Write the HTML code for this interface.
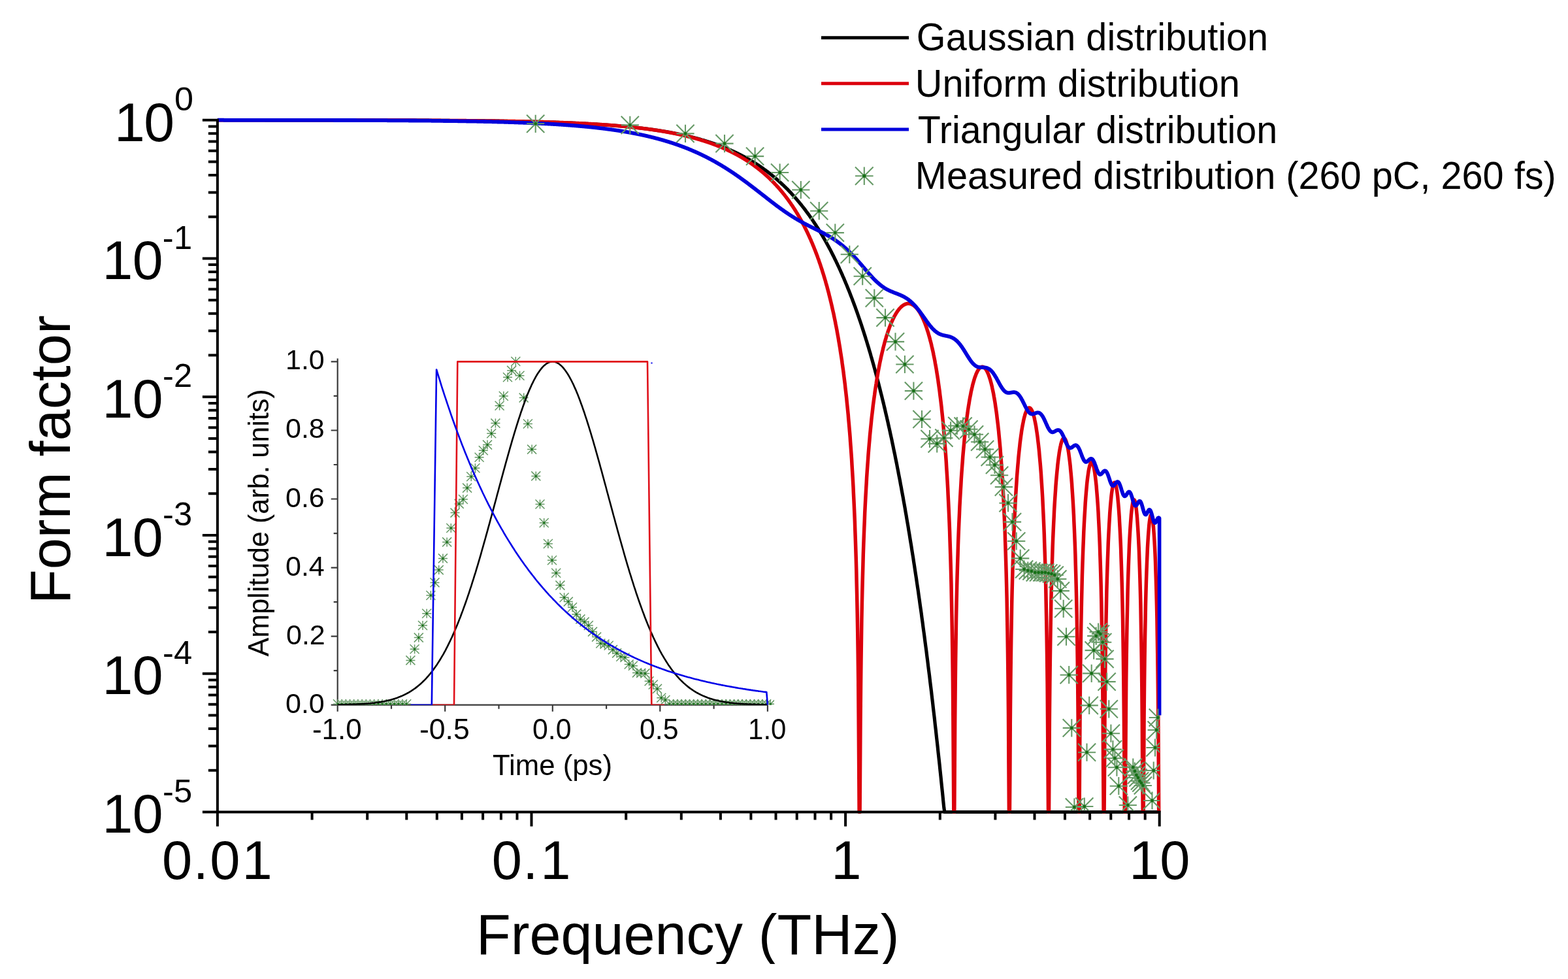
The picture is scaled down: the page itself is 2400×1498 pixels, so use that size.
<!DOCTYPE html>
<html><head><meta charset="utf-8"><style>
html,body{margin:0;padding:0;background:#fff;}
svg{display:block;}
text{font-family:"Liberation Sans",Arial,sans-serif;fill:#000;}
</style></head><body>
<svg width="2400" height="1498" viewBox="0 0 2400 1498">
<defs><clipPath id="cl"><rect x="0" y="0" width="2400" height="1475"/></clipPath>
<clipPath id="plot"><rect x="329.9" y="100" width="1447.8000000000002" height="1145.5"/></clipPath><clipPath id="sclip"><rect x="332.9" y="100" width="1442.3000000000002" height="1142.5"/></clipPath>
</defs>
<rect width="2400" height="1498" fill="#fff"/>
<g clip-path="url(#cl)">

<text transform="translate(266.94,168.50) scale(1.0292,1)" font-size="50.7">0</text>
<text transform="translate(249.00,592.42) scale(1.0000,1)" font-size="50.7">-2</text>
<text transform="translate(249.00,804.18) scale(1.0000,1)" font-size="50.7">-3</text>
<text transform="translate(249.00,1015.94) scale(1.0000,1)" font-size="50.7">-4</text>
<text transform="translate(249.00,1227.70) scale(1.0000,1)" font-size="50.7">-5</text>
<text transform="translate(729.05,1459.50) scale(0.9922,1)" font-size="87">Frequency (THz)</text>
<text transform="translate(107.00,923.95) rotate(-90) scale(0.9931,1)" font-size="87">Form factor</text>
<text transform="translate(1402.84,77.20) scale(0.9855,1)" font-size="58.5">Gaussian distribution</text>
<text transform="translate(1400.87,147.95) scale(0.9863,1)" font-size="58.5">Uniform distribution</text>
<text transform="translate(1404.82,218.70) scale(0.9823,1)" font-size="58.5">Triangular distribution</text>
<text transform="translate(1400.87,289.45) scale(0.9860,1)" font-size="58.5">Measured distribution (260 pC, 260 fs)</text>
<text transform="translate(437.00,1090.70) scale(1.0000,1)" font-size="43">0.0</text>
<text transform="translate(438.00,985.64) scale(1.0000,1)" font-size="43">0.2</text>
<text transform="translate(437.00,880.58) scale(1.0000,1)" font-size="43">0.4</text>
<text transform="translate(437.00,775.52) scale(1.0000,1)" font-size="43">0.6</text>
<text transform="translate(437.00,670.46) scale(1.0000,1)" font-size="43">0.8</text>
<text transform="translate(437.00,565.40) scale(1.0000,1)" font-size="43">1.0</text>
<text transform="translate(477.98,1131.00) scale(1.0099,1)" font-size="43.5">-1.0</text>
<text transform="translate(641.95,1131.00) scale(1.0239,1)" font-size="43.5">-0.5</text>
<text transform="translate(815.04,1131.00) scale(0.9825,1)" font-size="43.5">0.0</text>
<text transform="translate(979.04,1131.00) scale(0.9825,1)" font-size="43.5">0.5</text>
<text transform="translate(1145.11,1131.00) scale(0.9643,1)" font-size="43.5">1.0</text>
<text transform="translate(754.01,1186.00) scale(0.9944,1)" font-size="44">Time (ps)</text>
<text transform="translate(410.60,1004.40) rotate(-90) scale(0.9783,1)" font-size="44">Amplitude (arb. units)</text>
<text x="248.1 295.8 321.2 370.6" y="1345.1" font-size="83.1">0.01</text>
<text x="752.7 800.3 827.3" y="1345.1" font-size="83.1">0.1</text>
<text x="1272.3" y="1345.1" font-size="83.1">1</text>
<text x="1728.2 1775.3" y="1345.1" font-size="83.1">10</text>
<text x="175.0 220.3" y="216.0" font-size="84.2">10</text>
<text x="156.4 202.7" y="427.0" font-size="84.2">10</text>
<text x="156.4 202.7" y="638.7" font-size="84.2">10</text>
<text x="156.4 202.7" y="850.5" font-size="84.2">10</text>
<text x="156.4 202.7" y="1062.2" font-size="84.2">10</text>
<text x="156.4 202.7" y="1274.0" font-size="84.2">10</text>
<text x="248.8 266.0" y="380.7" font-size="50.7">-1</text>
<g clip-path="url(#plot)" fill="none" stroke-linejoin="round">
<path d="M332.9,183.7 L333.9,183.7 L334.8,183.7 L335.8,183.7 L336.7,183.7 L337.7,183.7 L338.7,183.7 L339.6,183.7 L340.6,183.7 L341.6,183.7 L342.5,183.7 L343.5,183.7 L344.4,183.7 L345.4,183.7 L346.4,183.7 L347.3,183.7 L348.3,183.7 L349.3,183.7 L350.2,183.7 L351.2,183.7 L352.1,183.7 L353.1,183.7 L354.1,183.7 L355.0,183.7 L356.0,183.7 L356.9,183.7 L357.9,183.7 L358.9,183.7 L359.8,183.7 L360.8,183.7 L361.8,183.7 L362.7,183.7 L363.7,183.7 L364.6,183.7 L365.6,183.7 L366.6,183.7 L367.5,183.7 L368.5,183.7 L369.4,183.7 L370.4,183.7 L371.4,183.7 L372.3,183.7 L373.3,183.7 L374.3,183.7 L375.2,183.7 L376.2,183.7 L377.1,183.7 L378.1,183.7 L379.1,183.7 L380.0,183.7 L381.0,183.7 L382.0,183.7 L382.9,183.7 L383.9,183.7 L384.8,183.7 L385.8,183.7 L386.8,183.7 L387.7,183.7 L388.7,183.7 L389.6,183.7 L390.6,183.7 L391.6,183.7 L392.5,183.7 L393.5,183.7 L394.5,183.7 L395.4,183.7 L396.4,183.7 L397.3,183.7 L398.3,183.7 L399.3,183.7 L400.2,183.7 L401.2,183.7 L402.2,183.7 L403.1,183.7 L404.1,183.7 L405.0,183.7 L406.0,183.8 L407.0,183.8 L407.9,183.8 L408.9,183.8 L409.8,183.8 L410.8,183.8 L411.8,183.8 L412.7,183.8 L413.7,183.8 L414.7,183.8 L415.6,183.8 L416.6,183.8 L417.5,183.8 L418.5,183.8 L419.5,183.8 L420.4,183.8 L421.4,183.8 L422.4,183.8 L423.3,183.8 L424.3,183.8 L425.2,183.8 L426.2,183.8 L427.2,183.8 L428.1,183.8 L429.1,183.8 L430.0,183.8 L431.0,183.8 L432.0,183.8 L432.9,183.8 L433.9,183.8 L434.9,183.8 L435.8,183.8 L436.8,183.8 L437.7,183.8 L438.7,183.8 L439.7,183.8 L440.6,183.8 L441.6,183.8 L442.5,183.8 L443.5,183.8 L444.5,183.8 L445.4,183.8 L446.4,183.8 L447.4,183.8 L448.3,183.8 L449.3,183.8 L450.2,183.8 L451.2,183.8 L452.2,183.8 L453.1,183.8 L454.1,183.8 L455.1,183.8 L456.0,183.8 L457.0,183.8 L457.9,183.8 L458.9,183.8 L459.9,183.8 L460.8,183.8 L461.8,183.8 L462.7,183.8 L463.7,183.8 L464.7,183.8 L465.6,183.8 L466.6,183.8 L467.6,183.8 L468.5,183.8 L469.5,183.8 L470.4,183.8 L471.4,183.8 L472.4,183.8 L473.3,183.8 L474.3,183.8 L475.3,183.8 L476.2,183.8 L477.2,183.8 L478.1,183.8 L479.1,183.8 L480.1,183.8 L481.0,183.8 L482.0,183.8 L482.9,183.8 L483.9,183.8 L484.9,183.8 L485.8,183.8 L486.8,183.8 L487.8,183.8 L488.7,183.8 L489.7,183.8 L490.6,183.8 L491.6,183.8 L492.6,183.8 L493.5,183.8 L494.5,183.8 L495.5,183.8 L496.4,183.8 L497.4,183.8 L498.3,183.8 L499.3,183.8 L500.3,183.8 L501.2,183.8 L502.2,183.8 L503.1,183.8 L504.1,183.8 L505.1,183.8 L506.0,183.8 L507.0,183.8 L508.0,183.8 L508.9,183.8 L509.9,183.8 L510.8,183.8 L511.8,183.8 L512.8,183.8 L513.7,183.8 L514.7,183.8 L515.6,183.8 L516.6,183.8 L517.6,183.8 L518.5,183.8 L519.5,183.8 L520.5,183.8 L521.4,183.9 L522.4,183.9 L523.3,183.9 L524.3,183.9 L525.3,183.9 L526.2,183.9 L527.2,183.9 L528.2,183.9 L529.1,183.9 L530.1,183.9 L531.0,183.9 L532.0,183.9 L533.0,183.9 L533.9,183.9 L534.9,183.9 L535.8,183.9 L536.8,183.9 L537.8,183.9 L538.7,183.9 L539.7,183.9 L540.7,183.9 L541.6,183.9 L542.6,183.9 L543.5,183.9 L544.5,183.9 L545.5,183.9 L546.4,183.9 L547.4,183.9 L548.4,183.9 L549.3,183.9 L550.3,183.9 L551.2,183.9 L552.2,183.9 L553.2,183.9 L554.1,183.9 L555.1,183.9 L556.0,183.9 L557.0,183.9 L558.0,183.9 L558.9,183.9 L559.9,183.9 L560.9,183.9 L561.8,183.9 L562.8,183.9 L563.7,183.9 L564.7,183.9 L565.7,183.9 L566.6,183.9 L567.6,183.9 L568.6,183.9 L569.5,183.9 L570.5,183.9 L571.4,183.9 L572.4,183.9 L573.4,183.9 L574.3,184.0 L575.3,184.0 L576.2,184.0 L577.2,184.0 L578.2,184.0 L579.1,184.0 L580.1,184.0 L581.1,184.0 L582.0,184.0 L583.0,184.0 L583.9,184.0 L584.9,184.0 L585.9,184.0 L586.8,184.0 L587.8,184.0 L588.7,184.0 L589.7,184.0 L590.7,184.0 L591.6,184.0 L592.6,184.0 L593.6,184.0 L594.5,184.0 L595.5,184.0 L596.4,184.0 L597.4,184.0 L598.4,184.0 L599.3,184.0 L600.3,184.0 L601.3,184.0 L602.2,184.0 L603.2,184.0 L604.1,184.0 L605.1,184.0 L606.1,184.0 L607.0,184.0 L608.0,184.0 L608.9,184.0 L609.9,184.1 L610.9,184.1 L611.8,184.1 L612.8,184.1 L613.8,184.1 L614.7,184.1 L615.7,184.1 L616.6,184.1 L617.6,184.1 L618.6,184.1 L619.5,184.1 L620.5,184.1 L621.5,184.1 L622.4,184.1 L623.4,184.1 L624.3,184.1 L625.3,184.1 L626.3,184.1 L627.2,184.1 L628.2,184.1 L629.1,184.1 L630.1,184.1 L631.1,184.1 L632.0,184.1 L633.0,184.1 L634.0,184.1 L634.9,184.1 L635.9,184.2 L636.8,184.2 L637.8,184.2 L638.8,184.2 L639.7,184.2 L640.7,184.2 L641.7,184.2 L642.6,184.2 L643.6,184.2 L644.5,184.2 L645.5,184.2 L646.5,184.2 L647.4,184.2 L648.4,184.2 L649.3,184.2 L650.3,184.2 L651.3,184.2 L652.2,184.2 L653.2,184.2 L654.2,184.2 L655.1,184.2 L656.1,184.2 L657.0,184.3 L658.0,184.3 L659.0,184.3 L659.9,184.3 L660.9,184.3 L661.8,184.3 L662.8,184.3 L663.8,184.3 L664.7,184.3 L665.7,184.3 L666.7,184.3 L667.6,184.3 L668.6,184.3 L669.5,184.3 L670.5,184.3 L671.5,184.3 L672.4,184.3 L673.4,184.3 L674.4,184.4 L675.3,184.4 L676.3,184.4 L677.2,184.4 L678.2,184.4 L679.2,184.4 L680.1,184.4 L681.1,184.4 L682.0,184.4 L683.0,184.4 L684.0,184.4 L684.9,184.4 L685.9,184.4 L686.9,184.4 L687.8,184.4 L688.8,184.5 L689.7,184.5 L690.7,184.5 L691.7,184.5 L692.6,184.5 L693.6,184.5 L694.6,184.5 L695.5,184.5 L696.5,184.5 L697.4,184.5 L698.4,184.5 L699.4,184.5 L700.3,184.5 L701.3,184.5 L702.2,184.6 L703.2,184.6 L704.2,184.6 L705.1,184.6 L706.1,184.6 L707.1,184.6 L708.0,184.6 L709.0,184.6 L709.9,184.6 L710.9,184.6 L711.9,184.6 L712.8,184.6 L713.8,184.7 L714.8,184.7 L715.7,184.7 L716.7,184.7 L717.6,184.7 L718.6,184.7 L719.6,184.7 L720.5,184.7 L721.5,184.7 L722.4,184.7 L723.4,184.7 L724.4,184.8 L725.3,184.8 L726.3,184.8 L727.3,184.8 L728.2,184.8 L729.2,184.8 L730.1,184.8 L731.1,184.8 L732.1,184.8 L733.0,184.8 L734.0,184.9 L734.9,184.9 L735.9,184.9 L736.9,184.9 L737.8,184.9 L738.8,184.9 L739.8,184.9 L740.7,184.9 L741.7,184.9 L742.6,185.0 L743.6,185.0 L744.6,185.0 L745.5,185.0 L746.5,185.0 L747.5,185.0 L748.4,185.0 L749.4,185.0 L750.3,185.1 L751.3,185.1 L752.3,185.1 L753.2,185.1 L754.2,185.1 L755.1,185.1 L756.1,185.1 L757.1,185.1 L758.0,185.2 L759.0,185.2 L760.0,185.2 L760.9,185.2 L761.9,185.2 L762.8,185.2 L763.8,185.2 L764.8,185.3 L765.7,185.3 L766.7,185.3 L767.7,185.3 L768.6,185.3 L769.6,185.3 L770.5,185.3 L771.5,185.4 L772.5,185.4 L773.4,185.4 L774.4,185.4 L775.3,185.4 L776.3,185.4 L777.3,185.5 L778.2,185.5 L779.2,185.5 L780.2,185.5 L781.1,185.5 L782.1,185.5 L783.0,185.6 L784.0,185.6 L785.0,185.6 L785.9,185.6 L786.9,185.6 L787.9,185.6 L788.8,185.7 L789.8,185.7 L790.7,185.7 L791.7,185.7 L792.7,185.7 L793.6,185.8 L794.6,185.8 L795.5,185.8 L796.5,185.8 L797.5,185.8 L798.4,185.8 L799.4,185.9 L800.4,185.9 L801.3,185.9 L802.3,185.9 L803.2,186.0 L804.2,186.0 L805.2,186.0 L806.1,186.0 L807.1,186.0 L808.0,186.1 L809.0,186.1 L810.0,186.1 L810.9,186.1 L811.9,186.1 L812.9,186.2 L813.8,186.2 L814.8,186.2 L815.7,186.2 L816.7,186.3 L817.7,186.3 L818.6,186.3 L819.6,186.3 L820.6,186.4 L821.5,186.4 L822.5,186.4 L823.4,186.4 L824.4,186.5 L825.4,186.5 L826.3,186.5 L827.3,186.5 L828.2,186.6 L829.2,186.6 L830.2,186.6 L831.1,186.6 L832.1,186.7 L833.1,186.7 L834.0,186.7 L835.0,186.8 L835.9,186.8 L836.9,186.8 L837.9,186.8 L838.8,186.9 L839.8,186.9 L840.8,186.9 L841.7,187.0 L842.7,187.0 L843.6,187.0 L844.6,187.0 L845.6,187.1 L846.5,187.1 L847.5,187.1 L848.4,187.2 L849.4,187.2 L850.4,187.2 L851.3,187.3 L852.3,187.3 L853.3,187.3 L854.2,187.4 L855.2,187.4 L856.1,187.4 L857.1,187.5 L858.1,187.5 L859.0,187.5 L860.0,187.6 L861.0,187.6 L861.9,187.6 L862.9,187.7 L863.8,187.7 L864.8,187.8 L865.8,187.8 L866.7,187.8 L867.7,187.9 L868.6,187.9 L869.6,188.0 L870.6,188.0 L871.5,188.0 L872.5,188.1 L873.5,188.1 L874.4,188.2 L875.4,188.2 L876.3,188.2 L877.3,188.3 L878.3,188.3 L879.2,188.4 L880.2,188.4 L881.1,188.4 L882.1,188.5 L883.1,188.5 L884.0,188.6 L885.0,188.6 L886.0,188.7 L886.9,188.7 L887.9,188.8 L888.8,188.8 L889.8,188.9 L890.8,188.9 L891.7,189.0 L892.7,189.0 L893.7,189.1 L894.6,189.1 L895.6,189.2 L896.5,189.2 L897.5,189.3 L898.5,189.3 L899.4,189.4 L900.4,189.4 L901.3,189.5 L902.3,189.5 L903.3,189.6 L904.2,189.6 L905.2,189.7 L906.2,189.7 L907.1,189.8 L908.1,189.8 L909.0,189.9 L910.0,190.0 L911.0,190.0 L911.9,190.1 L912.9,190.1 L913.9,190.2 L914.8,190.3 L915.8,190.3 L916.7,190.4 L917.7,190.4 L918.7,190.5 L919.6,190.6 L920.6,190.6 L921.5,190.7 L922.5,190.8 L923.5,190.8 L924.4,190.9 L925.4,191.0 L926.4,191.0 L927.3,191.1 L928.3,191.2 L929.2,191.2 L930.2,191.3 L931.2,191.4 L932.1,191.4 L933.1,191.5 L934.1,191.6 L935.0,191.7 L936.0,191.7 L936.9,191.8 L937.9,191.9 L938.9,192.0 L939.8,192.0 L940.8,192.1 L941.7,192.2 L942.7,192.3 L943.7,192.3 L944.6,192.4 L945.6,192.5 L946.6,192.6 L947.5,192.7 L948.5,192.7 L949.4,192.8 L950.4,192.9 L951.4,193.0 L952.3,193.1 L953.3,193.2 L954.2,193.3 L955.2,193.4 L956.2,193.4 L957.1,193.5 L958.1,193.6 L959.1,193.7 L960.0,193.8 L961.0,193.9 L961.9,194.0 L962.9,194.1 L963.9,194.2 L964.8,194.3 L965.8,194.4 L966.8,194.5 L967.7,194.6 L968.7,194.7 L969.6,194.8 L970.6,194.9 L971.6,195.0 L972.5,195.1 L973.5,195.2 L974.4,195.3 L975.4,195.4 L976.4,195.5 L977.3,195.6 L978.3,195.7 L979.3,195.9 L980.2,196.0 L981.2,196.1 L982.1,196.2 L983.1,196.3 L984.1,196.4 L985.0,196.5 L986.0,196.7 L987.0,196.8 L987.9,196.9 L988.9,197.0 L989.8,197.2 L990.8,197.3 L991.8,197.4 L992.7,197.5 L993.7,197.7 L994.6,197.8 L995.6,197.9 L996.6,198.0 L997.5,198.2 L998.5,198.3 L999.5,198.4 L1000.4,198.6 L1001.4,198.7 L1002.3,198.9 L1003.3,199.0 L1004.3,199.1 L1005.2,199.3 L1006.2,199.4 L1007.2,199.6 L1008.1,199.7 L1009.1,199.9 L1010.0,200.0 L1011.0,200.2 L1012.0,200.3 L1012.9,200.5 L1013.9,200.6 L1014.8,200.8 L1015.8,201.0 L1016.8,201.1 L1017.7,201.3 L1018.7,201.4 L1019.7,201.6 L1020.6,201.8 L1021.6,201.9 L1022.5,202.1 L1023.5,202.3 L1024.5,202.4 L1025.4,202.6 L1026.4,202.8 L1027.3,203.0 L1028.3,203.1 L1029.3,203.3 L1030.2,203.5 L1031.2,203.7 L1032.2,203.9 L1033.1,204.1 L1034.1,204.3 L1035.0,204.4 L1036.0,204.6 L1037.0,204.8 L1037.9,205.0 L1038.9,205.2 L1039.9,205.4 L1040.8,205.6 L1041.8,205.8 L1042.7,206.0 L1043.7,206.2 L1044.7,206.4 L1045.6,206.7 L1046.6,206.9 L1047.5,207.1 L1048.5,207.3 L1049.5,207.5 L1050.4,207.7 L1051.4,208.0 L1052.4,208.2 L1053.3,208.4 L1054.3,208.6 L1055.2,208.9 L1056.2,209.1 L1057.2,209.3 L1058.1,209.6 L1059.1,209.8 L1060.1,210.1 L1061.0,210.3 L1062.0,210.6 L1062.9,210.8 L1063.9,211.1 L1064.9,211.3 L1065.8,211.6 L1066.8,211.8 L1067.7,212.1 L1068.7,212.3 L1069.7,212.6 L1070.6,212.9 L1071.6,213.1 L1072.6,213.4 L1073.5,213.7 L1074.5,214.0 L1075.4,214.2 L1076.4,214.5 L1077.4,214.8 L1078.3,215.1 L1079.3,215.4 L1080.3,215.7 L1081.2,216.0 L1082.2,216.3 L1083.1,216.6 L1084.1,216.9 L1085.1,217.2 L1086.0,217.5 L1087.0,217.8 L1087.9,218.1 L1088.9,218.5 L1089.9,218.8 L1090.8,219.1 L1091.8,219.4 L1092.8,219.8 L1093.7,220.1 L1094.7,220.4 L1095.6,220.8 L1096.6,221.1 L1097.6,221.5 L1098.5,221.8 L1099.5,222.2 L1100.4,222.5 L1101.4,222.9 L1102.4,223.2 L1103.3,223.6 L1104.3,224.0 L1105.3,224.4 L1106.2,224.7 L1107.2,225.1 L1108.1,225.5 L1109.1,225.9 L1110.1,226.3 L1111.0,226.7 L1112.0,227.1 L1113.0,227.5 L1113.9,227.9 L1114.9,228.3 L1115.8,228.7 L1116.8,229.1 L1117.8,229.5 L1118.7,229.9 L1119.7,230.4 L1120.6,230.8 L1121.6,231.2 L1122.6,231.7 L1123.5,232.1 L1124.5,232.6 L1125.5,233.0 L1126.4,233.5 L1127.4,233.9 L1128.3,234.4 L1129.3,234.9 L1130.3,235.4 L1131.2,235.8 L1132.2,236.3 L1133.2,236.8 L1134.1,237.3 L1135.1,237.8 L1136.0,238.3 L1137.0,238.8 L1138.0,239.3 L1138.9,239.8 L1139.9,240.3 L1140.8,240.9 L1141.8,241.4 L1142.8,241.9 L1143.7,242.5 L1144.7,243.0 L1145.7,243.6 L1146.6,244.1 L1147.6,244.7 L1148.5,245.2 L1149.5,245.8 L1150.5,246.4 L1151.4,247.0 L1152.4,247.6 L1153.4,248.1 L1154.3,248.7 L1155.3,249.3 L1156.2,250.0 L1157.2,250.6 L1158.2,251.2 L1159.1,251.8 L1160.1,252.4 L1161.0,253.1 L1162.0,253.7 L1163.0,254.4 L1163.9,255.0 L1164.9,255.7 L1165.9,256.4 L1166.8,257.0 L1167.8,257.7 L1168.7,258.4 L1169.7,259.1 L1170.7,259.8 L1171.6,260.5 L1172.6,261.2 L1173.5,261.9 L1174.5,262.6 L1175.5,263.4 L1176.4,264.1 L1177.4,264.8 L1178.4,265.6 L1179.3,266.4 L1180.3,267.1 L1181.2,267.9 L1182.2,268.7 L1183.2,269.5 L1184.1,270.3 L1185.1,271.1 L1186.1,271.9 L1187.0,272.7 L1188.0,273.5 L1188.9,274.3 L1189.9,275.2 L1190.9,276.0 L1191.8,276.9 L1192.8,277.7 L1193.7,278.6 L1194.7,279.5 L1195.7,280.4 L1196.6,281.3 L1197.6,282.2 L1198.6,283.1 L1199.5,284.0 L1200.5,284.9 L1201.4,285.9 L1202.4,286.8 L1203.4,287.8 L1204.3,288.7 L1205.3,289.7 L1206.3,290.7 L1207.2,291.7 L1208.2,292.7 L1209.1,293.7 L1210.1,294.7 L1211.1,295.7 L1212.0,296.8 L1213.0,297.8 L1213.9,298.9 L1214.9,299.9 L1215.9,301.0 L1216.8,302.1 L1217.8,303.2 L1218.8,304.3 L1219.7,305.4 L1220.7,306.6 L1221.6,307.7 L1222.6,308.8 L1223.6,310.0 L1224.5,311.2 L1225.5,312.3 L1226.5,313.5 L1227.4,314.7 L1228.4,316.0 L1229.3,317.2 L1230.3,318.4 L1231.3,319.7 L1232.2,320.9 L1233.2,322.2 L1234.1,323.5 L1235.1,324.8 L1236.1,326.1 L1237.0,327.4 L1238.0,328.7 L1239.0,330.1 L1239.9,331.4 L1240.9,332.8 L1241.8,334.2 L1242.8,335.6 L1243.8,337.0 L1244.7,338.4 L1245.7,339.8 L1246.6,341.3 L1247.6,342.7 L1248.6,344.2 L1249.5,345.7 L1250.5,347.2 L1251.5,348.7 L1252.4,350.2 L1253.4,351.8 L1254.3,353.3 L1255.3,354.9 L1256.3,356.5 L1257.2,358.1 L1258.2,359.7 L1259.2,361.3 L1260.1,363.0 L1261.1,364.6 L1262.0,366.3 L1263.0,368.0 L1264.0,369.7 L1264.9,371.4 L1265.9,373.2 L1266.8,374.9 L1267.8,376.7 L1268.8,378.5 L1269.7,380.3 L1270.7,382.1 L1271.7,383.9 L1272.6,385.8 L1273.6,387.7 L1274.5,389.5 L1275.5,391.5 L1276.5,393.4 L1277.4,395.3 L1278.4,397.3 L1279.4,399.3 L1280.3,401.3 L1281.3,403.3 L1282.2,405.3 L1283.2,407.3 L1284.2,409.4 L1285.1,411.5 L1286.1,413.6 L1287.0,415.7 L1288.0,417.9 L1289.0,420.1 L1289.9,422.3 L1290.9,424.5 L1291.9,426.7 L1292.8,428.9 L1293.8,431.2 L1294.7,433.5 L1295.7,435.8 L1296.7,438.2 L1297.6,440.5 L1298.6,442.9 L1299.6,445.3 L1300.5,447.7 L1301.5,450.2 L1302.4,452.6 L1303.4,455.1 L1304.4,457.6 L1305.3,460.2 L1306.3,462.7 L1307.2,465.3 L1308.2,467.9 L1309.2,470.5 L1310.1,473.2 L1311.1,475.9 L1312.1,478.6 L1313.0,481.3 L1314.0,484.1 L1314.9,486.8 L1315.9,489.7 L1316.9,492.5 L1317.8,495.3 L1318.8,498.2 L1319.7,501.1 L1320.7,504.1 L1321.7,507.1 L1322.6,510.0 L1323.6,513.1 L1324.6,516.1 L1325.5,519.2 L1326.5,522.3 L1327.4,525.4 L1328.4,528.6 L1329.4,531.8 L1330.3,535.0 L1331.3,538.3 L1332.3,541.6 L1333.2,544.9 L1334.2,548.2 L1335.1,551.6 L1336.1,555.0 L1337.1,558.4 L1338.0,561.9 L1339.0,565.4 L1339.9,568.9 L1340.9,572.5 L1341.9,576.1 L1342.8,579.7 L1343.8,583.4 L1344.8,587.1 L1345.7,590.8 L1346.7,594.6 L1347.6,598.4 L1348.6,602.3 L1349.6,606.1 L1350.5,610.0 L1351.5,614.0 L1352.5,618.0 L1353.4,622.0 L1354.4,626.0 L1355.3,630.1 L1356.3,634.3 L1357.3,638.5 L1358.2,642.7 L1359.2,646.9 L1360.1,651.2 L1361.1,655.5 L1362.1,659.9 L1363.0,664.3 L1364.0,668.8 L1365.0,673.2 L1365.9,677.8 L1366.9,682.4 L1367.8,687.0 L1368.8,691.6 L1369.8,696.3 L1370.7,701.1 L1371.7,705.9 L1372.7,710.7 L1373.6,715.6 L1374.6,720.5 L1375.5,725.5 L1376.5,730.5 L1377.5,735.6 L1378.4,740.7 L1379.4,745.8 L1380.3,751.0 L1381.3,756.3 L1382.3,761.6 L1383.2,766.9 L1384.2,772.3 L1385.2,777.8 L1386.1,783.3 L1387.1,788.8 L1388.0,794.4 L1389.0,800.1 L1390.0,805.8 L1390.9,811.6 L1391.9,817.4 L1392.8,823.2 L1393.8,829.2 L1394.8,835.1 L1395.7,841.2 L1396.7,847.3 L1397.7,853.4 L1398.6,859.6 L1399.6,865.9 L1400.5,872.2 L1401.5,878.6 L1402.5,885.0 L1403.4,891.5 L1404.4,898.0 L1405.4,904.7 L1406.3,911.3 L1407.3,918.1 L1408.2,924.9 L1409.2,931.7 L1410.2,938.7 L1411.1,945.6 L1412.1,952.7 L1413.0,959.8 L1414.0,967.0 L1415.0,974.3 L1415.9,981.6 L1416.9,989.0 L1417.9,996.4 L1418.8,1003.9 L1419.8,1011.5 L1420.7,1019.2 L1421.7,1026.9 L1422.7,1034.7 L1423.6,1042.6 L1424.6,1050.6 L1425.6,1058.6 L1426.5,1066.7 L1427.5,1074.9 L1428.4,1083.1 L1429.4,1091.5 L1430.4,1099.9 L1431.3,1108.4 L1432.3,1116.9 L1433.2,1125.6 L1434.2,1134.3 L1435.2,1143.1 L1436.1,1152.0 L1437.1,1160.9 L1438.1,1170.0 L1439.0,1179.1 L1440.0,1188.3 L1440.9,1197.6 L1441.9,1207.0 L1442.9,1216.5 L1443.8,1226.0 L1444.8,1235.7 L1445.8,1242.5 L1446.7,1242.5 L1447.7,1242.5 L1448.6,1242.5 L1449.6,1242.5 L1450.6,1242.5 L1451.5,1242.5 L1452.5,1242.5 L1453.4,1242.5 L1454.4,1242.5 L1455.4,1242.5 L1456.3,1242.5 L1457.3,1242.5 L1458.3,1242.5 L1459.2,1242.5 L1460.2,1242.5 L1461.1,1242.5 L1462.1,1242.5 L1463.1,1242.5 L1464.0,1242.5 L1465.0,1242.5 L1465.9,1242.5 L1466.9,1242.5 L1467.9,1242.5 L1468.8,1242.5 L1469.8,1242.5 L1470.8,1242.5 L1471.7,1242.5 L1472.7,1242.5 L1473.6,1242.5 L1474.6,1242.5 L1475.6,1242.5 L1476.5,1242.5 L1477.5,1242.5 L1478.5,1242.5 L1479.4,1242.5 L1480.4,1242.5 L1481.3,1242.5 L1482.3,1242.5 L1483.3,1242.5 L1484.2,1242.5 L1485.2,1242.5 L1486.1,1242.5 L1487.1,1242.5 L1488.1,1242.5 L1489.0,1242.5 L1490.0,1242.5 L1491.0,1242.5 L1491.9,1242.5 L1492.9,1242.5 L1493.8,1242.5 L1494.8,1242.5 L1495.8,1242.5 L1496.7,1242.5 L1497.7,1242.5 L1498.7,1242.5 L1499.6,1242.5 L1500.6,1242.5 L1501.5,1242.5 L1502.5,1242.5 L1503.5,1242.5 L1504.4,1242.5 L1505.4,1242.5 L1506.3,1242.5 L1507.3,1242.5 L1508.3,1242.5 L1509.2,1242.5 L1510.2,1242.5 L1511.2,1242.5 L1512.1,1242.5 L1513.1,1242.5 L1514.0,1242.5 L1515.0,1242.5 L1516.0,1242.5 L1516.9,1242.5 L1517.9,1242.5 L1518.9,1242.5 L1519.8,1242.5 L1520.8,1242.5 L1521.7,1242.5 L1522.7,1242.5 L1523.7,1242.5 L1524.6,1242.5 L1525.6,1242.5 L1526.5,1242.5 L1527.5,1242.5 L1528.5,1242.5 L1529.4,1242.5 L1530.4,1242.5 L1531.4,1242.5 L1532.3,1242.5 L1533.3,1242.5 L1534.2,1242.5 L1535.2,1242.5 L1536.2,1242.5 L1537.1,1242.5 L1538.1,1242.5 L1539.0,1242.5 L1540.0,1242.5 L1541.0,1242.5 L1541.9,1242.5 L1542.9,1242.5 L1543.9,1242.5 L1544.8,1242.5 L1545.8,1242.5 L1546.7,1242.5 L1547.7,1242.5 L1548.7,1242.5 L1549.6,1242.5 L1550.6,1242.5 L1551.6,1242.5 L1552.5,1242.5 L1553.5,1242.5 L1554.4,1242.5 L1555.4,1242.5 L1556.4,1242.5 L1557.3,1242.5 L1558.3,1242.5 L1559.2,1242.5 L1560.2,1242.5 L1561.2,1242.5 L1562.1,1242.5 L1563.1,1242.5 L1564.1,1242.5 L1565.0,1242.5 L1566.0,1242.5 L1566.9,1242.5 L1567.9,1242.5 L1568.9,1242.5 L1569.8,1242.5 L1570.8,1242.5 L1571.8,1242.5 L1572.7,1242.5 L1573.7,1242.5 L1574.6,1242.5 L1575.6,1242.5 L1576.6,1242.5 L1577.5,1242.5 L1578.5,1242.5 L1579.4,1242.5 L1580.4,1242.5 L1581.4,1242.5 L1582.3,1242.5 L1583.3,1242.5 L1584.3,1242.5 L1585.2,1242.5 L1586.2,1242.5 L1587.1,1242.5 L1588.1,1242.5 L1589.1,1242.5 L1590.0,1242.5 L1591.0,1242.5 L1592.0,1242.5 L1592.9,1242.5 L1593.9,1242.5 L1594.8,1242.5 L1595.8,1242.5 L1596.8,1242.5 L1597.7,1242.5 L1598.7,1242.5 L1599.6,1242.5 L1600.6,1242.5 L1601.6,1242.5 L1602.5,1242.5 L1603.5,1242.5 L1604.5,1242.5 L1605.4,1242.5 L1606.4,1242.5 L1607.3,1242.5 L1608.3,1242.5 L1609.3,1242.5 L1610.2,1242.5 L1611.2,1242.5 L1612.1,1242.5 L1613.1,1242.5 L1614.1,1242.5 L1615.0,1242.5 L1616.0,1242.5 L1617.0,1242.5 L1617.9,1242.5 L1618.9,1242.5 L1619.8,1242.5 L1620.8,1242.5 L1621.8,1242.5 L1622.7,1242.5 L1623.7,1242.5 L1624.7,1242.5 L1625.6,1242.5 L1626.6,1242.5 L1627.5,1242.5 L1628.5,1242.5 L1629.5,1242.5 L1630.4,1242.5 L1631.4,1242.5 L1632.3,1242.5 L1633.3,1242.5 L1634.3,1242.5 L1635.2,1242.5 L1636.2,1242.5 L1637.2,1242.5 L1638.1,1242.5 L1639.1,1242.5 L1640.0,1242.5 L1641.0,1242.5 L1642.0,1242.5 L1642.9,1242.5 L1643.9,1242.5 L1644.9,1242.5 L1645.8,1242.5 L1646.8,1242.5 L1647.7,1242.5 L1648.7,1242.5 L1649.7,1242.5 L1650.6,1242.5 L1651.6,1242.5 L1652.5,1242.5 L1653.5,1242.5 L1654.5,1242.5 L1655.4,1242.5 L1656.4,1242.5 L1657.4,1242.5 L1658.3,1242.5 L1659.3,1242.5 L1660.2,1242.5 L1661.2,1242.5 L1662.2,1242.5 L1663.1,1242.5 L1664.1,1242.5 L1665.1,1242.5 L1666.0,1242.5 L1667.0,1242.5 L1667.9,1242.5 L1668.9,1242.5 L1669.9,1242.5 L1670.8,1242.5 L1671.8,1242.5 L1672.7,1242.5 L1673.7,1242.5 L1674.7,1242.5 L1675.6,1242.5 L1676.6,1242.5 L1677.6,1242.5 L1678.5,1242.5 L1679.5,1242.5 L1680.4,1242.5 L1681.4,1242.5 L1682.4,1242.5 L1683.3,1242.5 L1684.3,1242.5 L1685.2,1242.5 L1686.2,1242.5 L1687.2,1242.5 L1688.1,1242.5 L1689.1,1242.5 L1690.1,1242.5 L1691.0,1242.5 L1692.0,1242.5 L1692.9,1242.5 L1693.9,1242.5 L1694.9,1242.5 L1695.8,1242.5 L1696.8,1242.5 L1697.8,1242.5 L1698.7,1242.5 L1699.7,1242.5 L1700.6,1242.5 L1701.6,1242.5 L1702.6,1242.5 L1703.5,1242.5 L1704.5,1242.5 L1705.4,1242.5 L1706.4,1242.5 L1707.4,1242.5 L1708.3,1242.5 L1709.3,1242.5 L1710.3,1242.5 L1711.2,1242.5 L1712.2,1242.5 L1713.1,1242.5 L1714.1,1242.5 L1715.1,1242.5 L1716.0,1242.5 L1717.0,1242.5 L1718.0,1242.5 L1718.9,1242.5 L1719.9,1242.5 L1720.8,1242.5 L1721.8,1242.5 L1722.8,1242.5 L1723.7,1242.5 L1724.7,1242.5 L1725.6,1242.5 L1726.6,1242.5 L1727.6,1242.5 L1728.5,1242.5 L1729.5,1242.5 L1730.5,1242.5 L1731.4,1242.5 L1732.4,1242.5 L1733.3,1242.5 L1734.3,1242.5 L1735.3,1242.5 L1736.2,1242.5 L1737.2,1242.5 L1738.2,1242.5 L1739.1,1242.5 L1740.1,1242.5 L1741.0,1242.5 L1742.0,1242.5 L1743.0,1242.5 L1743.9,1242.5 L1744.9,1242.5 L1745.8,1242.5 L1746.8,1242.5 L1747.8,1242.5 L1748.7,1242.5 L1749.7,1242.5 L1750.7,1242.5 L1751.6,1242.5 L1752.6,1242.5 L1753.5,1242.5 L1754.5,1242.5 L1755.5,1242.5 L1756.4,1242.5 L1757.4,1242.5 L1758.3,1242.5 L1759.3,1242.5 L1760.3,1242.5 L1761.2,1242.5 L1762.2,1242.5 L1763.2,1242.5 L1764.1,1242.5 L1765.1,1242.5 L1766.0,1242.5 L1767.0,1242.5 L1768.0,1242.5 L1768.9,1242.5 L1769.9,1242.5 L1770.9,1242.5 L1771.8,1242.5 L1772.8,1242.5 L1773.7,1242.5 L1774.7,1242.5" stroke="#000" stroke-width="5.2"/>
<path d="M332.9,183.7 L333.4,183.7 L333.9,183.7 L334.3,183.7 L334.8,183.7 L335.3,183.7 L335.8,183.7 L336.3,183.7 L336.7,183.7 L337.2,183.7 L337.7,183.7 L338.2,183.7 L338.7,183.7 L339.1,183.7 L339.6,183.7 L340.1,183.7 L340.6,183.7 L341.1,183.7 L341.6,183.7 L342.0,183.7 L342.5,183.7 L343.0,183.7 L343.5,183.7 L344.0,183.7 L344.4,183.7 L344.9,183.7 L345.4,183.7 L345.9,183.7 L346.4,183.7 L346.8,183.7 L347.3,183.7 L347.8,183.7 L348.3,183.7 L348.8,183.7 L349.2,183.7 L349.7,183.7 L350.2,183.7 L350.7,183.7 L351.2,183.7 L351.6,183.7 L352.1,183.7 L352.6,183.7 L353.1,183.7 L353.6,183.7 L354.1,183.7 L354.5,183.7 L355.0,183.7 L355.5,183.7 L356.0,183.7 L356.5,183.7 L356.9,183.7 L357.4,183.7 L357.9,183.7 L358.4,183.7 L358.9,183.7 L359.3,183.7 L359.8,183.7 L360.3,183.7 L360.8,183.7 L361.3,183.7 L361.7,183.7 L362.2,183.7 L362.7,183.7 L363.2,183.7 L363.7,183.7 L364.1,183.7 L364.6,183.7 L365.1,183.7 L365.6,183.7 L366.1,183.7 L366.6,183.7 L367.0,183.7 L367.5,183.7 L368.0,183.7 L368.5,183.7 L369.0,183.7 L369.4,183.7 L369.9,183.7 L370.4,183.7 L370.9,183.7 L371.4,183.7 L371.8,183.7 L372.3,183.7 L372.8,183.7 L373.3,183.7 L373.8,183.7 L374.2,183.7 L374.7,183.7 L375.2,183.7 L375.7,183.7 L376.2,183.7 L376.6,183.7 L377.1,183.7 L377.6,183.7 L378.1,183.7 L378.6,183.7 L379.1,183.7 L379.5,183.7 L380.0,183.7 L380.5,183.7 L381.0,183.7 L381.5,183.7 L381.9,183.7 L382.4,183.7 L382.9,183.7 L383.4,183.7 L383.9,183.7 L384.3,183.7 L384.8,183.7 L385.3,183.7 L385.8,183.7 L386.3,183.7 L386.7,183.7 L387.2,183.7 L387.7,183.7 L388.2,183.7 L388.7,183.7 L389.1,183.7 L389.6,183.7 L390.1,183.7 L390.6,183.7 L391.1,183.7 L391.6,183.7 L392.0,183.7 L392.5,183.7 L393.0,183.7 L393.5,183.7 L394.0,183.7 L394.4,183.7 L394.9,183.7 L395.4,183.7 L395.9,183.7 L396.4,183.7 L396.8,183.7 L397.3,183.7 L397.8,183.7 L398.3,183.7 L398.8,183.7 L399.2,183.7 L399.7,183.7 L400.2,183.7 L400.7,183.7 L401.2,183.7 L401.6,183.7 L402.1,183.7 L402.6,183.7 L403.1,183.7 L403.6,183.7 L404.1,183.7 L404.5,183.7 L405.0,183.7 L405.5,183.7 L406.0,183.7 L406.5,183.7 L406.9,183.8 L407.4,183.8 L407.9,183.8 L408.4,183.8 L408.9,183.8 L409.3,183.8 L409.8,183.8 L410.3,183.8 L410.8,183.8 L411.3,183.8 L411.7,183.8 L412.2,183.8 L412.7,183.8 L413.2,183.8 L413.7,183.8 L414.1,183.8 L414.6,183.8 L415.1,183.8 L415.6,183.8 L416.1,183.8 L416.6,183.8 L417.0,183.8 L417.5,183.8 L418.0,183.8 L418.5,183.8 L419.0,183.8 L419.4,183.8 L419.9,183.8 L420.4,183.8 L420.9,183.8 L421.4,183.8 L421.8,183.8 L422.3,183.8 L422.8,183.8 L423.3,183.8 L423.8,183.8 L424.2,183.8 L424.7,183.8 L425.2,183.8 L425.7,183.8 L426.2,183.8 L426.6,183.8 L427.1,183.8 L427.6,183.8 L428.1,183.8 L428.6,183.8 L429.1,183.8 L429.5,183.8 L430.0,183.8 L430.5,183.8 L431.0,183.8 L431.5,183.8 L431.9,183.8 L432.4,183.8 L432.9,183.8 L433.4,183.8 L433.9,183.8 L434.3,183.8 L434.8,183.8 L435.3,183.8 L435.8,183.8 L436.3,183.8 L436.7,183.8 L437.2,183.8 L437.7,183.8 L438.2,183.8 L438.7,183.8 L439.1,183.8 L439.6,183.8 L440.1,183.8 L440.6,183.8 L441.1,183.8 L441.6,183.8 L442.0,183.8 L442.5,183.8 L443.0,183.8 L443.5,183.8 L444.0,183.8 L444.4,183.8 L444.9,183.8 L445.4,183.8 L445.9,183.8 L446.4,183.8 L446.8,183.8 L447.3,183.8 L447.8,183.8 L448.3,183.8 L448.8,183.8 L449.2,183.8 L449.7,183.8 L450.2,183.8 L450.7,183.8 L451.2,183.8 L451.6,183.8 L452.1,183.8 L452.6,183.8 L453.1,183.8 L453.6,183.8 L454.1,183.8 L454.5,183.8 L455.0,183.8 L455.5,183.8 L456.0,183.8 L456.5,183.8 L456.9,183.8 L457.4,183.8 L457.9,183.8 L458.4,183.8 L458.9,183.8 L459.3,183.8 L459.8,183.8 L460.3,183.8 L460.8,183.8 L461.3,183.8 L461.7,183.8 L462.2,183.8 L462.7,183.8 L463.2,183.8 L463.7,183.8 L464.1,183.8 L464.6,183.8 L465.1,183.8 L465.6,183.8 L466.1,183.8 L466.6,183.8 L467.0,183.8 L467.5,183.8 L468.0,183.8 L468.5,183.8 L469.0,183.8 L469.4,183.8 L469.9,183.8 L470.4,183.8 L470.9,183.8 L471.4,183.8 L471.8,183.8 L472.3,183.8 L472.8,183.8 L473.3,183.8 L473.8,183.8 L474.2,183.8 L474.7,183.8 L475.2,183.8 L475.7,183.8 L476.2,183.8 L476.6,183.8 L477.1,183.8 L477.6,183.8 L478.1,183.8 L478.6,183.8 L479.1,183.8 L479.5,183.8 L480.0,183.8 L480.5,183.8 L481.0,183.8 L481.5,183.8 L481.9,183.8 L482.4,183.8 L482.9,183.8 L483.4,183.8 L483.9,183.8 L484.3,183.8 L484.8,183.8 L485.3,183.8 L485.8,183.8 L486.3,183.8 L486.7,183.8 L487.2,183.8 L487.7,183.8 L488.2,183.8 L488.7,183.8 L489.1,183.8 L489.6,183.8 L490.1,183.8 L490.6,183.8 L491.1,183.8 L491.6,183.8 L492.0,183.8 L492.5,183.8 L493.0,183.8 L493.5,183.8 L494.0,183.8 L494.4,183.8 L494.9,183.8 L495.4,183.8 L495.9,183.8 L496.4,183.8 L496.8,183.8 L497.3,183.8 L497.8,183.8 L498.3,183.8 L498.8,183.8 L499.2,183.8 L499.7,183.8 L500.2,183.8 L500.7,183.8 L501.2,183.8 L501.6,183.8 L502.1,183.8 L502.6,183.8 L503.1,183.8 L503.6,183.8 L504.1,183.8 L504.5,183.8 L505.0,183.8 L505.5,183.8 L506.0,183.8 L506.5,183.8 L506.9,183.8 L507.4,183.8 L507.9,183.8 L508.4,183.8 L508.9,183.8 L509.3,183.8 L509.8,183.8 L510.3,183.8 L510.8,183.8 L511.3,183.8 L511.7,183.8 L512.2,183.8 L512.7,183.8 L513.2,183.8 L513.7,183.8 L514.1,183.8 L514.6,183.8 L515.1,183.8 L515.6,183.8 L516.1,183.8 L516.6,183.8 L517.0,183.8 L517.5,183.8 L518.0,183.8 L518.5,183.8 L519.0,183.8 L519.4,183.8 L519.9,183.8 L520.4,183.8 L520.9,183.8 L521.4,183.8 L521.8,183.9 L522.3,183.9 L522.8,183.9 L523.3,183.9 L523.8,183.9 L524.2,183.9 L524.7,183.9 L525.2,183.9 L525.7,183.9 L526.2,183.9 L526.6,183.9 L527.1,183.9 L527.6,183.9 L528.1,183.9 L528.6,183.9 L529.1,183.9 L529.5,183.9 L530.0,183.9 L530.5,183.9 L531.0,183.9 L531.5,183.9 L531.9,183.9 L532.4,183.9 L532.9,183.9 L533.4,183.9 L533.9,183.9 L534.3,183.9 L534.8,183.9 L535.3,183.9 L535.8,183.9 L536.3,183.9 L536.7,183.9 L537.2,183.9 L537.7,183.9 L538.2,183.9 L538.7,183.9 L539.1,183.9 L539.6,183.9 L540.1,183.9 L540.6,183.9 L541.1,183.9 L541.5,183.9 L542.0,183.9 L542.5,183.9 L543.0,183.9 L543.5,183.9 L544.0,183.9 L544.4,183.9 L544.9,183.9 L545.4,183.9 L545.9,183.9 L546.4,183.9 L546.8,183.9 L547.3,183.9 L547.8,183.9 L548.3,183.9 L548.8,183.9 L549.2,183.9 L549.7,183.9 L550.2,183.9 L550.7,183.9 L551.2,183.9 L551.6,183.9 L552.1,183.9 L552.6,183.9 L553.1,183.9 L553.6,183.9 L554.0,183.9 L554.5,183.9 L555.0,183.9 L555.5,183.9 L556.0,183.9 L556.5,183.9 L556.9,183.9 L557.4,183.9 L557.9,183.9 L558.4,183.9 L558.9,183.9 L559.3,183.9 L559.8,183.9 L560.3,183.9 L560.8,183.9 L561.3,183.9 L561.7,183.9 L562.2,183.9 L562.7,183.9 L563.2,183.9 L563.7,183.9 L564.1,183.9 L564.6,183.9 L565.1,183.9 L565.6,183.9 L566.1,183.9 L566.5,183.9 L567.0,183.9 L567.5,183.9 L568.0,183.9 L568.5,183.9 L569.0,183.9 L569.4,183.9 L569.9,183.9 L570.4,183.9 L570.9,183.9 L571.4,183.9 L571.8,183.9 L572.3,183.9 L572.8,183.9 L573.3,183.9 L573.8,183.9 L574.2,183.9 L574.7,183.9 L575.2,184.0 L575.7,184.0 L576.2,184.0 L576.6,184.0 L577.1,184.0 L577.6,184.0 L578.1,184.0 L578.6,184.0 L579.0,184.0 L579.5,184.0 L580.0,184.0 L580.5,184.0 L581.0,184.0 L581.5,184.0 L581.9,184.0 L582.4,184.0 L582.9,184.0 L583.4,184.0 L583.9,184.0 L584.3,184.0 L584.8,184.0 L585.3,184.0 L585.8,184.0 L586.3,184.0 L586.7,184.0 L587.2,184.0 L587.7,184.0 L588.2,184.0 L588.7,184.0 L589.1,184.0 L589.6,184.0 L590.1,184.0 L590.6,184.0 L591.1,184.0 L591.5,184.0 L592.0,184.0 L592.5,184.0 L593.0,184.0 L593.5,184.0 L594.0,184.0 L594.4,184.0 L594.9,184.0 L595.4,184.0 L595.9,184.0 L596.4,184.0 L596.8,184.0 L597.3,184.0 L597.8,184.0 L598.3,184.0 L598.8,184.0 L599.2,184.0 L599.7,184.0 L600.2,184.0 L600.7,184.0 L601.2,184.0 L601.6,184.0 L602.1,184.0 L602.6,184.0 L603.1,184.0 L603.6,184.0 L604.0,184.0 L604.5,184.0 L605.0,184.0 L605.5,184.0 L606.0,184.0 L606.5,184.0 L606.9,184.0 L607.4,184.0 L607.9,184.0 L608.4,184.0 L608.9,184.0 L609.3,184.0 L609.8,184.0 L610.3,184.1 L610.8,184.1 L611.3,184.1 L611.7,184.1 L612.2,184.1 L612.7,184.1 L613.2,184.1 L613.7,184.1 L614.1,184.1 L614.6,184.1 L615.1,184.1 L615.6,184.1 L616.1,184.1 L616.5,184.1 L617.0,184.1 L617.5,184.1 L618.0,184.1 L618.5,184.1 L619.0,184.1 L619.4,184.1 L619.9,184.1 L620.4,184.1 L620.9,184.1 L621.4,184.1 L621.8,184.1 L622.3,184.1 L622.8,184.1 L623.3,184.1 L623.8,184.1 L624.2,184.1 L624.7,184.1 L625.2,184.1 L625.7,184.1 L626.2,184.1 L626.6,184.1 L627.1,184.1 L627.6,184.1 L628.1,184.1 L628.6,184.1 L629.0,184.1 L629.5,184.1 L630.0,184.1 L630.5,184.1 L631.0,184.1 L631.5,184.1 L631.9,184.1 L632.4,184.1 L632.9,184.1 L633.4,184.1 L633.9,184.1 L634.3,184.1 L634.8,184.1 L635.3,184.1 L635.8,184.1 L636.3,184.2 L636.7,184.2 L637.2,184.2 L637.7,184.2 L638.2,184.2 L638.7,184.2 L639.1,184.2 L639.6,184.2 L640.1,184.2 L640.6,184.2 L641.1,184.2 L641.5,184.2 L642.0,184.2 L642.5,184.2 L643.0,184.2 L643.5,184.2 L644.0,184.2 L644.4,184.2 L644.9,184.2 L645.4,184.2 L645.9,184.2 L646.4,184.2 L646.8,184.2 L647.3,184.2 L647.8,184.2 L648.3,184.2 L648.8,184.2 L649.2,184.2 L649.7,184.2 L650.2,184.2 L650.7,184.2 L651.2,184.2 L651.6,184.2 L652.1,184.2 L652.6,184.2 L653.1,184.2 L653.6,184.2 L654.0,184.2 L654.5,184.2 L655.0,184.2 L655.5,184.2 L656.0,184.2 L656.5,184.2 L656.9,184.2 L657.4,184.3 L657.9,184.3 L658.4,184.3 L658.9,184.3 L659.3,184.3 L659.8,184.3 L660.3,184.3 L660.8,184.3 L661.3,184.3 L661.7,184.3 L662.2,184.3 L662.7,184.3 L663.2,184.3 L663.7,184.3 L664.1,184.3 L664.6,184.3 L665.1,184.3 L665.6,184.3 L666.1,184.3 L666.5,184.3 L667.0,184.3 L667.5,184.3 L668.0,184.3 L668.5,184.3 L669.0,184.3 L669.4,184.3 L669.9,184.3 L670.4,184.3 L670.9,184.3 L671.4,184.3 L671.8,184.3 L672.3,184.3 L672.8,184.3 L673.3,184.3 L673.8,184.3 L674.2,184.3 L674.7,184.4 L675.2,184.4 L675.7,184.4 L676.2,184.4 L676.6,184.4 L677.1,184.4 L677.6,184.4 L678.1,184.4 L678.6,184.4 L679.0,184.4 L679.5,184.4 L680.0,184.4 L680.5,184.4 L681.0,184.4 L681.5,184.4 L681.9,184.4 L682.4,184.4 L682.9,184.4 L683.4,184.4 L683.9,184.4 L684.3,184.4 L684.8,184.4 L685.3,184.4 L685.8,184.4 L686.3,184.4 L686.7,184.4 L687.2,184.4 L687.7,184.4 L688.2,184.4 L688.7,184.4 L689.1,184.4 L689.6,184.5 L690.1,184.5 L690.6,184.5 L691.1,184.5 L691.5,184.5 L692.0,184.5 L692.5,184.5 L693.0,184.5 L693.5,184.5 L694.0,184.5 L694.4,184.5 L694.9,184.5 L695.4,184.5 L695.9,184.5 L696.4,184.5 L696.8,184.5 L697.3,184.5 L697.8,184.5 L698.3,184.5 L698.8,184.5 L699.2,184.5 L699.7,184.5 L700.2,184.5 L700.7,184.5 L701.2,184.5 L701.6,184.5 L702.1,184.5 L702.6,184.6 L703.1,184.6 L703.6,184.6 L704.0,184.6 L704.5,184.6 L705.0,184.6 L705.5,184.6 L706.0,184.6 L706.5,184.6 L706.9,184.6 L707.4,184.6 L707.9,184.6 L708.4,184.6 L708.9,184.6 L709.3,184.6 L709.8,184.6 L710.3,184.6 L710.8,184.6 L711.3,184.6 L711.7,184.6 L712.2,184.6 L712.7,184.6 L713.2,184.6 L713.7,184.6 L714.1,184.7 L714.6,184.7 L715.1,184.7 L715.6,184.7 L716.1,184.7 L716.5,184.7 L717.0,184.7 L717.5,184.7 L718.0,184.7 L718.5,184.7 L719.0,184.7 L719.4,184.7 L719.9,184.7 L720.4,184.7 L720.9,184.7 L721.4,184.7 L721.8,184.7 L722.3,184.7 L722.8,184.7 L723.3,184.7 L723.8,184.7 L724.2,184.7 L724.7,184.8 L725.2,184.8 L725.7,184.8 L726.2,184.8 L726.6,184.8 L727.1,184.8 L727.6,184.8 L728.1,184.8 L728.6,184.8 L729.0,184.8 L729.5,184.8 L730.0,184.8 L730.5,184.8 L731.0,184.8 L731.5,184.8 L731.9,184.8 L732.4,184.8 L732.9,184.8 L733.4,184.8 L733.9,184.8 L734.3,184.9 L734.8,184.9 L735.3,184.9 L735.8,184.9 L736.3,184.9 L736.7,184.9 L737.2,184.9 L737.7,184.9 L738.2,184.9 L738.7,184.9 L739.1,184.9 L739.6,184.9 L740.1,184.9 L740.6,184.9 L741.1,184.9 L741.5,184.9 L742.0,184.9 L742.5,184.9 L743.0,185.0 L743.5,185.0 L744.0,185.0 L744.4,185.0 L744.9,185.0 L745.4,185.0 L745.9,185.0 L746.4,185.0 L746.8,185.0 L747.3,185.0 L747.8,185.0 L748.3,185.0 L748.8,185.0 L749.2,185.0 L749.7,185.0 L750.2,185.0 L750.7,185.1 L751.2,185.1 L751.6,185.1 L752.1,185.1 L752.6,185.1 L753.1,185.1 L753.6,185.1 L754.0,185.1 L754.5,185.1 L755.0,185.1 L755.5,185.1 L756.0,185.1 L756.4,185.1 L756.9,185.1 L757.4,185.1 L757.9,185.1 L758.4,185.2 L758.9,185.2 L759.3,185.2 L759.8,185.2 L760.3,185.2 L760.8,185.2 L761.3,185.2 L761.7,185.2 L762.2,185.2 L762.7,185.2 L763.2,185.2 L763.7,185.2 L764.1,185.2 L764.6,185.2 L765.1,185.3 L765.6,185.3 L766.1,185.3 L766.5,185.3 L767.0,185.3 L767.5,185.3 L768.0,185.3 L768.5,185.3 L768.9,185.3 L769.4,185.3 L769.9,185.3 L770.4,185.3 L770.9,185.3 L771.4,185.3 L771.8,185.4 L772.3,185.4 L772.8,185.4 L773.3,185.4 L773.8,185.4 L774.2,185.4 L774.7,185.4 L775.2,185.4 L775.7,185.4 L776.2,185.4 L776.6,185.4 L777.1,185.4 L777.6,185.4 L778.1,185.5 L778.6,185.5 L779.0,185.5 L779.5,185.5 L780.0,185.5 L780.5,185.5 L781.0,185.5 L781.4,185.5 L781.9,185.5 L782.4,185.5 L782.9,185.5 L783.4,185.5 L783.9,185.6 L784.3,185.6 L784.8,185.6 L785.3,185.6 L785.8,185.6 L786.3,185.6 L786.7,185.6 L787.2,185.6 L787.7,185.6 L788.2,185.6 L788.7,185.6 L789.1,185.7 L789.6,185.7 L790.1,185.7 L790.6,185.7 L791.1,185.7 L791.5,185.7 L792.0,185.7 L792.5,185.7 L793.0,185.7 L793.5,185.7 L793.9,185.7 L794.4,185.8 L794.9,185.8 L795.4,185.8 L795.9,185.8 L796.4,185.8 L796.8,185.8 L797.3,185.8 L797.8,185.8 L798.3,185.8 L798.8,185.8 L799.2,185.9 L799.7,185.9 L800.2,185.9 L800.7,185.9 L801.2,185.9 L801.6,185.9 L802.1,185.9 L802.6,185.9 L803.1,185.9 L803.6,185.9 L804.0,186.0 L804.5,186.0 L805.0,186.0 L805.5,186.0 L806.0,186.0 L806.4,186.0 L806.9,186.0 L807.4,186.0 L807.9,186.0 L808.4,186.0 L808.9,186.1 L809.3,186.1 L809.8,186.1 L810.3,186.1 L810.8,186.1 L811.3,186.1 L811.7,186.1 L812.2,186.1 L812.7,186.1 L813.2,186.2 L813.7,186.2 L814.1,186.2 L814.6,186.2 L815.1,186.2 L815.6,186.2 L816.1,186.2 L816.5,186.2 L817.0,186.3 L817.5,186.3 L818.0,186.3 L818.5,186.3 L818.9,186.3 L819.4,186.3 L819.9,186.3 L820.4,186.3 L820.9,186.3 L821.4,186.4 L821.8,186.4 L822.3,186.4 L822.8,186.4 L823.3,186.4 L823.8,186.4 L824.2,186.4 L824.7,186.4 L825.2,186.5 L825.7,186.5 L826.2,186.5 L826.6,186.5 L827.1,186.5 L827.6,186.5 L828.1,186.5 L828.6,186.6 L829.0,186.6 L829.5,186.6 L830.0,186.6 L830.5,186.6 L831.0,186.6 L831.4,186.6 L831.9,186.6 L832.4,186.7 L832.9,186.7 L833.4,186.7 L833.9,186.7 L834.3,186.7 L834.8,186.7 L835.3,186.7 L835.8,186.8 L836.3,186.8 L836.7,186.8 L837.2,186.8 L837.7,186.8 L838.2,186.8 L838.7,186.8 L839.1,186.9 L839.6,186.9 L840.1,186.9 L840.6,186.9 L841.1,186.9 L841.5,186.9 L842.0,186.9 L842.5,187.0 L843.0,187.0 L843.5,187.0 L843.9,187.0 L844.4,187.0 L844.9,187.0 L845.4,187.1 L845.9,187.1 L846.4,187.1 L846.8,187.1 L847.3,187.1 L847.8,187.1 L848.3,187.1 L848.8,187.2 L849.2,187.2 L849.7,187.2 L850.2,187.2 L850.7,187.2 L851.2,187.2 L851.6,187.3 L852.1,187.3 L852.6,187.3 L853.1,187.3 L853.6,187.3 L854.0,187.3 L854.5,187.4 L855.0,187.4 L855.5,187.4 L856.0,187.4 L856.4,187.4 L856.9,187.4 L857.4,187.5 L857.9,187.5 L858.4,187.5 L858.9,187.5 L859.3,187.5 L859.8,187.6 L860.3,187.6 L860.8,187.6 L861.3,187.6 L861.7,187.6 L862.2,187.6 L862.7,187.7 L863.2,187.7 L863.7,187.7 L864.1,187.7 L864.6,187.7 L865.1,187.8 L865.6,187.8 L866.1,187.8 L866.5,187.8 L867.0,187.8 L867.5,187.8 L868.0,187.9 L868.5,187.9 L868.9,187.9 L869.4,187.9 L869.9,187.9 L870.4,188.0 L870.9,188.0 L871.4,188.0 L871.8,188.0 L872.3,188.0 L872.8,188.1 L873.3,188.1 L873.8,188.1 L874.2,188.1 L874.7,188.1 L875.2,188.2 L875.7,188.2 L876.2,188.2 L876.6,188.2 L877.1,188.3 L877.6,188.3 L878.1,188.3 L878.6,188.3 L879.0,188.3 L879.5,188.4 L880.0,188.4 L880.5,188.4 L881.0,188.4 L881.4,188.4 L881.9,188.5 L882.4,188.5 L882.9,188.5 L883.4,188.5 L883.9,188.6 L884.3,188.6 L884.8,188.6 L885.3,188.6 L885.8,188.6 L886.3,188.7 L886.7,188.7 L887.2,188.7 L887.7,188.7 L888.2,188.8 L888.7,188.8 L889.1,188.8 L889.6,188.8 L890.1,188.9 L890.6,188.9 L891.1,188.9 L891.5,188.9 L892.0,189.0 L892.5,189.0 L893.0,189.0 L893.5,189.0 L893.9,189.1 L894.4,189.1 L894.9,189.1 L895.4,189.1 L895.9,189.2 L896.4,189.2 L896.8,189.2 L897.3,189.2 L897.8,189.3 L898.3,189.3 L898.8,189.3 L899.2,189.3 L899.7,189.4 L900.2,189.4 L900.7,189.4 L901.2,189.4 L901.6,189.5 L902.1,189.5 L902.6,189.5 L903.1,189.5 L903.6,189.6 L904.0,189.6 L904.5,189.6 L905.0,189.7 L905.5,189.7 L906.0,189.7 L906.4,189.7 L906.9,189.8 L907.4,189.8 L907.9,189.8 L908.4,189.9 L908.9,189.9 L909.3,189.9 L909.8,189.9 L910.3,190.0 L910.8,190.0 L911.3,190.0 L911.7,190.1 L912.2,190.1 L912.7,190.1 L913.2,190.1 L913.7,190.2 L914.1,190.2 L914.6,190.2 L915.1,190.3 L915.6,190.3 L916.1,190.3 L916.5,190.4 L917.0,190.4 L917.5,190.4 L918.0,190.4 L918.5,190.5 L918.9,190.5 L919.4,190.5 L919.9,190.6 L920.4,190.6 L920.9,190.6 L921.4,190.7 L921.8,190.7 L922.3,190.7 L922.8,190.8 L923.3,190.8 L923.8,190.8 L924.2,190.9 L924.7,190.9 L925.2,190.9 L925.7,191.0 L926.2,191.0 L926.6,191.0 L927.1,191.1 L927.6,191.1 L928.1,191.1 L928.6,191.2 L929.0,191.2 L929.5,191.2 L930.0,191.3 L930.5,191.3 L931.0,191.4 L931.4,191.4 L931.9,191.4 L932.4,191.5 L932.9,191.5 L933.4,191.5 L933.9,191.6 L934.3,191.6 L934.8,191.6 L935.3,191.7 L935.8,191.7 L936.3,191.8 L936.7,191.8 L937.2,191.8 L937.7,191.9 L938.2,191.9 L938.7,191.9 L939.1,192.0 L939.6,192.0 L940.1,192.1 L940.6,192.1 L941.1,192.1 L941.5,192.2 L942.0,192.2 L942.5,192.3 L943.0,192.3 L943.5,192.3 L943.9,192.4 L944.4,192.4 L944.9,192.5 L945.4,192.5 L945.9,192.5 L946.4,192.6 L946.8,192.6 L947.3,192.7 L947.8,192.7 L948.3,192.7 L948.8,192.8 L949.2,192.8 L949.7,192.9 L950.2,192.9 L950.7,193.0 L951.2,193.0 L951.6,193.0 L952.1,193.1 L952.6,193.1 L953.1,193.2 L953.6,193.2 L954.0,193.3 L954.5,193.3 L955.0,193.4 L955.5,193.4 L956.0,193.4 L956.4,193.5 L956.9,193.5 L957.4,193.6 L957.9,193.6 L958.4,193.7 L958.8,193.7 L959.3,193.8 L959.8,193.8 L960.3,193.9 L960.8,193.9 L961.3,194.0 L961.7,194.0 L962.2,194.1 L962.7,194.1 L963.2,194.1 L963.7,194.2 L964.1,194.2 L964.6,194.3 L965.1,194.3 L965.6,194.4 L966.1,194.4 L966.5,194.5 L967.0,194.5 L967.5,194.6 L968.0,194.6 L968.5,194.7 L968.9,194.7 L969.4,194.8 L969.9,194.9 L970.4,194.9 L970.9,195.0 L971.3,195.0 L971.8,195.1 L972.3,195.1 L972.8,195.2 L973.3,195.2 L973.8,195.3 L974.2,195.3 L974.7,195.4 L975.2,195.4 L975.7,195.5 L976.2,195.6 L976.6,195.6 L977.1,195.7 L977.6,195.7 L978.1,195.8 L978.6,195.8 L979.0,195.9 L979.5,195.9 L980.0,196.0 L980.5,196.1 L981.0,196.1 L981.4,196.2 L981.9,196.2 L982.4,196.3 L982.9,196.4 L983.4,196.4 L983.8,196.5 L984.3,196.5 L984.8,196.6 L985.3,196.7 L985.8,196.7 L986.3,196.8 L986.7,196.8 L987.2,196.9 L987.7,197.0 L988.2,197.0 L988.7,197.1 L989.1,197.1 L989.6,197.2 L990.1,197.3 L990.6,197.3 L991.1,197.4 L991.5,197.5 L992.0,197.5 L992.5,197.6 L993.0,197.7 L993.5,197.7 L993.9,197.8 L994.4,197.9 L994.9,197.9 L995.4,198.0 L995.9,198.1 L996.3,198.1 L996.8,198.2 L997.3,198.3 L997.8,198.3 L998.3,198.4 L998.8,198.5 L999.2,198.5 L999.7,198.6 L1000.2,198.7 L1000.7,198.7 L1001.2,198.8 L1001.6,198.9 L1002.1,199.0 L1002.6,199.0 L1003.1,199.1 L1003.6,199.2 L1004.0,199.2 L1004.5,199.3 L1005.0,199.4 L1005.5,199.5 L1006.0,199.5 L1006.4,199.6 L1006.9,199.7 L1007.4,199.8 L1007.9,199.8 L1008.4,199.9 L1008.8,200.0 L1009.3,200.1 L1009.8,200.1 L1010.3,200.2 L1010.8,200.3 L1011.3,200.4 L1011.7,200.5 L1012.2,200.5 L1012.7,200.6 L1013.2,200.7 L1013.7,200.8 L1014.1,200.9 L1014.6,200.9 L1015.1,201.0 L1015.6,201.1 L1016.1,201.2 L1016.5,201.3 L1017.0,201.3 L1017.5,201.4 L1018.0,201.5 L1018.5,201.6 L1018.9,201.7 L1019.4,201.8 L1019.9,201.8 L1020.4,201.9 L1020.9,202.0 L1021.3,202.1 L1021.8,202.2 L1022.3,202.3 L1022.8,202.4 L1023.3,202.5 L1023.8,202.5 L1024.2,202.6 L1024.7,202.7 L1025.2,202.8 L1025.7,202.9 L1026.2,203.0 L1026.6,203.1 L1027.1,203.2 L1027.6,203.3 L1028.1,203.4 L1028.6,203.5 L1029.0,203.5 L1029.5,203.6 L1030.0,203.7 L1030.5,203.8 L1031.0,203.9 L1031.4,204.0 L1031.9,204.1 L1032.4,204.2 L1032.9,204.3 L1033.4,204.4 L1033.8,204.5 L1034.3,204.6 L1034.8,204.7 L1035.3,204.8 L1035.8,204.9 L1036.3,205.0 L1036.7,205.1 L1037.2,205.2 L1037.7,205.3 L1038.2,205.4 L1038.7,205.5 L1039.1,205.6 L1039.6,205.7 L1040.1,205.8 L1040.6,205.9 L1041.1,206.0 L1041.5,206.1 L1042.0,206.2 L1042.5,206.3 L1043.0,206.5 L1043.5,206.6 L1043.9,206.7 L1044.4,206.8 L1044.9,206.9 L1045.4,207.0 L1045.9,207.1 L1046.3,207.2 L1046.8,207.3 L1047.3,207.4 L1047.8,207.6 L1048.3,207.7 L1048.8,207.8 L1049.2,207.9 L1049.7,208.0 L1050.2,208.1 L1050.7,208.2 L1051.2,208.4 L1051.6,208.5 L1052.1,208.6 L1052.6,208.7 L1053.1,208.8 L1053.6,209.0 L1054.0,209.1 L1054.5,209.2 L1055.0,209.3 L1055.5,209.4 L1056.0,209.6 L1056.4,209.7 L1056.9,209.8 L1057.4,209.9 L1057.9,210.1 L1058.4,210.2 L1058.8,210.3 L1059.3,210.4 L1059.8,210.6 L1060.3,210.7 L1060.8,210.8 L1061.3,210.9 L1061.7,211.1 L1062.2,211.2 L1062.7,211.3 L1063.2,211.5 L1063.7,211.6 L1064.1,211.7 L1064.6,211.9 L1065.1,212.0 L1065.6,212.1 L1066.1,212.3 L1066.5,212.4 L1067.0,212.5 L1067.5,212.7 L1068.0,212.8 L1068.5,213.0 L1068.9,213.1 L1069.4,213.2 L1069.9,213.4 L1070.4,213.5 L1070.9,213.7 L1071.3,213.8 L1071.8,213.9 L1072.3,214.1 L1072.8,214.2 L1073.3,214.4 L1073.8,214.5 L1074.2,214.7 L1074.7,214.8 L1075.2,215.0 L1075.7,215.1 L1076.2,215.3 L1076.6,215.4 L1077.1,215.6 L1077.6,215.7 L1078.1,215.9 L1078.6,216.0 L1079.0,216.2 L1079.5,216.4 L1080.0,216.5 L1080.5,216.7 L1081.0,216.8 L1081.4,217.0 L1081.9,217.1 L1082.4,217.3 L1082.9,217.5 L1083.4,217.6 L1083.8,217.8 L1084.3,218.0 L1084.8,218.1 L1085.3,218.3 L1085.8,218.4 L1086.3,218.6 L1086.7,218.8 L1087.2,219.0 L1087.7,219.1 L1088.2,219.3 L1088.7,219.5 L1089.1,219.6 L1089.6,219.8 L1090.1,220.0 L1090.6,220.2 L1091.1,220.3 L1091.5,220.5 L1092.0,220.7 L1092.5,220.9 L1093.0,221.0 L1093.5,221.2 L1093.9,221.4 L1094.4,221.6 L1094.9,221.8 L1095.4,222.0 L1095.9,222.1 L1096.3,222.3 L1096.8,222.5 L1097.3,222.7 L1097.8,222.9 L1098.3,223.1 L1098.8,223.3 L1099.2,223.5 L1099.7,223.6 L1100.2,223.8 L1100.7,224.0 L1101.2,224.2 L1101.6,224.4 L1102.1,224.6 L1102.6,224.8 L1103.1,225.0 L1103.6,225.2 L1104.0,225.4 L1104.5,225.6 L1105.0,225.8 L1105.5,226.0 L1106.0,226.2 L1106.4,226.4 L1106.9,226.6 L1107.4,226.9 L1107.9,227.1 L1108.4,227.3 L1108.8,227.5 L1109.3,227.7 L1109.8,227.9 L1110.3,228.1 L1110.8,228.3 L1111.3,228.6 L1111.7,228.8 L1112.2,229.0 L1112.7,229.2 L1113.2,229.4 L1113.7,229.7 L1114.1,229.9 L1114.6,230.1 L1115.1,230.3 L1115.6,230.6 L1116.1,230.8 L1116.5,231.0 L1117.0,231.3 L1117.5,231.5 L1118.0,231.7 L1118.5,232.0 L1118.9,232.2 L1119.4,232.4 L1119.9,232.7 L1120.4,232.9 L1120.9,233.2 L1121.3,233.4 L1121.8,233.6 L1122.3,233.9 L1122.8,234.1 L1123.3,234.4 L1123.8,234.6 L1124.2,234.9 L1124.7,235.1 L1125.2,235.4 L1125.7,235.6 L1126.2,235.9 L1126.6,236.1 L1127.1,236.4 L1127.6,236.7 L1128.1,236.9 L1128.6,237.2 L1129.0,237.4 L1129.5,237.7 L1130.0,238.0 L1130.5,238.2 L1131.0,238.5 L1131.4,238.8 L1131.9,239.0 L1132.4,239.3 L1132.9,239.6 L1133.4,239.9 L1133.8,240.1 L1134.3,240.4 L1134.8,240.7 L1135.3,241.0 L1135.8,241.3 L1136.3,241.6 L1136.7,241.8 L1137.2,242.1 L1137.7,242.4 L1138.2,242.7 L1138.7,243.0 L1139.1,243.3 L1139.6,243.6 L1140.1,243.9 L1140.6,244.2 L1141.1,244.5 L1141.5,244.8 L1142.0,245.1 L1142.5,245.4 L1143.0,245.7 L1143.5,246.0 L1143.9,246.3 L1144.4,246.6 L1144.9,246.9 L1145.4,247.3 L1145.9,247.6 L1146.3,247.9 L1146.8,248.2 L1147.3,248.5 L1147.8,248.9 L1148.3,249.2 L1148.8,249.5 L1149.2,249.8 L1149.7,250.2 L1150.2,250.5 L1150.7,250.8 L1151.2,251.2 L1151.6,251.5 L1152.1,251.9 L1152.6,252.2 L1153.1,252.5 L1153.6,252.9 L1154.0,253.2 L1154.5,253.6 L1155.0,253.9 L1155.5,254.3 L1156.0,254.6 L1156.4,255.0 L1156.9,255.4 L1157.4,255.7 L1157.9,256.1 L1158.4,256.4 L1158.8,256.8 L1159.3,257.2 L1159.8,257.6 L1160.3,257.9 L1160.8,258.3 L1161.2,258.7 L1161.7,259.1 L1162.2,259.4 L1162.7,259.8 L1163.2,260.2 L1163.7,260.6 L1164.1,261.0 L1164.6,261.4 L1165.1,261.8 L1165.6,262.2 L1166.1,262.6 L1166.5,263.0 L1167.0,263.4 L1167.5,263.8 L1168.0,264.2 L1168.5,264.6 L1168.9,265.0 L1169.4,265.4 L1169.9,265.8 L1170.4,266.3 L1170.9,266.7 L1171.3,267.1 L1171.8,267.5 L1172.3,268.0 L1172.8,268.4 L1173.3,268.8 L1173.7,269.3 L1174.2,269.7 L1174.7,270.1 L1175.2,270.6 L1175.7,271.0 L1176.2,271.5 L1176.6,271.9 L1177.1,272.4 L1177.6,272.9 L1178.1,273.3 L1178.6,273.8 L1179.0,274.2 L1179.5,274.7 L1180.0,275.2 L1180.5,275.7 L1181.0,276.1 L1181.4,276.6 L1181.9,277.1 L1182.4,277.6 L1182.9,278.1 L1183.4,278.6 L1183.8,279.0 L1184.3,279.5 L1184.8,280.0 L1185.3,280.5 L1185.8,281.0 L1186.2,281.6 L1186.7,282.1 L1187.2,282.6 L1187.7,283.1 L1188.2,283.6 L1188.7,284.1 L1189.1,284.7 L1189.6,285.2 L1190.1,285.7 L1190.6,286.3 L1191.1,286.8 L1191.5,287.3 L1192.0,287.9 L1192.5,288.4 L1193.0,289.0 L1193.5,289.6 L1193.9,290.1 L1194.4,290.7 L1194.9,291.2 L1195.4,291.8 L1195.9,292.4 L1196.3,293.0 L1196.8,293.5 L1197.3,294.1 L1197.8,294.7 L1198.3,295.3 L1198.7,295.9 L1199.2,296.5 L1199.7,297.1 L1200.2,297.7 L1200.7,298.3 L1201.2,298.9 L1201.6,299.5 L1202.1,300.2 L1202.6,300.8 L1203.1,301.4 L1203.6,302.1 L1204.0,302.7 L1204.5,303.3 L1205.0,304.0 L1205.5,304.6 L1206.0,305.3 L1206.4,305.9 L1206.9,306.6 L1207.4,307.3 L1207.9,307.9 L1208.4,308.6 L1208.8,309.3 L1209.3,310.0 L1209.8,310.7 L1210.3,311.4 L1210.8,312.1 L1211.2,312.8 L1211.7,313.5 L1212.2,314.2 L1212.7,314.9 L1213.2,315.6 L1213.7,316.3 L1214.1,317.1 L1214.6,317.8 L1215.1,318.5 L1215.6,319.3 L1216.1,320.0 L1216.5,320.8 L1217.0,321.6 L1217.5,322.3 L1218.0,323.1 L1218.5,323.9 L1218.9,324.6 L1219.4,325.4 L1219.9,326.2 L1220.4,327.0 L1220.9,327.8 L1221.3,328.6 L1221.8,329.4 L1222.3,330.3 L1222.8,331.1 L1223.3,331.9 L1223.7,332.8 L1224.2,333.6 L1224.7,334.5 L1225.2,335.3 L1225.7,336.2 L1226.2,337.0 L1226.6,337.9 L1227.1,338.8 L1227.6,339.7 L1228.1,340.6 L1228.6,341.5 L1229.0,342.4 L1229.5,343.3 L1230.0,344.2 L1230.5,345.1 L1231.0,346.1 L1231.4,347.0 L1231.9,347.9 L1232.4,348.9 L1232.9,349.9 L1233.4,350.8 L1233.8,351.8 L1234.3,352.8 L1234.8,353.8 L1235.3,354.8 L1235.8,355.8 L1236.2,356.8 L1236.7,357.8 L1237.2,358.8 L1237.7,359.9 L1238.2,360.9 L1238.7,362.0 L1239.1,363.0 L1239.6,364.1 L1240.1,365.2 L1240.6,366.2 L1241.1,367.3 L1241.5,368.4 L1242.0,369.6 L1242.5,370.7 L1243.0,371.8 L1243.5,372.9 L1243.9,374.1 L1244.4,375.3 L1244.9,376.4 L1245.4,377.6 L1245.9,378.8 L1246.3,380.0 L1246.8,381.2 L1247.3,382.4 L1247.8,383.6 L1248.3,384.9 L1248.7,386.1 L1249.2,387.4 L1249.7,388.6 L1250.2,389.9 L1250.7,391.2 L1251.2,392.5 L1251.6,393.8 L1252.1,395.2 L1252.6,396.5 L1253.1,397.8 L1253.6,399.2 L1254.0,400.6 L1254.5,402.0 L1255.0,403.4 L1255.5,404.8 L1256.0,406.2 L1256.4,407.6 L1256.9,409.1 L1257.4,410.6 L1257.9,412.0 L1258.4,413.5 L1258.8,415.0 L1259.3,416.6 L1259.8,418.1 L1260.3,419.7 L1260.8,421.2 L1261.2,422.8 L1261.7,424.4 L1262.2,426.0 L1262.7,427.7 L1263.2,429.3 L1263.7,431.0 L1264.1,432.7 L1264.6,434.4 L1265.1,436.1 L1265.6,437.8 L1266.1,439.6 L1266.5,441.3 L1267.0,443.1 L1267.5,444.9 L1268.0,446.8 L1268.5,448.6 L1268.9,450.5 L1269.4,452.4 L1269.9,454.3 L1270.4,456.3 L1270.9,458.2 L1271.3,460.2 L1271.8,462.2 L1272.3,464.2 L1272.8,466.3 L1273.3,468.4 L1273.7,470.5 L1274.2,472.6 L1274.7,474.8 L1275.2,477.0 L1275.7,479.2 L1276.2,481.4 L1276.6,483.7 L1277.1,486.0 L1277.6,488.3 L1278.1,490.7 L1278.6,493.1 L1279.0,495.5 L1279.5,498.0 L1280.0,500.4 L1280.5,503.0 L1281.0,505.5 L1281.4,508.1 L1281.9,510.8 L1282.4,513.5 L1282.9,516.2 L1283.4,519.0 L1283.8,521.8 L1284.3,524.6 L1284.8,527.5 L1285.3,530.5 L1285.8,533.4 L1286.2,536.5 L1286.7,539.6 L1287.2,542.7 L1287.7,545.9 L1288.2,549.2 L1288.7,552.5 L1289.1,555.9 L1289.6,559.3 L1290.1,562.8 L1290.6,566.4 L1291.1,570.0 L1291.5,573.7 L1292.0,577.5 L1292.5,581.4 L1293.0,585.3 L1293.5,589.4 L1293.9,593.5 L1294.4,597.7 L1294.9,602.0 L1295.4,606.4 L1295.9,610.9 L1296.3,615.6 L1296.8,620.3 L1297.3,625.2 L1297.8,630.2 L1298.3,635.3 L1298.7,640.6 L1299.2,646.0 L1299.7,651.6 L1300.2,657.4 L1300.7,663.3 L1301.2,669.5 L1301.6,675.8 L1302.1,682.4 L1302.6,689.2 L1303.1,696.2 L1303.6,703.5 L1304.0,711.1 L1304.5,719.1 L1305.0,727.4 L1305.5,736.0 L1306.0,745.1 L1306.4,754.6 L1306.9,764.7 L1307.4,775.3 L1307.9,786.5 L1308.4,798.5 L1308.8,811.2 L1309.3,824.9 L1309.8,839.7 L1310.3,855.7 L1310.8,873.2 L1311.2,892.6 L1311.7,914.1 L1312.2,938.5 L1312.7,966.6 L1313.2,999.7 L1313.7,1039.9 L1314.1,1091.3 L1314.6,1162.9 L1315.1,1242.5 L1315.6,1242.5 L1315.6,1242.5 L1316.1,1242.5 L1316.5,1184.3 L1317.0,1106.3 L1317.5,1051.9 L1318.0,1010.0 L1318.5,976.0 L1318.9,947.4 L1319.4,922.7 L1319.9,901.0 L1320.4,881.6 L1320.9,864.1 L1321.3,848.2 L1321.8,833.6 L1322.3,820.1 L1322.8,807.6 L1323.3,795.9 L1323.7,784.9 L1324.2,774.6 L1324.7,764.9 L1325.2,755.7 L1325.7,746.9 L1326.2,738.6 L1326.6,730.7 L1327.1,723.1 L1327.6,715.9 L1328.1,708.9 L1328.6,702.2 L1329.0,695.8 L1329.5,689.7 L1330.0,683.7 L1330.5,678.0 L1331.0,672.5 L1331.4,667.1 L1331.9,661.9 L1332.4,656.9 L1332.9,652.0 L1333.4,647.3 L1333.8,642.8 L1334.3,638.3 L1334.8,634.0 L1335.3,629.8 L1335.8,625.7 L1336.2,621.7 L1336.7,617.9 L1337.2,614.1 L1337.7,610.4 L1338.2,606.9 L1338.7,603.4 L1339.1,600.0 L1339.6,596.6 L1340.1,593.4 L1340.6,590.2 L1341.1,587.1 L1341.5,584.1 L1342.0,581.1 L1342.5,578.2 L1343.0,575.4 L1343.5,572.6 L1343.9,569.9 L1344.4,567.3 L1344.9,564.7 L1345.4,562.1 L1345.9,559.6 L1346.3,557.2 L1346.8,554.8 L1347.3,552.5 L1347.8,550.2 L1348.3,547.9 L1348.7,545.7 L1349.2,543.6 L1349.7,541.5 L1350.2,539.4 L1350.7,537.4 L1351.2,535.4 L1351.6,533.4 L1352.1,531.5 L1352.6,529.6 L1353.1,527.8 L1353.6,526.0 L1354.0,524.2 L1354.5,522.5 L1355.0,520.8 L1355.5,519.1 L1356.0,517.5 L1356.4,515.9 L1356.9,514.3 L1357.4,512.8 L1357.9,511.3 L1358.4,509.8 L1358.8,508.4 L1359.3,507.0 L1359.8,505.6 L1360.3,504.2 L1360.8,502.9 L1361.2,501.6 L1361.7,500.3 L1362.2,499.0 L1362.7,497.8 L1363.2,496.6 L1363.6,495.4 L1364.1,494.3 L1364.6,493.2 L1365.1,492.1 L1365.6,491.0 L1366.1,489.9 L1366.5,488.9 L1367.0,487.9 L1367.5,486.9 L1368.0,486.0 L1368.5,485.0 L1368.9,484.1 L1369.4,483.2 L1369.9,482.4 L1370.4,481.5 L1370.9,480.7 L1371.3,479.9 L1371.8,479.1 L1372.3,478.3 L1372.8,477.6 L1373.3,476.9 L1373.7,476.2 L1374.2,475.5 L1374.7,474.9 L1375.2,474.2 L1375.7,473.6 L1376.1,473.0 L1376.6,472.5 L1377.1,471.9 L1377.6,471.4 L1378.1,470.9 L1378.6,470.4 L1379.0,469.9 L1379.5,469.5 L1380.0,469.0 L1380.5,468.6 L1381.0,468.2 L1381.4,467.9 L1381.9,467.5 L1382.4,467.2 L1382.9,466.9 L1383.4,466.6 L1383.8,466.3 L1384.3,466.1 L1384.8,465.8 L1385.3,465.6 L1385.8,465.4 L1386.2,465.2 L1386.7,465.1 L1387.2,464.9 L1387.7,464.8 L1388.2,464.7 L1388.6,464.6 L1389.1,464.6 L1389.6,464.5 L1390.1,464.5 L1390.6,464.5 L1391.1,464.5 L1391.5,464.6 L1392.0,464.6 L1392.5,464.7 L1393.0,464.8 L1393.5,464.9 L1393.9,465.1 L1394.4,465.2 L1394.9,465.4 L1395.4,465.6 L1395.9,465.8 L1396.3,466.1 L1396.8,466.3 L1397.3,466.6 L1397.8,466.9 L1398.3,467.3 L1398.7,467.6 L1399.2,468.0 L1399.7,468.4 L1400.2,468.8 L1400.7,469.2 L1401.1,469.7 L1401.6,470.1 L1402.1,470.6 L1402.6,471.1 L1403.1,471.7 L1403.6,472.3 L1404.0,472.8 L1404.5,473.5 L1405.0,474.1 L1405.5,474.7 L1406.0,475.4 L1406.4,476.1 L1406.9,476.9 L1407.4,477.6 L1407.9,478.4 L1408.4,479.2 L1408.8,480.0 L1409.3,480.9 L1409.8,481.8 L1410.3,482.7 L1410.8,483.6 L1411.2,484.5 L1411.7,485.5 L1412.2,486.5 L1412.7,487.6 L1413.2,488.7 L1413.6,489.7 L1414.1,490.9 L1414.6,492.0 L1415.1,493.2 L1415.6,494.4 L1416.1,495.7 L1416.5,496.9 L1417.0,498.3 L1417.5,499.6 L1418.0,501.0 L1418.5,502.4 L1418.9,503.8 L1419.4,505.3 L1419.9,506.8 L1420.4,508.3 L1420.9,509.9 L1421.3,511.5 L1421.8,513.2 L1422.3,514.9 L1422.8,516.6 L1423.3,518.4 L1423.7,520.2 L1424.2,522.0 L1424.7,523.9 L1425.2,525.8 L1425.7,527.8 L1426.1,529.8 L1426.6,531.9 L1427.1,534.0 L1427.6,536.2 L1428.1,538.4 L1428.6,540.7 L1429.0,543.0 L1429.5,545.3 L1430.0,547.8 L1430.5,550.2 L1431.0,552.8 L1431.4,555.4 L1431.9,558.0 L1432.4,560.7 L1432.9,563.5 L1433.4,566.4 L1433.8,569.3 L1434.3,572.3 L1434.8,575.3 L1435.3,578.5 L1435.8,581.7 L1436.2,585.0 L1436.7,588.3 L1437.2,591.8 L1437.7,595.4 L1438.2,599.0 L1438.6,602.7 L1439.1,606.6 L1439.6,610.5 L1440.1,614.6 L1440.6,618.8 L1441.1,623.0 L1441.5,627.5 L1442.0,632.0 L1442.5,636.7 L1443.0,641.5 L1443.5,646.5 L1443.9,651.6 L1444.4,656.9 L1444.9,662.4 L1445.4,668.1 L1445.9,674.0 L1446.3,680.1 L1446.8,686.4 L1447.3,693.0 L1447.8,699.8 L1448.3,706.9 L1448.7,714.3 L1449.2,722.1 L1449.7,730.2 L1450.2,738.7 L1450.7,747.6 L1451.1,757.0 L1451.6,766.9 L1452.1,777.4 L1452.6,788.5 L1453.1,800.4 L1453.6,813.1 L1454.0,826.7 L1454.5,841.5 L1455.0,857.5 L1455.5,875.0 L1456.0,894.4 L1456.4,916.1 L1456.9,940.6 L1457.4,968.9 L1457.9,1002.3 L1458.4,1043.2 L1458.8,1095.6 L1459.3,1169.1 L1459.8,1242.5 L1460.3,1242.5 L1460.3,1242.5 L1460.8,1242.5 L1461.2,1177.6 L1461.7,1102.0 L1462.2,1048.7 L1462.7,1007.5 L1463.2,974.0 L1463.6,945.8 L1464.1,921.4 L1464.6,899.9 L1465.1,880.8 L1465.6,863.5 L1466.1,847.8 L1466.5,833.5 L1467.0,820.2 L1467.5,807.9 L1468.0,796.4 L1468.5,785.6 L1468.9,775.5 L1469.4,766.0 L1469.9,757.1 L1470.4,748.6 L1470.9,740.5 L1471.3,732.8 L1471.8,725.5 L1472.3,718.6 L1472.8,711.9 L1473.3,705.5 L1473.7,699.4 L1474.2,693.6 L1474.7,688.0 L1475.2,682.6 L1475.7,677.4 L1476.1,672.4 L1476.6,667.6 L1477.1,663.0 L1477.6,658.6 L1478.1,654.3 L1478.6,650.1 L1479.0,646.1 L1479.5,642.3 L1480.0,638.5 L1480.5,634.9 L1481.0,631.5 L1481.4,628.1 L1481.9,624.9 L1482.4,621.7 L1482.9,618.7 L1483.4,615.8 L1483.8,613.0 L1484.3,610.2 L1484.8,607.6 L1485.3,605.1 L1485.8,602.6 L1486.2,600.2 L1486.7,598.0 L1487.2,595.8 L1487.7,593.6 L1488.2,591.6 L1488.6,589.6 L1489.1,587.7 L1489.6,585.9 L1490.1,584.2 L1490.6,582.5 L1491.1,580.9 L1491.5,579.4 L1492.0,577.9 L1492.5,576.5 L1493.0,575.2 L1493.5,573.9 L1493.9,572.7 L1494.4,571.6 L1494.9,570.5 L1495.4,569.5 L1495.9,568.5 L1496.3,567.6 L1496.8,566.8 L1497.3,566.0 L1497.8,565.3 L1498.3,564.6 L1498.7,564.0 L1499.2,563.5 L1499.7,563.0 L1500.2,562.6 L1500.7,562.2 L1501.1,561.9 L1501.6,561.7 L1502.1,561.5 L1502.6,561.4 L1503.1,561.3 L1503.6,561.3 L1504.0,561.3 L1504.5,561.4 L1505.0,561.6 L1505.5,561.8 L1506.0,562.1 L1506.4,562.4 L1506.9,562.8 L1507.4,563.3 L1507.9,563.8 L1508.4,564.4 L1508.8,565.0 L1509.3,565.7 L1509.8,566.5 L1510.3,567.3 L1510.8,568.2 L1511.2,569.2 L1511.7,570.2 L1512.2,571.3 L1512.7,572.5 L1513.2,573.7 L1513.6,575.0 L1514.1,576.4 L1514.6,577.8 L1515.1,579.3 L1515.6,580.9 L1516.1,582.6 L1516.5,584.3 L1517.0,586.1 L1517.5,588.0 L1518.0,590.0 L1518.5,592.1 L1518.9,594.3 L1519.4,596.5 L1519.9,598.8 L1520.4,601.3 L1520.9,603.8 L1521.3,606.4 L1521.8,609.1 L1522.3,612.0 L1522.8,614.9 L1523.3,618.0 L1523.7,621.1 L1524.2,624.4 L1524.7,627.9 L1525.2,631.4 L1525.7,635.1 L1526.1,638.9 L1526.6,642.9 L1527.1,647.0 L1527.6,651.2 L1528.1,655.7 L1528.6,660.3 L1529.0,665.1 L1529.5,670.1 L1530.0,675.3 L1530.5,680.7 L1531.0,686.3 L1531.4,692.2 L1531.9,698.4 L1532.4,704.8 L1532.9,711.5 L1533.4,718.5 L1533.8,725.9 L1534.3,733.7 L1534.8,741.8 L1535.3,750.4 L1535.8,759.5 L1536.2,769.1 L1536.7,779.3 L1537.2,790.2 L1537.7,801.8 L1538.2,814.2 L1538.6,827.6 L1539.1,842.1 L1539.6,857.9 L1540.1,875.2 L1540.6,894.4 L1541.1,915.8 L1541.5,940.2 L1542.0,968.2 L1542.5,1001.4 L1543.0,1041.8 L1543.5,1093.7 L1543.9,1166.2 L1544.4,1242.5 L1544.9,1242.5 L1544.9,1242.5 L1545.4,1242.5 L1545.9,1180.7 L1546.3,1104.1 L1546.8,1050.3 L1547.3,1008.9 L1547.8,975.3 L1548.3,947.0 L1548.7,922.6 L1549.2,901.2 L1549.7,882.2 L1550.2,865.1 L1550.7,849.5 L1551.1,835.3 L1551.6,822.2 L1552.1,810.1 L1552.6,798.9 L1553.1,788.4 L1553.6,778.6 L1554.0,769.4 L1554.5,760.7 L1555.0,752.6 L1555.5,744.9 L1556.0,737.6 L1556.4,730.7 L1556.9,724.1 L1557.4,717.9 L1557.9,712.0 L1558.4,706.4 L1558.8,701.1 L1559.3,696.0 L1559.8,691.2 L1560.3,686.6 L1560.8,682.2 L1561.2,678.1 L1561.7,674.1 L1562.2,670.3 L1562.7,666.7 L1563.2,663.3 L1563.6,660.1 L1564.1,657.0 L1564.6,654.1 L1565.1,651.3 L1565.6,648.7 L1566.1,646.3 L1566.5,644.0 L1567.0,641.8 L1567.5,639.7 L1568.0,637.8 L1568.5,636.0 L1568.9,634.4 L1569.4,632.9 L1569.9,631.5 L1570.4,630.2 L1570.9,629.0 L1571.3,628.0 L1571.8,627.1 L1572.3,626.3 L1572.8,625.6 L1573.3,625.0 L1573.7,624.6 L1574.2,624.2 L1574.7,624.0 L1575.2,623.9 L1575.7,623.9 L1576.1,624.1 L1576.6,624.3 L1577.1,624.7 L1577.6,625.2 L1578.1,625.8 L1578.5,626.5 L1579.0,627.3 L1579.5,628.3 L1580.0,629.4 L1580.5,630.6 L1581.0,631.9 L1581.4,633.4 L1581.9,635.0 L1582.4,636.8 L1582.9,638.6 L1583.4,640.7 L1583.8,642.8 L1584.3,645.1 L1584.8,647.6 L1585.3,650.2 L1585.8,653.0 L1586.2,655.9 L1586.7,659.1 L1587.2,662.4 L1587.7,665.8 L1588.2,669.5 L1588.6,673.4 L1589.1,677.5 L1589.6,681.8 L1590.1,686.3 L1590.6,691.1 L1591.0,696.1 L1591.5,701.4 L1592.0,706.9 L1592.5,712.8 L1593.0,719.0 L1593.5,725.6 L1593.9,732.5 L1594.4,739.8 L1594.9,747.5 L1595.4,755.7 L1595.9,764.4 L1596.3,773.7 L1596.8,783.5 L1597.3,794.1 L1597.8,805.5 L1598.3,817.7 L1598.7,830.9 L1599.2,845.2 L1599.7,860.9 L1600.2,878.2 L1600.7,897.4 L1601.1,918.9 L1601.6,943.4 L1602.1,971.8 L1602.6,1005.4 L1603.1,1046.7 L1603.5,1100.1 L1604.0,1175.7 L1604.5,1242.5 L1605.0,1242.5 L1605.0,1242.5 L1605.5,1242.5 L1606.0,1171.2 L1606.4,1097.8 L1606.9,1045.8 L1607.4,1005.4 L1607.9,972.6 L1608.4,944.9 L1608.8,921.0 L1609.3,900.1 L1609.8,881.5 L1610.3,864.8 L1610.8,849.7 L1611.2,835.9 L1611.7,823.2 L1612.2,811.6 L1612.7,800.8 L1613.2,790.8 L1613.6,781.5 L1614.1,772.8 L1614.6,764.7 L1615.1,757.1 L1615.6,750.0 L1616.0,743.3 L1616.5,737.0 L1617.0,731.2 L1617.5,725.7 L1618.0,720.5 L1618.5,715.7 L1618.9,711.1 L1619.4,706.9 L1619.9,702.9 L1620.4,699.2 L1620.9,695.8 L1621.3,692.6 L1621.8,689.6 L1622.3,686.9 L1622.8,684.4 L1623.3,682.1 L1623.7,680.0 L1624.2,678.2 L1624.7,676.5 L1625.2,675.1 L1625.7,673.8 L1626.1,672.8 L1626.6,671.9 L1627.1,671.3 L1627.6,670.8 L1628.1,670.5 L1628.5,670.4 L1629.0,670.6 L1629.5,670.9 L1630.0,671.4 L1630.5,672.1 L1631.0,673.0 L1631.4,674.0 L1631.9,675.3 L1632.4,676.9 L1632.9,678.6 L1633.4,680.5 L1633.8,682.7 L1634.3,685.0 L1634.8,687.6 L1635.3,690.5 L1635.8,693.6 L1636.2,697.0 L1636.7,700.6 L1637.2,704.5 L1637.7,708.7 L1638.2,713.1 L1638.6,718.0 L1639.1,723.1 L1639.6,728.6 L1640.1,734.5 L1640.6,740.8 L1641.0,747.5 L1641.5,754.6 L1642.0,762.3 L1642.5,770.5 L1643.0,779.4 L1643.5,788.8 L1643.9,799.0 L1644.4,810.0 L1644.9,822.0 L1645.4,834.9 L1645.9,849.1 L1646.3,864.6 L1646.8,881.8 L1647.3,901.0 L1647.8,922.6 L1648.3,947.3 L1648.7,976.0 L1649.2,1010.3 L1649.7,1052.7 L1650.2,1107.9 L1650.7,1187.5 L1651.1,1242.5 L1651.6,1242.5 L1651.6,1242.5 L1652.1,1242.5 L1652.6,1160.5 L1653.1,1090.8 L1653.5,1040.6 L1654.0,1001.5 L1654.5,969.5 L1655.0,942.6 L1655.5,919.3 L1656.0,899.0 L1656.4,880.9 L1656.9,864.7 L1657.4,850.1 L1657.9,836.9 L1658.4,824.8 L1658.8,813.7 L1659.3,803.5 L1659.8,794.1 L1660.3,785.5 L1660.8,777.5 L1661.2,770.0 L1661.7,763.2 L1662.2,756.9 L1662.7,751.0 L1663.2,745.6 L1663.6,740.7 L1664.1,736.1 L1664.6,731.9 L1665.1,728.1 L1665.6,724.7 L1666.0,721.6 L1666.5,718.8 L1667.0,716.3 L1667.5,714.2 L1668.0,712.3 L1668.5,710.8 L1668.9,709.6 L1669.4,708.6 L1669.9,708.0 L1670.4,707.6 L1670.9,707.5 L1671.3,707.7 L1671.8,708.2 L1672.3,709.0 L1672.8,710.1 L1673.3,711.5 L1673.7,713.2 L1674.2,715.2 L1674.7,717.6 L1675.2,720.2 L1675.7,723.2 L1676.1,726.6 L1676.6,730.3 L1677.1,734.4 L1677.6,738.9 L1678.1,743.8 L1678.5,749.1 L1679.0,755.0 L1679.5,761.3 L1680.0,768.1 L1680.5,775.6 L1681.0,783.6 L1681.4,792.4 L1681.9,801.9 L1682.4,812.2 L1682.9,823.5 L1683.4,835.8 L1683.8,849.3 L1684.3,864.2 L1684.8,880.8 L1685.3,899.3 L1685.8,920.2 L1686.2,944.1 L1686.7,971.9 L1687.2,1005.0 L1687.7,1045.7 L1688.2,1098.4 L1688.6,1172.8 L1689.1,1242.5 L1689.6,1242.5 L1689.6,1242.5 L1690.1,1242.5 L1690.6,1174.3 L1691.0,1100.1 L1691.5,1047.8 L1692.0,1007.4 L1692.5,974.7 L1693.0,947.3 L1693.5,923.9 L1693.9,903.4 L1694.4,885.4 L1694.9,869.4 L1695.4,855.0 L1695.9,842.0 L1696.3,830.2 L1696.8,819.6 L1697.3,809.9 L1697.8,801.0 L1698.3,792.9 L1698.7,785.6 L1699.2,778.9 L1699.7,772.8 L1700.2,767.3 L1700.7,762.4 L1701.1,758.0 L1701.6,754.0 L1702.1,750.6 L1702.6,747.5 L1703.1,745.0 L1703.5,742.8 L1704.0,741.1 L1704.5,739.8 L1705.0,738.9 L1705.5,738.4 L1706.0,738.3 L1706.4,738.7 L1706.9,739.4 L1707.4,740.5 L1707.9,742.1 L1708.4,744.1 L1708.8,746.5 L1709.3,749.4 L1709.8,752.7 L1710.3,756.5 L1710.8,760.8 L1711.2,765.7 L1711.7,771.1 L1712.2,777.1 L1712.7,783.7 L1713.2,791.0 L1713.6,799.1 L1714.1,807.9 L1714.6,817.7 L1715.1,828.4 L1715.6,840.2 L1716.0,853.3 L1716.5,867.9 L1717.0,884.1 L1717.5,902.4 L1718.0,923.2 L1718.5,947.0 L1718.9,974.9 L1719.4,1008.3 L1719.9,1049.5 L1720.4,1103.2 L1720.9,1179.9 L1721.3,1242.5 L1721.8,1242.5 L1721.8,1242.5 L1722.3,1242.5 L1722.8,1167.6 L1723.3,1095.8 L1723.7,1044.7 L1724.2,1005.3 L1724.7,973.3 L1725.2,946.5 L1725.7,923.6 L1726.1,903.8 L1726.6,886.3 L1727.1,870.9 L1727.6,857.1 L1728.1,844.8 L1728.5,833.8 L1729.0,823.9 L1729.5,815.0 L1730.0,807.0 L1730.5,799.9 L1731.0,793.5 L1731.4,787.8 L1731.9,782.9 L1732.4,778.6 L1732.9,774.9 L1733.4,771.8 L1733.8,769.2 L1734.3,767.3 L1734.8,765.9 L1735.3,765.0 L1735.8,764.7 L1736.2,764.9 L1736.7,765.7 L1737.2,767.0 L1737.7,768.8 L1738.2,771.3 L1738.6,774.3 L1739.1,777.9 L1739.6,782.2 L1740.1,787.1 L1740.6,792.8 L1741.0,799.1 L1741.5,806.3 L1742.0,814.4 L1742.5,823.3 L1743.0,833.4 L1743.5,844.6 L1743.9,857.1 L1744.4,871.2 L1744.9,887.0 L1745.4,904.8 L1745.9,925.3 L1746.3,948.9 L1746.8,976.6 L1747.3,1009.9 L1747.8,1051.2 L1748.3,1105.2 L1748.7,1182.6 L1749.2,1242.5 L1749.7,1242.5 L1749.7,1242.5 L1750.2,1242.5 L1750.7,1165.3 L1751.1,1094.4 L1751.6,1043.9 L1752.1,1004.9 L1752.6,973.4 L1753.1,947.1 L1753.5,924.7 L1754.0,905.3 L1754.5,888.4 L1755.0,873.6 L1755.5,860.5 L1756.0,848.9 L1756.4,838.7 L1756.9,829.6 L1757.4,821.6 L1757.9,814.6 L1758.4,808.5 L1758.8,803.3 L1759.3,798.9 L1759.8,795.2 L1760.3,792.3 L1760.8,790.1 L1761.2,788.7 L1761.7,787.9 L1762.2,787.8 L1762.7,788.4 L1763.2,789.7 L1763.6,791.8 L1764.1,794.5 L1764.6,798.1 L1765.1,802.4 L1765.6,807.5 L1766.0,813.5 L1766.5,820.4 L1767.0,828.4 L1767.5,837.4 L1768.0,847.7 L1768.5,859.3 L1768.9,872.5 L1769.4,887.5 L1769.9,904.5 L1770.4,924.1 L1770.9,946.8 L1771.3,973.5 L1771.8,1005.6 L1772.3,1045.4 L1772.8,1097.1 L1773.3,1170.1 L1773.7,1242.5 L1774.2,1242.5 L1774.2,1242.5 L1774.7,1242.5" stroke="#dc000c" stroke-width="5.5"/>
<path d="M332.9,183.7 L333.5,183.7 L334.1,183.7 L334.6,183.7 L335.2,183.7 L335.8,183.7 L336.4,183.7 L336.9,183.7 L337.5,183.7 L338.1,183.7 L338.7,183.7 L339.2,183.7 L339.8,183.7 L340.4,183.7 L341.0,183.7 L341.6,183.7 L342.1,183.7 L342.7,183.8 L343.3,183.8 L343.9,183.8 L344.4,183.8 L345.0,183.8 L345.6,183.8 L346.2,183.8 L346.7,183.8 L347.3,183.8 L347.9,183.8 L348.5,183.8 L349.1,183.8 L349.6,183.8 L350.2,183.8 L350.8,183.8 L351.4,183.8 L351.9,183.8 L352.5,183.8 L353.1,183.8 L353.7,183.8 L354.2,183.8 L354.8,183.8 L355.4,183.8 L356.0,183.8 L356.6,183.8 L357.1,183.8 L357.7,183.8 L358.3,183.8 L358.9,183.8 L359.4,183.8 L360.0,183.8 L360.6,183.8 L361.2,183.8 L361.7,183.8 L362.3,183.8 L362.9,183.8 L363.5,183.8 L364.1,183.8 L364.6,183.8 L365.2,183.8 L365.8,183.8 L366.4,183.8 L366.9,183.8 L367.5,183.8 L368.1,183.8 L368.7,183.8 L369.2,183.8 L369.8,183.8 L370.4,183.8 L371.0,183.8 L371.6,183.8 L372.1,183.8 L372.7,183.8 L373.3,183.8 L373.9,183.8 L374.4,183.8 L375.0,183.8 L375.6,183.8 L376.2,183.8 L376.7,183.8 L377.3,183.8 L377.9,183.8 L378.5,183.8 L379.1,183.8 L379.6,183.8 L380.2,183.8 L380.8,183.8 L381.4,183.8 L381.9,183.8 L382.5,183.8 L383.1,183.8 L383.7,183.8 L384.2,183.8 L384.8,183.8 L385.4,183.8 L386.0,183.8 L386.6,183.8 L387.1,183.8 L387.7,183.8 L388.3,183.8 L388.9,183.8 L389.4,183.8 L390.0,183.8 L390.6,183.8 L391.2,183.8 L391.7,183.8 L392.3,183.8 L392.9,183.8 L393.5,183.8 L394.1,183.8 L394.6,183.8 L395.2,183.8 L395.8,183.8 L396.4,183.8 L396.9,183.8 L397.5,183.8 L398.1,183.8 L398.7,183.8 L399.2,183.8 L399.8,183.8 L400.4,183.8 L401.0,183.8 L401.6,183.8 L402.1,183.8 L402.7,183.8 L403.3,183.8 L403.9,183.8 L404.4,183.8 L405.0,183.8 L405.6,183.8 L406.2,183.8 L406.7,183.8 L407.3,183.8 L407.9,183.8 L408.5,183.8 L409.1,183.8 L409.6,183.8 L410.2,183.8 L410.8,183.8 L411.4,183.8 L411.9,183.8 L412.5,183.8 L413.1,183.8 L413.7,183.8 L414.3,183.8 L414.8,183.8 L415.4,183.8 L416.0,183.8 L416.6,183.8 L417.1,183.8 L417.7,183.8 L418.3,183.8 L418.9,183.8 L419.4,183.8 L420.0,183.8 L420.6,183.8 L421.2,183.8 L421.8,183.8 L422.3,183.8 L422.9,183.8 L423.5,183.8 L424.1,183.8 L424.6,183.8 L425.2,183.8 L425.8,183.8 L426.4,183.8 L426.9,183.8 L427.5,183.8 L428.1,183.8 L428.7,183.8 L429.3,183.8 L429.8,183.8 L430.4,183.8 L431.0,183.8 L431.6,183.8 L432.1,183.8 L432.7,183.8 L433.3,183.8 L433.9,183.8 L434.4,183.8 L435.0,183.8 L435.6,183.8 L436.2,183.8 L436.8,183.8 L437.3,183.8 L437.9,183.8 L438.5,183.8 L439.1,183.8 L439.6,183.8 L440.2,183.8 L440.8,183.8 L441.4,183.8 L441.9,183.8 L442.5,183.8 L443.1,183.8 L443.7,183.8 L444.3,183.8 L444.8,183.8 L445.4,183.8 L446.0,183.8 L446.6,183.8 L447.1,183.8 L447.7,183.8 L448.3,183.8 L448.9,183.8 L449.4,183.8 L450.0,183.8 L450.6,183.8 L451.2,183.8 L451.8,183.8 L452.3,183.8 L452.9,183.8 L453.5,183.8 L454.1,183.8 L454.6,183.8 L455.2,183.8 L455.8,183.8 L456.4,183.8 L456.9,183.8 L457.5,183.9 L458.1,183.9 L458.7,183.9 L459.3,183.9 L459.8,183.9 L460.4,183.9 L461.0,183.9 L461.6,183.9 L462.1,183.9 L462.7,183.9 L463.3,183.9 L463.9,183.9 L464.4,183.9 L465.0,183.9 L465.6,183.9 L466.2,183.9 L466.8,183.9 L467.3,183.9 L467.9,183.9 L468.5,183.9 L469.1,183.9 L469.6,183.9 L470.2,183.9 L470.8,183.9 L471.4,183.9 L471.9,183.9 L472.5,183.9 L473.1,183.9 L473.7,183.9 L474.3,183.9 L474.8,183.9 L475.4,183.9 L476.0,183.9 L476.6,183.9 L477.1,183.9 L477.7,183.9 L478.3,183.9 L478.9,183.9 L479.4,183.9 L480.0,183.9 L480.6,183.9 L481.2,183.9 L481.8,183.9 L482.3,183.9 L482.9,183.9 L483.5,183.9 L484.1,183.9 L484.6,183.9 L485.2,183.9 L485.8,183.9 L486.4,183.9 L486.9,183.9 L487.5,183.9 L488.1,183.9 L488.7,183.9 L489.3,183.9 L489.8,183.9 L490.4,183.9 L491.0,183.9 L491.6,183.9 L492.1,183.9 L492.7,183.9 L493.3,183.9 L493.9,183.9 L494.4,183.9 L495.0,183.9 L495.6,183.9 L496.2,183.9 L496.8,183.9 L497.3,183.9 L497.9,183.9 L498.5,183.9 L499.1,183.9 L499.6,183.9 L500.2,183.9 L500.8,183.9 L501.4,183.9 L501.9,183.9 L502.5,183.9 L503.1,183.9 L503.7,183.9 L504.3,183.9 L504.8,183.9 L505.4,183.9 L506.0,183.9 L506.6,183.9 L507.1,183.9 L507.7,183.9 L508.3,183.9 L508.9,183.9 L509.4,183.9 L510.0,183.9 L510.6,184.0 L511.2,184.0 L511.8,184.0 L512.3,184.0 L512.9,184.0 L513.5,184.0 L514.1,184.0 L514.6,184.0 L515.2,184.0 L515.8,184.0 L516.4,184.0 L516.9,184.0 L517.5,184.0 L518.1,184.0 L518.7,184.0 L519.3,184.0 L519.8,184.0 L520.4,184.0 L521.0,184.0 L521.6,184.0 L522.1,184.0 L522.7,184.0 L523.3,184.0 L523.9,184.0 L524.4,184.0 L525.0,184.0 L525.6,184.0 L526.2,184.0 L526.8,184.0 L527.3,184.0 L527.9,184.0 L528.5,184.0 L529.1,184.0 L529.6,184.0 L530.2,184.0 L530.8,184.0 L531.4,184.0 L531.9,184.0 L532.5,184.0 L533.1,184.0 L533.7,184.0 L534.3,184.0 L534.8,184.0 L535.4,184.0 L536.0,184.0 L536.6,184.0 L537.1,184.0 L537.7,184.0 L538.3,184.0 L538.9,184.0 L539.4,184.0 L540.0,184.0 L540.6,184.0 L541.2,184.0 L541.8,184.0 L542.3,184.0 L542.9,184.0 L543.5,184.0 L544.1,184.0 L544.6,184.0 L545.2,184.0 L545.8,184.1 L546.4,184.1 L546.9,184.1 L547.5,184.1 L548.1,184.1 L548.7,184.1 L549.3,184.1 L549.8,184.1 L550.4,184.1 L551.0,184.1 L551.6,184.1 L552.1,184.1 L552.7,184.1 L553.3,184.1 L553.9,184.1 L554.4,184.1 L555.0,184.1 L555.6,184.1 L556.2,184.1 L556.8,184.1 L557.3,184.1 L557.9,184.1 L558.5,184.1 L559.1,184.1 L559.6,184.1 L560.2,184.1 L560.8,184.1 L561.4,184.1 L561.9,184.1 L562.5,184.1 L563.1,184.1 L563.7,184.1 L564.3,184.1 L564.8,184.1 L565.4,184.1 L566.0,184.1 L566.6,184.1 L567.1,184.1 L567.7,184.1 L568.3,184.1 L568.9,184.1 L569.4,184.1 L570.0,184.1 L570.6,184.1 L571.2,184.1 L571.8,184.1 L572.3,184.2 L572.9,184.2 L573.5,184.2 L574.1,184.2 L574.6,184.2 L575.2,184.2 L575.8,184.2 L576.4,184.2 L577.0,184.2 L577.5,184.2 L578.1,184.2 L578.7,184.2 L579.3,184.2 L579.8,184.2 L580.4,184.2 L581.0,184.2 L581.6,184.2 L582.1,184.2 L582.7,184.2 L583.3,184.2 L583.9,184.2 L584.5,184.2 L585.0,184.2 L585.6,184.2 L586.2,184.2 L586.8,184.2 L587.3,184.2 L587.9,184.2 L588.5,184.2 L589.1,184.2 L589.6,184.2 L590.2,184.2 L590.8,184.2 L591.4,184.2 L592.0,184.2 L592.5,184.2 L593.1,184.3 L593.7,184.3 L594.3,184.3 L594.8,184.3 L595.4,184.3 L596.0,184.3 L596.6,184.3 L597.1,184.3 L597.7,184.3 L598.3,184.3 L598.9,184.3 L599.5,184.3 L600.0,184.3 L600.6,184.3 L601.2,184.3 L601.8,184.3 L602.3,184.3 L602.9,184.3 L603.5,184.3 L604.1,184.3 L604.6,184.3 L605.2,184.3 L605.8,184.3 L606.4,184.3 L607.0,184.3 L607.5,184.3 L608.1,184.3 L608.7,184.3 L609.3,184.3 L609.8,184.3 L610.4,184.4 L611.0,184.4 L611.6,184.4 L612.1,184.4 L612.7,184.4 L613.3,184.4 L613.9,184.4 L614.5,184.4 L615.0,184.4 L615.6,184.4 L616.2,184.4 L616.8,184.4 L617.3,184.4 L617.9,184.4 L618.5,184.4 L619.1,184.4 L619.6,184.4 L620.2,184.4 L620.8,184.4 L621.4,184.4 L622.0,184.4 L622.5,184.4 L623.1,184.4 L623.7,184.4 L624.3,184.4 L624.8,184.4 L625.4,184.5 L626.0,184.5 L626.6,184.5 L627.1,184.5 L627.7,184.5 L628.3,184.5 L628.9,184.5 L629.5,184.5 L630.0,184.5 L630.6,184.5 L631.2,184.5 L631.8,184.5 L632.3,184.5 L632.9,184.5 L633.5,184.5 L634.1,184.5 L634.6,184.5 L635.2,184.5 L635.8,184.5 L636.4,184.5 L637.0,184.5 L637.5,184.5 L638.1,184.5 L638.7,184.6 L639.3,184.6 L639.8,184.6 L640.4,184.6 L641.0,184.6 L641.6,184.6 L642.1,184.6 L642.7,184.6 L643.3,184.6 L643.9,184.6 L644.5,184.6 L645.0,184.6 L645.6,184.6 L646.2,184.6 L646.8,184.6 L647.3,184.6 L647.9,184.6 L648.5,184.6 L649.1,184.6 L649.6,184.6 L650.2,184.7 L650.8,184.7 L651.4,184.7 L652.0,184.7 L652.5,184.7 L653.1,184.7 L653.7,184.7 L654.3,184.7 L654.8,184.7 L655.4,184.7 L656.0,184.7 L656.6,184.7 L657.1,184.7 L657.7,184.7 L658.3,184.7 L658.9,184.7 L659.5,184.7 L660.0,184.7 L660.6,184.8 L661.2,184.8 L661.8,184.8 L662.3,184.8 L662.9,184.8 L663.5,184.8 L664.1,184.8 L664.6,184.8 L665.2,184.8 L665.8,184.8 L666.4,184.8 L667.0,184.8 L667.5,184.8 L668.1,184.8 L668.7,184.8 L669.3,184.8 L669.8,184.9 L670.4,184.9 L671.0,184.9 L671.6,184.9 L672.1,184.9 L672.7,184.9 L673.3,184.9 L673.9,184.9 L674.5,184.9 L675.0,184.9 L675.6,184.9 L676.2,184.9 L676.8,184.9 L677.3,184.9 L677.9,184.9 L678.5,185.0 L679.1,185.0 L679.6,185.0 L680.2,185.0 L680.8,185.0 L681.4,185.0 L682.0,185.0 L682.5,185.0 L683.1,185.0 L683.7,185.0 L684.3,185.0 L684.8,185.0 L685.4,185.0 L686.0,185.0 L686.6,185.1 L687.1,185.1 L687.7,185.1 L688.3,185.1 L688.9,185.1 L689.5,185.1 L690.0,185.1 L690.6,185.1 L691.2,185.1 L691.8,185.1 L692.3,185.1 L692.9,185.1 L693.5,185.1 L694.1,185.2 L694.6,185.2 L695.2,185.2 L695.8,185.2 L696.4,185.2 L697.0,185.2 L697.5,185.2 L698.1,185.2 L698.7,185.2 L699.3,185.2 L699.8,185.2 L700.4,185.2 L701.0,185.3 L701.6,185.3 L702.1,185.3 L702.7,185.3 L703.3,185.3 L703.9,185.3 L704.5,185.3 L705.0,185.3 L705.6,185.3 L706.2,185.3 L706.8,185.3 L707.3,185.3 L707.9,185.4 L708.5,185.4 L709.1,185.4 L709.6,185.4 L710.2,185.4 L710.8,185.4 L711.4,185.4 L712.0,185.4 L712.5,185.4 L713.1,185.4 L713.7,185.5 L714.3,185.5 L714.8,185.5 L715.4,185.5 L716.0,185.5 L716.6,185.5 L717.1,185.5 L717.7,185.5 L718.3,185.5 L718.9,185.5 L719.5,185.6 L720.0,185.6 L720.6,185.6 L721.2,185.6 L721.8,185.6 L722.3,185.6 L722.9,185.6 L723.5,185.6 L724.1,185.6 L724.6,185.6 L725.2,185.7 L725.8,185.7 L726.4,185.7 L727.0,185.7 L727.5,185.7 L728.1,185.7 L728.7,185.7 L729.3,185.7 L729.8,185.7 L730.4,185.8 L731.0,185.8 L731.6,185.8 L732.1,185.8 L732.7,185.8 L733.3,185.8 L733.9,185.8 L734.5,185.8 L735.0,185.8 L735.6,185.9 L736.2,185.9 L736.8,185.9 L737.3,185.9 L737.9,185.9 L738.5,185.9 L739.1,185.9 L739.7,185.9 L740.2,186.0 L740.8,186.0 L741.4,186.0 L742.0,186.0 L742.5,186.0 L743.1,186.0 L743.7,186.0 L744.3,186.0 L744.8,186.1 L745.4,186.1 L746.0,186.1 L746.6,186.1 L747.2,186.1 L747.7,186.1 L748.3,186.1 L748.9,186.2 L749.5,186.2 L750.0,186.2 L750.6,186.2 L751.2,186.2 L751.8,186.2 L752.3,186.2 L752.9,186.2 L753.5,186.3 L754.1,186.3 L754.7,186.3 L755.2,186.3 L755.8,186.3 L756.4,186.3 L757.0,186.4 L757.5,186.4 L758.1,186.4 L758.7,186.4 L759.3,186.4 L759.8,186.4 L760.4,186.4 L761.0,186.5 L761.6,186.5 L762.2,186.5 L762.7,186.5 L763.3,186.5 L763.9,186.5 L764.5,186.5 L765.0,186.6 L765.6,186.6 L766.2,186.6 L766.8,186.6 L767.3,186.6 L767.9,186.6 L768.5,186.7 L769.1,186.7 L769.7,186.7 L770.2,186.7 L770.8,186.7 L771.4,186.7 L772.0,186.8 L772.5,186.8 L773.1,186.8 L773.7,186.8 L774.3,186.8 L774.8,186.8 L775.4,186.9 L776.0,186.9 L776.6,186.9 L777.2,186.9 L777.7,186.9 L778.3,187.0 L778.9,187.0 L779.5,187.0 L780.0,187.0 L780.6,187.0 L781.2,187.0 L781.8,187.1 L782.3,187.1 L782.9,187.1 L783.5,187.1 L784.1,187.1 L784.7,187.2 L785.2,187.2 L785.8,187.2 L786.4,187.2 L787.0,187.2 L787.5,187.3 L788.1,187.3 L788.7,187.3 L789.3,187.3 L789.8,187.3 L790.4,187.4 L791.0,187.4 L791.6,187.4 L792.2,187.4 L792.7,187.4 L793.3,187.5 L793.9,187.5 L794.5,187.5 L795.0,187.5 L795.6,187.5 L796.2,187.6 L796.8,187.6 L797.3,187.6 L797.9,187.6 L798.5,187.6 L799.1,187.7 L799.7,187.7 L800.2,187.7 L800.8,187.7 L801.4,187.8 L802.0,187.8 L802.5,187.8 L803.1,187.8 L803.7,187.8 L804.3,187.9 L804.8,187.9 L805.4,187.9 L806.0,187.9 L806.6,188.0 L807.2,188.0 L807.7,188.0 L808.3,188.0 L808.9,188.1 L809.5,188.1 L810.0,188.1 L810.6,188.1 L811.2,188.2 L811.8,188.2 L812.3,188.2 L812.9,188.2 L813.5,188.3 L814.1,188.3 L814.7,188.3 L815.2,188.3 L815.8,188.4 L816.4,188.4 L817.0,188.4 L817.5,188.4 L818.1,188.5 L818.7,188.5 L819.3,188.5 L819.8,188.5 L820.4,188.6 L821.0,188.6 L821.6,188.6 L822.2,188.6 L822.7,188.7 L823.3,188.7 L823.9,188.7 L824.5,188.8 L825.0,188.8 L825.6,188.8 L826.2,188.8 L826.8,188.9 L827.3,188.9 L827.9,188.9 L828.5,189.0 L829.1,189.0 L829.7,189.0 L830.2,189.0 L830.8,189.1 L831.4,189.1 L832.0,189.1 L832.5,189.2 L833.1,189.2 L833.7,189.2 L834.3,189.3 L834.8,189.3 L835.4,189.3 L836.0,189.3 L836.6,189.4 L837.2,189.4 L837.7,189.4 L838.3,189.5 L838.9,189.5 L839.5,189.5 L840.0,189.6 L840.6,189.6 L841.2,189.6 L841.8,189.7 L842.3,189.7 L842.9,189.7 L843.5,189.8 L844.1,189.8 L844.7,189.8 L845.2,189.9 L845.8,189.9 L846.4,189.9 L847.0,190.0 L847.5,190.0 L848.1,190.0 L848.7,190.1 L849.3,190.1 L849.8,190.1 L850.4,190.2 L851.0,190.2 L851.6,190.2 L852.2,190.3 L852.7,190.3 L853.3,190.4 L853.9,190.4 L854.5,190.4 L855.0,190.5 L855.6,190.5 L856.2,190.5 L856.8,190.6 L857.3,190.6 L857.9,190.7 L858.5,190.7 L859.1,190.7 L859.7,190.8 L860.2,190.8 L860.8,190.9 L861.4,190.9 L862.0,190.9 L862.5,191.0 L863.1,191.0 L863.7,191.1 L864.3,191.1 L864.8,191.1 L865.4,191.2 L866.0,191.2 L866.6,191.3 L867.2,191.3 L867.7,191.3 L868.3,191.4 L868.9,191.4 L869.5,191.5 L870.0,191.5 L870.6,191.6 L871.2,191.6 L871.8,191.6 L872.3,191.7 L872.9,191.7 L873.5,191.8 L874.1,191.8 L874.7,191.9 L875.2,191.9 L875.8,192.0 L876.4,192.0 L877.0,192.0 L877.5,192.1 L878.1,192.1 L878.7,192.2 L879.3,192.2 L879.8,192.3 L880.4,192.3 L881.0,192.4 L881.6,192.4 L882.2,192.5 L882.7,192.5 L883.3,192.6 L883.9,192.6 L884.5,192.7 L885.0,192.7 L885.6,192.8 L886.2,192.8 L886.8,192.9 L887.3,192.9 L887.9,193.0 L888.5,193.0 L889.1,193.1 L889.7,193.1 L890.2,193.2 L890.8,193.2 L891.4,193.3 L892.0,193.3 L892.5,193.4 L893.1,193.4 L893.7,193.5 L894.3,193.5 L894.9,193.6 L895.4,193.7 L896.0,193.7 L896.6,193.8 L897.2,193.8 L897.7,193.9 L898.3,193.9 L898.9,194.0 L899.5,194.0 L900.0,194.1 L900.6,194.2 L901.2,194.2 L901.8,194.3 L902.4,194.3 L902.9,194.4 L903.5,194.4 L904.1,194.5 L904.7,194.6 L905.2,194.6 L905.8,194.7 L906.4,194.7 L907.0,194.8 L907.5,194.9 L908.1,194.9 L908.7,195.0 L909.3,195.1 L909.9,195.1 L910.4,195.2 L911.0,195.2 L911.6,195.3 L912.2,195.4 L912.7,195.4 L913.3,195.5 L913.9,195.6 L914.5,195.6 L915.0,195.7 L915.6,195.8 L916.2,195.8 L916.8,195.9 L917.4,196.0 L917.9,196.0 L918.5,196.1 L919.1,196.2 L919.7,196.2 L920.2,196.3 L920.8,196.4 L921.4,196.4 L922.0,196.5 L922.5,196.6 L923.1,196.7 L923.7,196.7 L924.3,196.8 L924.9,196.9 L925.4,196.9 L926.0,197.0 L926.6,197.1 L927.2,197.2 L927.7,197.2 L928.3,197.3 L928.9,197.4 L929.5,197.5 L930.0,197.5 L930.6,197.6 L931.2,197.7 L931.8,197.8 L932.4,197.8 L932.9,197.9 L933.5,198.0 L934.1,198.1 L934.7,198.2 L935.2,198.2 L935.8,198.3 L936.4,198.4 L937.0,198.5 L937.5,198.6 L938.1,198.6 L938.7,198.7 L939.3,198.8 L939.9,198.9 L940.4,199.0 L941.0,199.1 L941.6,199.1 L942.2,199.2 L942.7,199.3 L943.3,199.4 L943.9,199.5 L944.5,199.6 L945.0,199.7 L945.6,199.7 L946.2,199.8 L946.8,199.9 L947.4,200.0 L947.9,200.1 L948.5,200.2 L949.1,200.3 L949.7,200.4 L950.2,200.5 L950.8,200.5 L951.4,200.6 L952.0,200.7 L952.5,200.8 L953.1,200.9 L953.7,201.0 L954.3,201.1 L954.9,201.2 L955.4,201.3 L956.0,201.4 L956.6,201.5 L957.2,201.6 L957.7,201.7 L958.3,201.8 L958.9,201.9 L959.5,202.0 L960.0,202.1 L960.6,202.2 L961.2,202.3 L961.8,202.4 L962.4,202.5 L962.9,202.6 L963.5,202.7 L964.1,202.8 L964.7,202.9 L965.2,203.0 L965.8,203.1 L966.4,203.2 L967.0,203.3 L967.5,203.4 L968.1,203.5 L968.7,203.7 L969.3,203.8 L969.9,203.9 L970.4,204.0 L971.0,204.1 L971.6,204.2 L972.2,204.3 L972.7,204.4 L973.3,204.5 L973.9,204.7 L974.5,204.8 L975.0,204.9 L975.6,205.0 L976.2,205.1 L976.8,205.2 L977.4,205.4 L977.9,205.5 L978.5,205.6 L979.1,205.7 L979.7,205.8 L980.2,206.0 L980.8,206.1 L981.4,206.2 L982.0,206.3 L982.5,206.4 L983.1,206.6 L983.7,206.7 L984.3,206.8 L984.9,206.9 L985.4,207.1 L986.0,207.2 L986.6,207.3 L987.2,207.5 L987.7,207.6 L988.3,207.7 L988.9,207.8 L989.5,208.0 L990.0,208.1 L990.6,208.2 L991.2,208.4 L991.8,208.5 L992.4,208.6 L992.9,208.8 L993.5,208.9 L994.1,209.1 L994.7,209.2 L995.2,209.3 L995.8,209.5 L996.4,209.6 L997.0,209.8 L997.5,209.9 L998.1,210.0 L998.7,210.2 L999.3,210.3 L999.9,210.5 L1000.4,210.6 L1001.0,210.8 L1001.6,210.9 L1002.2,211.1 L1002.7,211.2 L1003.3,211.4 L1003.9,211.5 L1004.5,211.7 L1005.0,211.8 L1005.6,212.0 L1006.2,212.1 L1006.8,212.3 L1007.4,212.4 L1007.9,212.6 L1008.5,212.7 L1009.1,212.9 L1009.7,213.1 L1010.2,213.2 L1010.8,213.4 L1011.4,213.5 L1012.0,213.7 L1012.5,213.9 L1013.1,214.0 L1013.7,214.2 L1014.3,214.3 L1014.9,214.5 L1015.4,214.7 L1016.0,214.8 L1016.6,215.0 L1017.2,215.2 L1017.7,215.4 L1018.3,215.5 L1018.9,215.7 L1019.5,215.9 L1020.0,216.0 L1020.6,216.2 L1021.2,216.4 L1021.8,216.6 L1022.4,216.8 L1022.9,216.9 L1023.5,217.1 L1024.1,217.3 L1024.7,217.5 L1025.2,217.7 L1025.8,217.8 L1026.4,218.0 L1027.0,218.2 L1027.5,218.4 L1028.1,218.6 L1028.7,218.8 L1029.3,219.0 L1029.9,219.1 L1030.4,219.3 L1031.0,219.5 L1031.6,219.7 L1032.2,219.9 L1032.7,220.1 L1033.3,220.3 L1033.9,220.5 L1034.5,220.7 L1035.0,220.9 L1035.6,221.1 L1036.2,221.3 L1036.8,221.5 L1037.4,221.7 L1037.9,221.9 L1038.5,222.1 L1039.1,222.3 L1039.7,222.5 L1040.2,222.7 L1040.8,222.9 L1041.4,223.1 L1042.0,223.4 L1042.5,223.6 L1043.1,223.8 L1043.7,224.0 L1044.3,224.2 L1044.9,224.4 L1045.4,224.6 L1046.0,224.9 L1046.6,225.1 L1047.2,225.3 L1047.7,225.5 L1048.3,225.7 L1048.9,226.0 L1049.5,226.2 L1050.0,226.4 L1050.6,226.6 L1051.2,226.9 L1051.8,227.1 L1052.4,227.3 L1052.9,227.6 L1053.5,227.8 L1054.1,228.0 L1054.7,228.3 L1055.2,228.5 L1055.8,228.7 L1056.4,229.0 L1057.0,229.2 L1057.6,229.5 L1058.1,229.7 L1058.7,229.9 L1059.3,230.2 L1059.9,230.4 L1060.4,230.7 L1061.0,230.9 L1061.6,231.2 L1062.2,231.4 L1062.7,231.7 L1063.3,231.9 L1063.9,232.2 L1064.5,232.4 L1065.1,232.7 L1065.6,233.0 L1066.2,233.2 L1066.8,233.5 L1067.4,233.7 L1067.9,234.0 L1068.5,234.3 L1069.1,234.5 L1069.7,234.8 L1070.2,235.1 L1070.8,235.3 L1071.4,235.6 L1072.0,235.9 L1072.6,236.2 L1073.1,236.4 L1073.7,236.7 L1074.3,237.0 L1074.9,237.3 L1075.4,237.5 L1076.0,237.8 L1076.6,238.1 L1077.2,238.4 L1077.7,238.7 L1078.3,239.0 L1078.9,239.2 L1079.5,239.5 L1080.1,239.8 L1080.6,240.1 L1081.2,240.4 L1081.8,240.7 L1082.4,241.0 L1082.9,241.3 L1083.5,241.6 L1084.1,241.9 L1084.7,242.2 L1085.2,242.5 L1085.8,242.8 L1086.4,243.1 L1087.0,243.4 L1087.6,243.7 L1088.1,244.0 L1088.7,244.3 L1089.3,244.6 L1089.9,244.9 L1090.4,245.3 L1091.0,245.6 L1091.6,245.9 L1092.2,246.2 L1092.7,246.5 L1093.3,246.8 L1093.9,247.2 L1094.5,247.5 L1095.1,247.8 L1095.6,248.1 L1096.2,248.5 L1096.8,248.8 L1097.4,249.1 L1097.9,249.5 L1098.5,249.8 L1099.1,250.1 L1099.7,250.5 L1100.2,250.8 L1100.8,251.1 L1101.4,251.5 L1102.0,251.8 L1102.6,252.2 L1103.1,252.5 L1103.7,252.9 L1104.3,253.2 L1104.9,253.5 L1105.4,253.9 L1106.0,254.3 L1106.6,254.6 L1107.2,255.0 L1107.7,255.3 L1108.3,255.7 L1108.9,256.0 L1109.5,256.4 L1110.1,256.7 L1110.6,257.1 L1111.2,257.5 L1111.8,257.8 L1112.4,258.2 L1112.9,258.6 L1113.5,258.9 L1114.1,259.3 L1114.7,259.7 L1115.2,260.0 L1115.8,260.4 L1116.4,260.8 L1117.0,261.2 L1117.6,261.6 L1118.1,261.9 L1118.7,262.3 L1119.3,262.7 L1119.9,263.1 L1120.4,263.5 L1121.0,263.8 L1121.6,264.2 L1122.2,264.6 L1122.7,265.0 L1123.3,265.4 L1123.9,265.8 L1124.5,266.2 L1125.1,266.6 L1125.6,267.0 L1126.2,267.4 L1126.8,267.8 L1127.4,268.2 L1127.9,268.6 L1128.5,269.0 L1129.1,269.4 L1129.7,269.8 L1130.2,270.2 L1130.8,270.6 L1131.4,271.0 L1132.0,271.4 L1132.6,271.8 L1133.1,272.2 L1133.7,272.7 L1134.3,273.1 L1134.9,273.5 L1135.4,273.9 L1136.0,274.3 L1136.6,274.7 L1137.2,275.2 L1137.7,275.6 L1138.3,276.0 L1138.9,276.4 L1139.5,276.8 L1140.1,277.3 L1140.6,277.7 L1141.2,278.1 L1141.8,278.5 L1142.4,279.0 L1142.9,279.4 L1143.5,279.8 L1144.1,280.3 L1144.7,280.7 L1145.2,281.1 L1145.8,281.6 L1146.4,282.0 L1147.0,282.4 L1147.6,282.9 L1148.1,283.3 L1148.7,283.7 L1149.3,284.2 L1149.9,284.6 L1150.4,285.1 L1151.0,285.5 L1151.6,285.9 L1152.2,286.4 L1152.7,286.8 L1153.3,287.3 L1153.9,287.7 L1154.5,288.2 L1155.1,288.6 L1155.6,289.0 L1156.2,289.5 L1156.8,289.9 L1157.4,290.4 L1157.9,290.8 L1158.5,291.3 L1159.1,291.7 L1159.7,292.2 L1160.2,292.6 L1160.8,293.1 L1161.4,293.5 L1162.0,294.0 L1162.6,294.4 L1163.1,294.9 L1163.7,295.3 L1164.3,295.8 L1164.9,296.2 L1165.4,296.7 L1166.0,297.1 L1166.6,297.6 L1167.2,298.0 L1167.7,298.5 L1168.3,298.9 L1168.9,299.4 L1169.5,299.8 L1170.1,300.3 L1170.6,300.7 L1171.2,301.2 L1171.8,301.6 L1172.4,302.1 L1172.9,302.5 L1173.5,303.0 L1174.1,303.4 L1174.7,303.9 L1175.2,304.3 L1175.8,304.8 L1176.4,305.2 L1177.0,305.7 L1177.6,306.1 L1178.1,306.6 L1178.7,307.0 L1179.3,307.5 L1179.9,307.9 L1180.4,308.4 L1181.0,308.8 L1181.6,309.2 L1182.2,309.7 L1182.7,310.1 L1183.3,310.6 L1183.9,311.0 L1184.5,311.4 L1185.1,311.9 L1185.6,312.3 L1186.2,312.8 L1186.8,313.2 L1187.4,313.6 L1187.9,314.1 L1188.5,314.5 L1189.1,314.9 L1189.7,315.4 L1190.2,315.8 L1190.8,316.2 L1191.4,316.6 L1192.0,317.1 L1192.6,317.5 L1193.1,317.9 L1193.7,318.3 L1194.3,318.7 L1194.9,319.2 L1195.4,319.6 L1196.0,320.0 L1196.6,320.4 L1197.2,320.8 L1197.7,321.2 L1198.3,321.6 L1198.9,322.0 L1199.5,322.5 L1200.1,322.9 L1200.6,323.3 L1201.2,323.7 L1201.8,324.1 L1202.4,324.5 L1202.9,324.9 L1203.5,325.2 L1204.1,325.6 L1204.7,326.0 L1205.2,326.4 L1205.8,326.8 L1206.4,327.2 L1207.0,327.6 L1207.6,328.0 L1208.1,328.3 L1208.7,328.7 L1209.3,329.1 L1209.9,329.5 L1210.4,329.8 L1211.0,330.2 L1211.6,330.6 L1212.2,330.9 L1212.7,331.3 L1213.3,331.7 L1213.9,332.0 L1214.5,332.4 L1215.1,332.7 L1215.6,333.1 L1216.2,333.5 L1216.8,333.8 L1217.4,334.2 L1217.9,334.5 L1218.5,334.8 L1219.1,335.2 L1219.7,335.5 L1220.3,335.9 L1220.8,336.2 L1221.4,336.5 L1222.0,336.9 L1222.6,337.2 L1223.1,337.5 L1223.7,337.9 L1224.3,338.2 L1224.9,338.5 L1225.4,338.8 L1226.0,339.2 L1226.6,339.5 L1227.2,339.8 L1227.8,340.1 L1228.3,340.4 L1228.9,340.7 L1229.5,341.1 L1230.1,341.4 L1230.6,341.7 L1231.2,342.0 L1231.8,342.3 L1232.4,342.6 L1232.9,342.9 L1233.5,343.2 L1234.1,343.5 L1234.7,343.8 L1235.3,344.1 L1235.8,344.4 L1236.4,344.7 L1237.0,345.0 L1237.6,345.3 L1238.1,345.6 L1238.7,345.9 L1239.3,346.2 L1239.9,346.5 L1240.4,346.7 L1241.0,347.0 L1241.6,347.3 L1242.2,347.6 L1242.8,347.9 L1243.3,348.2 L1243.9,348.5 L1244.5,348.8 L1245.1,349.0 L1245.6,349.3 L1246.2,349.6 L1246.8,349.9 L1247.4,350.2 L1247.9,350.5 L1248.5,350.8 L1249.1,351.0 L1249.7,351.3 L1250.3,351.6 L1250.8,351.9 L1251.4,352.2 L1252.0,352.5 L1252.6,352.8 L1253.1,353.1 L1253.7,353.3 L1254.3,353.6 L1254.9,353.9 L1255.4,354.2 L1256.0,354.5 L1256.6,354.8 L1257.2,355.1 L1257.8,355.4 L1258.3,355.7 L1258.9,356.0 L1259.5,356.3 L1260.1,356.6 L1260.6,356.9 L1261.2,357.2 L1261.8,357.5 L1262.4,357.8 L1262.9,358.1 L1263.5,358.5 L1264.1,358.8 L1264.7,359.1 L1265.3,359.4 L1265.8,359.7 L1266.4,360.1 L1267.0,360.4 L1267.6,360.7 L1268.1,361.1 L1268.7,361.4 L1269.3,361.7 L1269.9,362.1 L1270.4,362.4 L1271.0,362.8 L1271.6,363.1 L1272.2,363.5 L1272.8,363.8 L1273.3,364.2 L1273.9,364.5 L1274.5,364.9 L1275.1,365.3 L1275.6,365.7 L1276.2,366.0 L1276.8,366.4 L1277.4,366.8 L1277.9,367.2 L1278.5,367.6 L1279.1,368.0 L1279.7,368.4 L1280.3,368.8 L1280.8,369.2 L1281.4,369.6 L1282.0,370.0 L1282.6,370.4 L1283.1,370.9 L1283.7,371.3 L1284.3,371.7 L1284.9,372.2 L1285.4,372.6 L1286.0,373.0 L1286.6,373.5 L1287.2,373.9 L1287.8,374.4 L1288.3,374.9 L1288.9,375.3 L1289.5,375.8 L1290.1,376.3 L1290.6,376.8 L1291.2,377.3 L1291.8,377.8 L1292.4,378.2 L1292.9,378.7 L1293.5,379.3 L1294.1,379.8 L1294.7,380.3 L1295.3,380.8 L1295.8,381.3 L1296.4,381.9 L1297.0,382.4 L1297.6,382.9 L1298.1,383.5 L1298.7,384.0 L1299.3,384.6 L1299.9,385.1 L1300.4,385.7 L1301.0,386.3 L1301.6,386.8 L1302.2,387.4 L1302.8,388.0 L1303.3,388.6 L1303.9,389.2 L1304.5,389.8 L1305.1,390.4 L1305.6,391.0 L1306.2,391.6 L1306.8,392.2 L1307.4,392.8 L1307.9,393.4 L1308.5,394.0 L1309.1,394.7 L1309.7,395.3 L1310.3,395.9 L1310.8,396.6 L1311.4,397.2 L1312.0,397.9 L1312.6,398.5 L1313.1,399.2 L1313.7,399.8 L1314.3,400.5 L1314.9,401.1 L1315.4,401.8 L1316.0,402.4 L1316.6,403.1 L1317.2,403.8 L1317.8,404.4 L1318.3,405.1 L1318.9,405.8 L1319.5,406.4 L1320.1,407.1 L1320.6,407.8 L1321.2,408.5 L1321.8,409.1 L1322.4,409.8 L1322.9,410.5 L1323.5,411.2 L1324.1,411.8 L1324.7,412.5 L1325.3,413.2 L1325.8,413.8 L1326.4,414.5 L1327.0,415.2 L1327.6,415.9 L1328.1,416.5 L1328.7,417.2 L1329.3,417.8 L1329.9,418.5 L1330.4,419.2 L1331.0,419.8 L1331.6,420.4 L1332.2,421.1 L1332.8,421.7 L1333.3,422.4 L1333.9,423.0 L1334.5,423.6 L1335.1,424.2 L1335.6,424.9 L1336.2,425.5 L1336.8,426.1 L1337.4,426.7 L1337.9,427.3 L1338.5,427.9 L1339.1,428.4 L1339.7,429.0 L1340.3,429.6 L1340.8,430.1 L1341.4,430.7 L1342.0,431.2 L1342.6,431.8 L1343.1,432.3 L1343.7,432.8 L1344.3,433.3 L1344.9,433.8 L1345.4,434.3 L1346.0,434.8 L1346.6,435.3 L1347.2,435.8 L1347.8,436.2 L1348.3,436.7 L1348.9,437.1 L1349.5,437.6 L1350.1,438.0 L1350.6,438.4 L1351.2,438.8 L1351.8,439.2 L1352.4,439.6 L1352.9,440.0 L1353.5,440.4 L1354.1,440.8 L1354.7,441.1 L1355.3,441.5 L1355.8,441.8 L1356.4,442.1 L1357.0,442.5 L1357.6,442.8 L1358.1,443.1 L1358.7,443.4 L1359.3,443.7 L1359.9,444.0 L1360.4,444.3 L1361.0,444.6 L1361.6,444.8 L1362.2,445.1 L1362.8,445.4 L1363.3,445.6 L1363.9,445.9 L1364.5,446.1 L1365.1,446.3 L1365.6,446.6 L1366.2,446.8 L1366.8,447.0 L1367.4,447.3 L1367.9,447.5 L1368.5,447.7 L1369.1,448.0 L1369.7,448.2 L1370.3,448.4 L1370.8,448.6 L1371.4,448.8 L1372.0,449.1 L1372.6,449.3 L1373.1,449.5 L1373.7,449.7 L1374.3,449.9 L1374.9,450.2 L1375.5,450.4 L1376.0,450.6 L1376.6,450.9 L1377.2,451.1 L1377.8,451.4 L1378.3,451.6 L1378.9,451.9 L1379.5,452.1 L1380.1,452.4 L1380.6,452.7 L1381.2,452.9 L1381.8,453.2 L1382.4,453.5 L1383.0,453.8 L1383.5,454.1 L1384.1,454.4 L1384.7,454.8 L1385.3,455.1 L1385.8,455.4 L1386.4,455.8 L1387.0,456.2 L1387.6,456.5 L1388.1,456.9 L1388.7,457.3 L1389.3,457.7 L1389.9,458.1 L1390.5,458.5 L1391.0,459.0 L1391.6,459.4 L1392.2,459.9 L1392.8,460.4 L1393.3,460.8 L1393.9,461.3 L1394.5,461.9 L1395.1,462.4 L1395.6,462.9 L1396.2,463.4 L1396.8,464.0 L1397.4,464.6 L1398.0,465.2 L1398.5,465.7 L1399.1,466.4 L1399.7,467.0 L1400.3,467.6 L1400.8,468.2 L1401.4,468.9 L1402.0,469.5 L1402.6,470.2 L1403.1,470.9 L1403.7,471.6 L1404.3,472.3 L1404.9,473.0 L1405.5,473.8 L1406.0,474.5 L1406.6,475.2 L1407.2,476.0 L1407.8,476.7 L1408.3,477.5 L1408.9,478.3 L1409.5,479.1 L1410.1,479.9 L1410.6,480.7 L1411.2,481.4 L1411.8,482.3 L1412.4,483.1 L1413.0,483.9 L1413.5,484.7 L1414.1,485.5 L1414.7,486.3 L1415.3,487.1 L1415.8,487.9 L1416.4,488.7 L1417.0,489.6 L1417.6,490.4 L1418.1,491.2 L1418.7,492.0 L1419.3,492.8 L1419.9,493.5 L1420.5,494.3 L1421.0,495.1 L1421.6,495.8 L1422.2,496.6 L1422.8,497.3 L1423.3,498.1 L1423.9,498.8 L1424.5,499.5 L1425.1,500.2 L1425.6,500.9 L1426.2,501.5 L1426.8,502.2 L1427.4,502.8 L1428.0,503.4 L1428.5,504.0 L1429.1,504.6 L1429.7,505.1 L1430.3,505.6 L1430.8,506.2 L1431.4,506.7 L1432.0,507.1 L1432.6,507.6 L1433.1,508.0 L1433.7,508.5 L1434.3,508.9 L1434.9,509.2 L1435.5,509.6 L1436.0,509.9 L1436.6,510.3 L1437.2,510.6 L1437.8,510.9 L1438.3,511.1 L1438.9,511.4 L1439.5,511.6 L1440.1,511.8 L1440.6,512.0 L1441.2,512.2 L1441.8,512.4 L1442.4,512.6 L1443.0,512.8 L1443.5,512.9 L1444.1,513.0 L1444.7,513.2 L1445.3,513.3 L1445.8,513.4 L1446.4,513.6 L1447.0,513.7 L1447.6,513.8 L1448.1,513.9 L1448.7,514.0 L1449.3,514.1 L1449.9,514.3 L1450.5,514.4 L1451.0,514.5 L1451.6,514.7 L1452.2,514.8 L1452.8,515.0 L1453.3,515.1 L1453.9,515.3 L1454.5,515.5 L1455.1,515.7 L1455.6,515.9 L1456.2,516.2 L1456.8,516.4 L1457.4,516.7 L1458.0,517.0 L1458.5,517.3 L1459.1,517.6 L1459.7,517.9 L1460.3,518.3 L1460.8,518.7 L1461.4,519.1 L1462.0,519.5 L1462.6,520.0 L1463.1,520.4 L1463.7,520.9 L1464.3,521.5 L1464.9,522.0 L1465.5,522.6 L1466.0,523.2 L1466.6,523.8 L1467.2,524.4 L1467.8,525.1 L1468.3,525.8 L1468.9,526.5 L1469.5,527.2 L1470.1,527.9 L1470.6,528.7 L1471.2,529.5 L1471.8,530.3 L1472.4,531.1 L1473.0,532.0 L1473.5,532.8 L1474.1,533.7 L1474.7,534.6 L1475.3,535.5 L1475.8,536.4 L1476.4,537.3 L1477.0,538.2 L1477.6,539.2 L1478.1,540.1 L1478.7,541.1 L1479.3,542.0 L1479.9,542.9 L1480.5,543.9 L1481.0,544.8 L1481.6,545.7 L1482.2,546.6 L1482.8,547.5 L1483.3,548.4 L1483.9,549.3 L1484.5,550.1 L1485.1,551.0 L1485.6,551.8 L1486.2,552.6 L1486.8,553.3 L1487.4,554.1 L1488.0,554.8 L1488.5,555.4 L1489.1,556.1 L1489.7,556.7 L1490.3,557.3 L1490.8,557.8 L1491.4,558.3 L1492.0,558.8 L1492.6,559.2 L1493.1,559.7 L1493.7,560.0 L1494.3,560.4 L1494.9,560.7 L1495.5,560.9 L1496.0,561.2 L1496.6,561.4 L1497.2,561.6 L1497.8,561.7 L1498.3,561.8 L1498.9,561.9 L1499.5,562.0 L1500.1,562.1 L1500.6,562.1 L1501.2,562.2 L1501.8,562.2 L1502.4,562.2 L1503.0,562.2 L1503.5,562.2 L1504.1,562.2 L1504.7,562.2 L1505.3,562.3 L1505.8,562.3 L1506.4,562.3 L1507.0,562.3 L1507.6,562.4 L1508.1,562.5 L1508.7,562.6 L1509.3,562.7 L1509.9,562.8 L1510.5,563.0 L1511.0,563.2 L1511.6,563.4 L1512.2,563.7 L1512.8,563.9 L1513.3,564.3 L1513.9,564.6 L1514.5,565.0 L1515.1,565.4 L1515.6,565.9 L1516.2,566.4 L1516.8,567.0 L1517.4,567.5 L1518.0,568.2 L1518.5,568.8 L1519.1,569.5 L1519.7,570.2 L1520.3,571.0 L1520.8,571.8 L1521.4,572.7 L1522.0,573.5 L1522.6,574.4 L1523.1,575.4 L1523.7,576.3 L1524.3,577.3 L1524.9,578.3 L1525.5,579.3 L1526.0,580.3 L1526.6,581.4 L1527.2,582.4 L1527.8,583.5 L1528.3,584.6 L1528.9,585.6 L1529.5,586.7 L1530.1,587.7 L1530.6,588.7 L1531.2,589.7 L1531.8,590.7 L1532.4,591.7 L1533.0,592.6 L1533.5,593.5 L1534.1,594.3 L1534.7,595.1 L1535.3,595.9 L1535.8,596.6 L1536.4,597.3 L1537.0,597.9 L1537.6,598.4 L1538.2,598.9 L1538.7,599.4 L1539.3,599.8 L1539.9,600.1 L1540.5,600.4 L1541.0,600.7 L1541.6,600.8 L1542.2,601.0 L1542.8,601.1 L1543.3,601.1 L1543.9,601.2 L1544.5,601.1 L1545.1,601.1 L1545.7,601.0 L1546.2,600.9 L1546.8,600.9 L1547.4,600.7 L1548.0,600.6 L1548.5,600.5 L1549.1,600.4 L1549.7,600.3 L1550.3,600.3 L1550.8,600.2 L1551.4,600.2 L1552.0,600.2 L1552.6,600.2 L1553.2,600.3 L1553.7,600.4 L1554.3,600.6 L1554.9,600.8 L1555.5,601.0 L1556.0,601.3 L1556.6,601.7 L1557.2,602.1 L1557.8,602.6 L1558.3,603.1 L1558.9,603.7 L1559.5,604.4 L1560.1,605.1 L1560.7,605.8 L1561.2,606.6 L1561.8,607.5 L1562.4,608.4 L1563.0,609.4 L1563.5,610.4 L1564.1,611.4 L1564.7,612.5 L1565.3,613.6 L1565.8,614.8 L1566.4,615.9 L1567.0,617.1 L1567.6,618.3 L1568.2,619.4 L1568.7,620.6 L1569.3,621.8 L1569.9,622.9 L1570.5,624.0 L1571.0,625.1 L1571.6,626.1 L1572.2,627.1 L1572.8,628.0 L1573.3,628.9 L1573.9,629.7 L1574.5,630.4 L1575.1,631.1 L1575.7,631.7 L1576.2,632.2 L1576.8,632.6 L1577.4,633.0 L1578.0,633.2 L1578.5,633.4 L1579.1,633.5 L1579.7,633.6 L1580.3,633.6 L1580.8,633.5 L1581.4,633.4 L1582.0,633.3 L1582.6,633.1 L1583.2,632.9 L1583.7,632.7 L1584.3,632.5 L1584.9,632.3 L1585.5,632.0 L1586.0,631.8 L1586.6,631.7 L1587.2,631.5 L1587.8,631.4 L1588.3,631.4 L1588.9,631.4 L1589.5,631.5 L1590.1,631.6 L1590.7,631.8 L1591.2,632.1 L1591.8,632.5 L1592.4,632.9 L1593.0,633.4 L1593.5,634.0 L1594.1,634.6 L1594.7,635.4 L1595.3,636.2 L1595.8,637.1 L1596.4,638.1 L1597.0,639.1 L1597.6,640.2 L1598.2,641.4 L1598.7,642.6 L1599.3,643.8 L1599.9,645.1 L1600.5,646.4 L1601.0,647.6 L1601.6,648.9 L1602.2,650.2 L1602.8,651.5 L1603.3,652.7 L1603.9,653.9 L1604.5,655.0 L1605.1,656.0 L1605.7,657.0 L1606.2,657.9 L1606.8,658.7 L1607.4,659.4 L1608.0,660.0 L1608.5,660.5 L1609.1,660.8 L1609.7,661.1 L1610.3,661.3 L1610.8,661.3 L1611.4,661.3 L1612.0,661.2 L1612.6,661.0 L1613.2,660.8 L1613.7,660.5 L1614.3,660.2 L1614.9,659.9 L1615.5,659.5 L1616.0,659.2 L1616.6,658.9 L1617.2,658.6 L1617.8,658.4 L1618.3,658.2 L1618.9,658.1 L1619.5,658.0 L1620.1,658.1 L1620.7,658.2 L1621.2,658.4 L1621.8,658.7 L1622.4,659.2 L1623.0,659.7 L1623.5,660.3 L1624.1,661.1 L1624.7,661.9 L1625.3,662.9 L1625.8,663.9 L1626.4,665.1 L1627.0,666.3 L1627.6,667.5 L1628.2,668.9 L1628.7,670.2 L1629.3,671.6 L1629.9,673.1 L1630.5,674.5 L1631.0,675.9 L1631.6,677.2 L1632.2,678.5 L1632.8,679.7 L1633.3,680.9 L1633.9,681.9 L1634.5,682.8 L1635.1,683.6 L1635.7,684.2 L1636.2,684.8 L1636.8,685.1 L1637.4,685.4 L1638.0,685.5 L1638.5,685.5 L1639.1,685.3 L1639.7,685.1 L1640.3,684.8 L1640.8,684.4 L1641.4,684.0 L1642.0,683.5 L1642.6,683.1 L1643.2,682.6 L1643.7,682.2 L1644.3,681.9 L1644.9,681.6 L1645.5,681.4 L1646.0,681.2 L1646.6,681.2 L1647.2,681.3 L1647.8,681.6 L1648.3,682.0 L1648.9,682.5 L1649.5,683.1 L1650.1,683.9 L1650.7,684.8 L1651.2,685.8 L1651.8,687.0 L1652.4,688.2 L1653.0,689.6 L1653.5,691.0 L1654.1,692.5 L1654.7,694.0 L1655.3,695.5 L1655.8,697.1 L1656.4,698.6 L1657.0,700.0 L1657.6,701.3 L1658.2,702.6 L1658.7,703.7 L1659.3,704.6 L1659.9,705.4 L1660.5,706.0 L1661.0,706.5 L1661.6,706.8 L1662.2,706.9 L1662.8,706.8 L1663.3,706.6 L1663.9,706.3 L1664.5,705.8 L1665.1,705.3 L1665.7,704.8 L1666.2,704.2 L1666.8,703.7 L1667.4,703.1 L1668.0,702.7 L1668.5,702.3 L1669.1,702.0 L1669.7,701.8 L1670.3,701.8 L1670.8,702.0 L1671.4,702.3 L1672.0,702.7 L1672.6,703.4 L1673.2,704.2 L1673.7,705.1 L1674.3,706.3 L1674.9,707.5 L1675.5,708.9 L1676.0,710.4 L1676.6,712.0 L1677.2,713.6 L1677.8,715.3 L1678.3,716.9 L1678.9,718.5 L1679.5,720.0 L1680.1,721.4 L1680.7,722.6 L1681.2,723.7 L1681.8,724.6 L1682.4,725.3 L1683.0,725.8 L1683.5,726.0 L1684.1,726.0 L1684.7,725.9 L1685.3,725.5 L1685.8,725.1 L1686.4,724.5 L1687.0,723.8 L1687.6,723.2 L1688.2,722.5 L1688.7,721.8 L1689.3,721.3 L1689.9,720.8 L1690.5,720.5 L1691.0,720.3 L1691.6,720.3 L1692.2,720.6 L1692.8,721.0 L1693.3,721.6 L1693.9,722.4 L1694.5,723.5 L1695.1,724.7 L1695.7,726.1 L1696.2,727.6 L1696.8,729.2 L1697.4,730.9 L1698.0,732.7 L1698.5,734.5 L1699.1,736.2 L1699.7,737.8 L1700.3,739.3 L1700.9,740.5 L1701.4,741.6 L1702.0,742.5 L1702.6,743.0 L1703.2,743.4 L1703.7,743.4 L1704.3,743.2 L1704.9,742.8 L1705.5,742.3 L1706.0,741.6 L1706.6,740.8 L1707.2,740.0 L1707.8,739.2 L1708.4,738.5 L1708.9,737.9 L1709.5,737.4 L1710.1,737.2 L1710.7,737.1 L1711.2,737.3 L1711.8,737.7 L1712.4,738.4 L1713.0,739.3 L1713.5,740.4 L1714.1,741.8 L1714.7,743.4 L1715.3,745.1 L1715.9,746.9 L1716.4,748.8 L1717.0,750.6 L1717.6,752.5 L1718.2,754.2 L1718.7,755.7 L1719.3,757.0 L1719.9,758.0 L1720.5,758.8 L1721.0,759.2 L1721.6,759.3 L1722.2,759.1 L1722.8,758.7 L1723.4,758.1 L1723.9,757.3 L1724.5,756.4 L1725.1,755.4 L1725.7,754.6 L1726.2,753.8 L1726.8,753.1 L1727.4,752.7 L1728.0,752.5 L1728.5,752.6 L1729.1,752.9 L1729.7,753.6 L1730.3,754.5 L1730.9,755.7 L1731.4,757.2 L1732.0,758.9 L1732.6,760.7 L1733.2,762.7 L1733.7,764.7 L1734.3,766.7 L1734.9,768.5 L1735.5,770.2 L1736.0,771.6 L1736.6,772.7 L1737.2,773.5 L1737.8,773.9 L1738.4,773.9 L1738.9,773.6 L1739.5,773.0 L1740.1,772.2 L1740.7,771.3 L1741.2,770.2 L1741.8,769.2 L1742.4,768.3 L1743.0,767.5 L1743.5,767.0 L1744.1,766.7 L1744.7,766.8 L1745.3,767.1 L1745.9,767.9 L1746.4,768.9 L1747.0,770.3 L1747.6,772.0 L1748.2,773.9 L1748.7,775.9 L1749.3,778.0 L1749.9,780.1 L1750.5,782.1 L1751.0,783.9 L1751.6,785.3 L1752.2,786.5 L1752.8,787.2 L1753.4,787.5 L1753.9,787.4 L1754.5,786.9 L1755.1,786.1 L1755.7,785.1 L1756.2,784.0 L1756.8,782.8 L1757.4,781.8 L1758.0,780.9 L1758.5,780.2 L1759.1,779.9 L1759.7,779.9 L1760.3,780.4 L1760.9,781.2 L1761.4,782.4 L1762.0,783.9 L1762.6,785.8 L1763.2,787.9 L1763.7,790.1 L1764.3,792.3 L1764.9,794.4 L1765.5,796.3 L1766.0,798.0 L1766.6,799.2 L1767.2,799.9 L1767.8,800.1 L1768.4,799.9 L1768.9,799.3 L1769.5,798.3 L1770.1,797.1 L1770.7,795.9 L1771.2,794.7 L1771.8,793.6 L1772.4,792.7 L1773.0,792.3 L1773.5,792.2 L1774.1,792.5 L1774.7,793.3 L1774.7,1094.5" stroke="#0000dc" stroke-width="5.8"/>
</g>
<path d="M1257,57.8 H1391" stroke="#000" stroke-width="5"/>
<path d="M1257,127.7 H1391" stroke="#dc000c" stroke-width="5"/>
<path d="M1257,198.1 H1391" stroke="#0000dc" stroke-width="5"/>
<path d="M1309.0,269.2H1336.6M1322.8,255.4V283.0M1309.0,255.4L1336.6,283.0M1309.0,283.0L1336.6,255.4" stroke="#679a67" stroke-width="2.1" fill="none"/><circle cx="1322.8" cy="269.2" r="2.6" fill="#167016"/>
<g clip-path="url(#sclip)"><path d="M806.1,189.3H833.3M819.7,175.7V202.9M806.1,175.7L833.3,202.9M806.1,202.9L833.3,175.7M950.7,191.4H977.9M964.3,177.8V205.0M950.7,177.8L977.9,205.0M950.7,205.0L977.9,177.8M1035.4,204.4H1062.6M1049.0,190.8V218.0M1035.4,190.8L1062.6,218.0M1035.4,218.0L1062.6,190.8M1095.4,219.6H1122.6M1109.0,206.0V233.2M1095.4,206.0L1122.6,233.2M1095.4,233.2L1122.6,206.0M1142.0,239.1H1169.2M1155.6,225.5V252.7M1142.0,225.5L1169.2,252.7M1142.0,252.7L1169.2,225.5M1180.0,264.0H1207.2M1193.6,250.4V277.6M1180.0,250.4L1207.2,277.6M1180.0,277.6L1207.2,250.4M1212.2,290.5H1239.4M1225.8,276.9V304.1M1212.2,276.9L1239.4,304.1M1212.2,304.1L1239.4,276.9M1240.1,322.7H1267.3M1253.7,309.1V336.3M1240.1,309.1L1267.3,336.3M1240.1,336.3L1267.3,309.1M1264.7,356.1H1291.9M1278.3,342.5V369.7M1264.7,342.5L1291.9,369.7M1264.7,369.7L1291.9,342.5M1286.7,389.3H1313.9M1300.3,375.7V402.9M1286.7,375.7L1313.9,402.9M1286.7,402.9L1313.9,375.7M1306.6,422.7H1333.8M1320.2,409.1V436.3M1306.6,409.1L1333.8,436.3M1306.6,436.3L1333.8,409.1M1324.7,456.1H1351.9M1338.3,442.5V469.7M1324.7,442.5L1351.9,469.7M1324.7,469.7L1351.9,442.5M1341.4,486.1H1368.6M1355.0,472.5V499.7M1341.4,472.5L1368.6,499.7M1341.4,499.7L1368.6,472.5M1356.9,522.9H1384.1M1370.5,509.3V536.5M1356.9,509.3L1384.1,536.5M1356.9,536.5L1384.1,509.3M1371.3,557.5H1398.5M1384.9,543.9V571.1M1371.3,543.9L1398.5,571.1M1371.3,571.1L1398.5,543.9M1384.8,598.1H1412.0M1398.4,584.5V611.7M1384.8,584.5L1412.0,611.7M1384.8,611.7L1412.0,584.5M1397.4,641.5H1424.6M1411.0,627.9V655.1M1397.4,627.9L1424.6,655.1M1397.4,655.1L1424.6,627.9M1409.4,671.5H1436.6M1423.0,657.9V685.1M1409.4,657.9L1436.6,685.1M1409.4,685.1L1436.6,657.9M1420.6,678.9H1447.8M1434.2,665.3V692.5M1420.6,665.3L1447.8,692.5M1420.6,692.5L1447.8,665.3M1431.3,670.2H1458.5M1444.9,656.6V683.8M1431.3,656.6L1458.5,683.8M1431.3,683.8L1458.5,656.6M1441.5,658.8H1468.7M1455.1,645.2V672.4M1441.5,645.2L1468.7,672.4M1441.5,672.4L1468.7,645.2M1451.2,651.5H1478.4M1464.8,637.9V665.1M1451.2,637.9L1478.4,665.1M1451.2,665.1L1478.4,637.9M1460.5,652.1H1487.7M1474.1,638.5V665.7M1460.5,638.5L1487.7,665.7M1460.5,665.7L1487.7,638.5M1469.4,656.8H1496.6M1483.0,643.2V670.4M1469.4,643.2L1496.6,670.4M1469.4,670.4L1496.6,643.2M1477.9,664.8H1505.1M1491.5,651.2V678.4M1477.9,651.2L1505.1,678.4M1477.9,678.4L1505.1,651.2M1486.1,676.2H1513.3M1499.7,662.6V689.8M1486.1,662.6L1513.3,689.8M1486.1,689.8L1513.3,662.6M1494.0,687.5H1521.2M1507.6,673.9V701.1M1494.0,673.9L1521.2,701.1M1494.0,701.1L1521.2,673.9M1501.6,699.5H1528.8M1515.2,685.9V713.1M1501.6,685.9L1528.8,713.1M1501.6,713.1L1528.8,685.9M1508.9,711.5H1536.1M1522.5,697.9V725.1M1508.9,697.9L1536.1,725.1M1508.9,725.1L1536.1,697.9M1516.0,727.3H1543.2M1529.6,713.7V740.9M1516.0,713.7L1543.2,740.9M1516.0,740.9L1543.2,713.7M1522.8,745.1H1550.0M1536.4,731.5V758.7M1522.8,731.5L1550.0,758.7M1522.8,758.7L1550.0,731.5M1529.4,769.7H1556.6M1543.0,756.1V783.3M1529.4,756.1L1556.6,783.3M1529.4,783.3L1556.6,756.1M1535.9,798.6H1563.1M1549.5,785.0V812.2M1535.9,785.0L1563.1,812.2M1535.9,812.2L1563.1,785.0M1542.1,828.0H1569.3M1555.7,814.4V841.6M1542.1,814.4L1569.3,841.6M1542.1,841.6L1569.3,814.4M1548.1,854.4H1575.3M1561.7,840.8V868.0M1548.1,840.8L1575.3,868.0M1548.1,868.0L1575.3,840.8M1554.0,871.0H1581.2M1567.6,857.4V884.6M1554.0,857.4L1581.2,884.6M1554.0,884.6L1581.2,857.4M1559.7,873.0H1586.9M1573.3,859.4V886.6M1559.7,859.4L1586.9,886.6M1559.7,886.6L1586.9,859.4M1565.3,874.0H1592.5M1578.9,860.4V887.6M1565.3,860.4L1592.5,887.6M1565.3,887.6L1592.5,860.4M1570.7,876.0H1597.9M1584.3,862.4V889.6M1570.7,862.4L1597.9,889.6M1570.7,889.6L1597.9,862.4M1576.0,876.0H1603.2M1589.6,862.4V889.6M1576.0,862.4L1603.2,889.6M1576.0,889.6L1603.2,862.4M1581.2,876.0H1608.4M1594.8,862.4V889.6M1581.2,862.4L1608.4,889.6M1581.2,889.6L1608.4,862.4M1586.2,876.0H1613.4M1599.8,862.4V889.6M1586.2,862.4L1613.4,889.6M1586.2,889.6L1613.4,862.4M1591.1,877.0H1618.3M1604.7,863.4V890.6M1591.1,863.4L1618.3,890.6M1591.1,890.6L1618.3,863.4M1595.9,878.0H1623.1M1609.5,864.4V891.6M1595.9,864.4L1623.1,891.6M1595.9,891.6L1623.1,864.4M1600.6,880.0H1627.8M1614.2,866.4V893.6M1600.6,866.4L1627.8,893.6M1600.6,893.6L1627.8,866.4M1605.2,886.0H1632.4M1618.8,872.4V899.6M1605.2,872.4L1632.4,899.6M1605.2,899.6L1632.4,872.4M1609.7,904.1H1636.9M1623.3,890.5V917.7M1609.7,890.5L1636.9,917.7M1609.7,917.7L1636.9,890.5M1614.1,931.3H1641.3M1627.7,917.7V944.9M1614.1,917.7L1641.3,944.9M1614.1,944.9L1641.3,917.7M1618.4,974.2H1645.6M1632.0,960.6V987.8M1618.4,960.6L1645.6,987.8M1618.4,987.8L1645.6,960.6M1622.6,1032.7H1649.8M1636.2,1019.1V1046.3M1622.6,1019.1L1649.8,1046.3M1622.6,1046.3L1649.8,1019.1M1626.7,1113.9H1653.9M1640.3,1100.3V1127.5M1626.7,1100.3L1653.9,1127.5M1626.7,1127.5L1653.9,1100.3M1630.8,1235.0H1658.0M1644.4,1221.4V1248.6M1630.8,1221.4L1658.0,1248.6M1630.8,1248.6L1658.0,1221.4M1646.2,1234.0H1673.4M1659.8,1220.4V1247.6M1646.2,1220.4L1673.4,1247.6M1646.2,1247.6L1673.4,1220.4M1649.9,1151.2H1677.1M1663.5,1137.6V1164.8M1649.9,1137.6L1677.1,1164.8M1649.9,1164.8L1677.1,1137.6M1653.6,1079.4H1680.8M1667.2,1065.8V1093.0M1653.6,1065.8L1680.8,1093.0M1653.6,1093.0L1680.8,1065.8M1657.1,1030.4H1684.3M1670.7,1016.8V1044.0M1657.1,1016.8L1684.3,1044.0M1657.1,1044.0L1684.3,1016.8M1660.6,995.1H1687.8M1674.2,981.5V1008.7M1660.6,981.5L1687.8,1008.7M1660.6,1008.7L1687.8,981.5M1664.1,973.1H1691.3M1677.7,959.5V986.7M1664.1,959.5L1691.3,986.7M1664.1,986.7L1691.3,959.5M1667.5,967.0H1694.7M1681.1,953.4V980.6M1667.5,953.4L1694.7,980.6M1667.5,980.6L1694.7,953.4M1670.8,970.0H1698.0M1684.4,956.4V983.6M1670.8,956.4L1698.0,983.6M1670.8,983.6L1698.0,956.4M1674.1,982.7H1701.3M1687.7,969.1V996.3M1674.1,969.1L1701.3,996.3M1674.1,996.3L1701.3,969.1M1677.4,1008.4H1704.6M1691.0,994.8V1022.0M1677.4,994.8L1704.6,1022.0M1677.4,1022.0L1704.6,994.8M1680.5,1043.1H1707.7M1694.1,1029.5V1056.7M1680.5,1029.5L1707.7,1056.7M1680.5,1056.7L1707.7,1029.5M1683.7,1084.8H1710.9M1697.3,1071.2V1098.4M1683.7,1071.2L1710.9,1098.4M1683.7,1098.4L1710.9,1071.2M1686.8,1122.2H1714.0M1700.4,1108.6V1135.8M1686.8,1108.6L1714.0,1135.8M1686.8,1135.8L1714.0,1108.6M1689.8,1146.6H1717.0M1703.4,1133.0V1160.2M1689.8,1133.0L1717.0,1160.2M1689.8,1160.2L1717.0,1133.0M1692.8,1160.2H1720.0M1706.4,1146.6V1173.8M1692.8,1146.6L1720.0,1173.8M1692.8,1173.8L1720.0,1146.6M1695.8,1174.2H1723.0M1709.4,1160.6V1187.8M1695.8,1160.6L1723.0,1187.8M1695.8,1187.8L1723.0,1160.6M1698.7,1202.7H1725.9M1712.3,1189.1V1216.3M1698.7,1189.1L1725.9,1216.3M1698.7,1216.3L1725.9,1189.1M1712.7,1232.0H1739.9M1726.3,1218.4V1245.6M1712.7,1218.4L1739.9,1245.6M1712.7,1245.6L1739.9,1218.4M1720.7,1174.0H1747.9M1734.3,1160.4V1187.6M1720.7,1160.4L1747.9,1187.6M1720.7,1187.6L1747.9,1160.4M1723.3,1180.0H1750.5M1736.9,1166.4V1193.6M1723.3,1166.4L1750.5,1193.6M1723.3,1193.6L1750.5,1166.4M1725.8,1186.0H1753.0M1739.4,1172.4V1199.6M1725.8,1172.4L1753.0,1199.6M1725.8,1199.6L1753.0,1172.4M1728.4,1190.0H1755.6M1742.0,1176.4V1203.6M1728.4,1176.4L1755.6,1203.6M1728.4,1203.6L1755.6,1176.4M1730.9,1195.0H1758.1M1744.5,1181.4V1208.6M1730.9,1181.4L1758.1,1208.6M1730.9,1208.6L1758.1,1181.4M1733.3,1198.0H1760.5M1746.9,1184.4V1211.6M1733.3,1184.4L1760.5,1211.6M1733.3,1211.6L1760.5,1184.4M1735.8,1202.0H1763.0M1749.4,1188.4V1215.6M1735.8,1188.4L1763.0,1215.6M1735.8,1215.6L1763.0,1188.4M1749.9,1225.0H1777.1M1763.5,1211.4V1238.6M1749.9,1211.4L1777.1,1238.6M1749.9,1238.6L1777.1,1211.4M1752.1,1179.0H1779.3M1765.7,1165.4V1192.6M1752.1,1165.4L1779.3,1192.6M1752.1,1192.6L1779.3,1165.4M1754.4,1144.0H1781.6M1768.0,1130.4V1157.6M1754.4,1130.4L1781.6,1157.6M1754.4,1157.6L1781.6,1130.4M1756.6,1117.0H1783.8M1770.2,1103.4V1130.6M1756.6,1103.4L1783.8,1130.6M1756.6,1130.6L1783.8,1103.4M1758.7,1098.0H1785.9M1772.3,1084.4V1111.6M1758.7,1084.4L1785.9,1111.6M1758.7,1111.6L1785.9,1084.4" stroke="#679a67" stroke-width="2.1" fill="none"/><path d="M817.3,189.3a2.4,2.4 0 1,0 4.8,0a2.4,2.4 0 1,0 -4.8,0M961.9,191.4a2.4,2.4 0 1,0 4.8,0a2.4,2.4 0 1,0 -4.8,0M1046.6,204.4a2.4,2.4 0 1,0 4.8,0a2.4,2.4 0 1,0 -4.8,0M1106.6,219.6a2.4,2.4 0 1,0 4.8,0a2.4,2.4 0 1,0 -4.8,0M1153.2,239.1a2.4,2.4 0 1,0 4.8,0a2.4,2.4 0 1,0 -4.8,0M1191.2,264.0a2.4,2.4 0 1,0 4.8,0a2.4,2.4 0 1,0 -4.8,0M1223.4,290.5a2.4,2.4 0 1,0 4.8,0a2.4,2.4 0 1,0 -4.8,0M1251.3,322.7a2.4,2.4 0 1,0 4.8,0a2.4,2.4 0 1,0 -4.8,0M1275.9,356.1a2.4,2.4 0 1,0 4.8,0a2.4,2.4 0 1,0 -4.8,0M1297.9,389.3a2.4,2.4 0 1,0 4.8,0a2.4,2.4 0 1,0 -4.8,0M1317.8,422.7a2.4,2.4 0 1,0 4.8,0a2.4,2.4 0 1,0 -4.8,0M1335.9,456.1a2.4,2.4 0 1,0 4.8,0a2.4,2.4 0 1,0 -4.8,0M1352.6,486.1a2.4,2.4 0 1,0 4.8,0a2.4,2.4 0 1,0 -4.8,0M1368.1,522.9a2.4,2.4 0 1,0 4.8,0a2.4,2.4 0 1,0 -4.8,0M1382.5,557.5a2.4,2.4 0 1,0 4.8,0a2.4,2.4 0 1,0 -4.8,0M1396.0,598.1a2.4,2.4 0 1,0 4.8,0a2.4,2.4 0 1,0 -4.8,0M1408.6,641.5a2.4,2.4 0 1,0 4.8,0a2.4,2.4 0 1,0 -4.8,0M1420.6,671.5a2.4,2.4 0 1,0 4.8,0a2.4,2.4 0 1,0 -4.8,0M1431.8,678.9a2.4,2.4 0 1,0 4.8,0a2.4,2.4 0 1,0 -4.8,0M1442.5,670.2a2.4,2.4 0 1,0 4.8,0a2.4,2.4 0 1,0 -4.8,0M1452.7,658.8a2.4,2.4 0 1,0 4.8,0a2.4,2.4 0 1,0 -4.8,0M1462.4,651.5a2.4,2.4 0 1,0 4.8,0a2.4,2.4 0 1,0 -4.8,0M1471.7,652.1a2.4,2.4 0 1,0 4.8,0a2.4,2.4 0 1,0 -4.8,0M1480.6,656.8a2.4,2.4 0 1,0 4.8,0a2.4,2.4 0 1,0 -4.8,0M1489.1,664.8a2.4,2.4 0 1,0 4.8,0a2.4,2.4 0 1,0 -4.8,0M1497.3,676.2a2.4,2.4 0 1,0 4.8,0a2.4,2.4 0 1,0 -4.8,0M1505.2,687.5a2.4,2.4 0 1,0 4.8,0a2.4,2.4 0 1,0 -4.8,0M1512.8,699.5a2.4,2.4 0 1,0 4.8,0a2.4,2.4 0 1,0 -4.8,0M1520.1,711.5a2.4,2.4 0 1,0 4.8,0a2.4,2.4 0 1,0 -4.8,0M1527.2,727.3a2.4,2.4 0 1,0 4.8,0a2.4,2.4 0 1,0 -4.8,0M1534.0,745.1a2.4,2.4 0 1,0 4.8,0a2.4,2.4 0 1,0 -4.8,0M1540.6,769.7a2.4,2.4 0 1,0 4.8,0a2.4,2.4 0 1,0 -4.8,0M1547.1,798.6a2.4,2.4 0 1,0 4.8,0a2.4,2.4 0 1,0 -4.8,0M1553.3,828.0a2.4,2.4 0 1,0 4.8,0a2.4,2.4 0 1,0 -4.8,0M1559.3,854.4a2.4,2.4 0 1,0 4.8,0a2.4,2.4 0 1,0 -4.8,0M1565.2,871.0a2.4,2.4 0 1,0 4.8,0a2.4,2.4 0 1,0 -4.8,0M1570.9,873.0a2.4,2.4 0 1,0 4.8,0a2.4,2.4 0 1,0 -4.8,0M1576.5,874.0a2.4,2.4 0 1,0 4.8,0a2.4,2.4 0 1,0 -4.8,0M1581.9,876.0a2.4,2.4 0 1,0 4.8,0a2.4,2.4 0 1,0 -4.8,0M1587.2,876.0a2.4,2.4 0 1,0 4.8,0a2.4,2.4 0 1,0 -4.8,0M1592.4,876.0a2.4,2.4 0 1,0 4.8,0a2.4,2.4 0 1,0 -4.8,0M1597.4,876.0a2.4,2.4 0 1,0 4.8,0a2.4,2.4 0 1,0 -4.8,0M1602.3,877.0a2.4,2.4 0 1,0 4.8,0a2.4,2.4 0 1,0 -4.8,0M1607.1,878.0a2.4,2.4 0 1,0 4.8,0a2.4,2.4 0 1,0 -4.8,0M1611.8,880.0a2.4,2.4 0 1,0 4.8,0a2.4,2.4 0 1,0 -4.8,0M1616.4,886.0a2.4,2.4 0 1,0 4.8,0a2.4,2.4 0 1,0 -4.8,0M1620.9,904.1a2.4,2.4 0 1,0 4.8,0a2.4,2.4 0 1,0 -4.8,0M1625.3,931.3a2.4,2.4 0 1,0 4.8,0a2.4,2.4 0 1,0 -4.8,0M1629.6,974.2a2.4,2.4 0 1,0 4.8,0a2.4,2.4 0 1,0 -4.8,0M1633.8,1032.7a2.4,2.4 0 1,0 4.8,0a2.4,2.4 0 1,0 -4.8,0M1637.9,1113.9a2.4,2.4 0 1,0 4.8,0a2.4,2.4 0 1,0 -4.8,0M1642.0,1235.0a2.4,2.4 0 1,0 4.8,0a2.4,2.4 0 1,0 -4.8,0M1657.4,1234.0a2.4,2.4 0 1,0 4.8,0a2.4,2.4 0 1,0 -4.8,0M1661.1,1151.2a2.4,2.4 0 1,0 4.8,0a2.4,2.4 0 1,0 -4.8,0M1664.8,1079.4a2.4,2.4 0 1,0 4.8,0a2.4,2.4 0 1,0 -4.8,0M1668.3,1030.4a2.4,2.4 0 1,0 4.8,0a2.4,2.4 0 1,0 -4.8,0M1671.8,995.1a2.4,2.4 0 1,0 4.8,0a2.4,2.4 0 1,0 -4.8,0M1675.3,973.1a2.4,2.4 0 1,0 4.8,0a2.4,2.4 0 1,0 -4.8,0M1678.7,967.0a2.4,2.4 0 1,0 4.8,0a2.4,2.4 0 1,0 -4.8,0M1682.0,970.0a2.4,2.4 0 1,0 4.8,0a2.4,2.4 0 1,0 -4.8,0M1685.3,982.7a2.4,2.4 0 1,0 4.8,0a2.4,2.4 0 1,0 -4.8,0M1688.6,1008.4a2.4,2.4 0 1,0 4.8,0a2.4,2.4 0 1,0 -4.8,0M1691.7,1043.1a2.4,2.4 0 1,0 4.8,0a2.4,2.4 0 1,0 -4.8,0M1694.9,1084.8a2.4,2.4 0 1,0 4.8,0a2.4,2.4 0 1,0 -4.8,0M1698.0,1122.2a2.4,2.4 0 1,0 4.8,0a2.4,2.4 0 1,0 -4.8,0M1701.0,1146.6a2.4,2.4 0 1,0 4.8,0a2.4,2.4 0 1,0 -4.8,0M1704.0,1160.2a2.4,2.4 0 1,0 4.8,0a2.4,2.4 0 1,0 -4.8,0M1707.0,1174.2a2.4,2.4 0 1,0 4.8,0a2.4,2.4 0 1,0 -4.8,0M1709.9,1202.7a2.4,2.4 0 1,0 4.8,0a2.4,2.4 0 1,0 -4.8,0M1723.9,1232.0a2.4,2.4 0 1,0 4.8,0a2.4,2.4 0 1,0 -4.8,0M1731.9,1174.0a2.4,2.4 0 1,0 4.8,0a2.4,2.4 0 1,0 -4.8,0M1734.5,1180.0a2.4,2.4 0 1,0 4.8,0a2.4,2.4 0 1,0 -4.8,0M1737.0,1186.0a2.4,2.4 0 1,0 4.8,0a2.4,2.4 0 1,0 -4.8,0M1739.6,1190.0a2.4,2.4 0 1,0 4.8,0a2.4,2.4 0 1,0 -4.8,0M1742.1,1195.0a2.4,2.4 0 1,0 4.8,0a2.4,2.4 0 1,0 -4.8,0M1744.5,1198.0a2.4,2.4 0 1,0 4.8,0a2.4,2.4 0 1,0 -4.8,0M1747.0,1202.0a2.4,2.4 0 1,0 4.8,0a2.4,2.4 0 1,0 -4.8,0M1761.1,1225.0a2.4,2.4 0 1,0 4.8,0a2.4,2.4 0 1,0 -4.8,0M1763.3,1179.0a2.4,2.4 0 1,0 4.8,0a2.4,2.4 0 1,0 -4.8,0M1765.6,1144.0a2.4,2.4 0 1,0 4.8,0a2.4,2.4 0 1,0 -4.8,0M1767.8,1117.0a2.4,2.4 0 1,0 4.8,0a2.4,2.4 0 1,0 -4.8,0M1769.9,1098.0a2.4,2.4 0 1,0 4.8,0a2.4,2.4 0 1,0 -4.8,0" fill="#167016"/></g>
<path d="M309.9,1242.5 H1776.7 M332.9,181.7 V1242.5 M309.9,183.7 H332.9 M318.9,331.7 H332.9 M318.9,294.4 H332.9 M318.9,268.0 H332.9 M318.9,247.4 H332.9 M318.9,230.7 H332.9 M318.9,216.5 H332.9 M318.9,204.2 H332.9 M318.9,193.4 H332.9 M309.9,395.5 H332.9 M318.9,543.5 H332.9 M318.9,506.2 H332.9 M318.9,479.7 H332.9 M318.9,459.2 H332.9 M318.9,442.4 H332.9 M318.9,428.3 H332.9 M318.9,416.0 H332.9 M318.9,405.1 H332.9 M309.9,607.2 H332.9 M318.9,755.2 H332.9 M318.9,717.9 H332.9 M318.9,691.5 H332.9 M318.9,671.0 H332.9 M318.9,654.2 H332.9 M318.9,640.0 H332.9 M318.9,627.7 H332.9 M318.9,616.9 H332.9 M309.9,819.0 H332.9 M318.9,967.0 H332.9 M318.9,929.7 H332.9 M318.9,903.2 H332.9 M318.9,882.7 H332.9 M318.9,866.0 H332.9 M318.9,851.8 H332.9 M318.9,839.5 H332.9 M318.9,828.7 H332.9 M309.9,1030.7 H332.9 M318.9,1178.8 H332.9 M318.9,1141.5 H332.9 M318.9,1115.0 H332.9 M318.9,1094.5 H332.9 M318.9,1077.7 H332.9 M318.9,1063.5 H332.9 M318.9,1051.3 H332.9 M318.9,1040.4 H332.9 M309.9,1242.5 H332.9 M332.9,1242.5 V1264.5 M477.6,1242.5 V1254.5 M562.2,1242.5 V1254.5 M622.3,1242.5 V1254.5 M668.8,1242.5 V1254.5 M706.9,1242.5 V1254.5 M739.1,1242.5 V1254.5 M766.9,1242.5 V1254.5 M791.5,1242.5 V1254.5 M813.5,1242.5 V1264.5 M958.2,1242.5 V1254.5 M1042.8,1242.5 V1254.5 M1102.9,1242.5 V1254.5 M1149.4,1242.5 V1254.5 M1187.5,1242.5 V1254.5 M1219.7,1242.5 V1254.5 M1247.5,1242.5 V1254.5 M1272.1,1242.5 V1254.5 M1294.1,1242.5 V1264.5 M1438.8,1242.5 V1254.5 M1523.4,1242.5 V1254.5 M1583.5,1242.5 V1254.5 M1630.0,1242.5 V1254.5 M1668.1,1242.5 V1254.5 M1700.3,1242.5 V1254.5 M1728.1,1242.5 V1254.5 M1752.7,1242.5 V1254.5 M1774.7,1242.5 V1264.5" stroke="#000" stroke-width="4" fill="none"/>
<path d="M516.7,548.4 V1078.7 M506.7,1078.7 H1174.9 M506.7,1078.7 H516.7 M510.7,1026.2 H516.7 M506.7,973.6 H516.7 M510.7,921.1 H516.7 M506.7,868.6 H516.7 M510.7,816.1 H516.7 M506.7,763.5 H516.7 M510.7,711.0 H516.7 M506.7,658.5 H516.7 M510.7,605.9 H516.7 M506.7,553.4 H516.7 M516.7,1078.7 V1088.7 M599.0,1078.7 V1084.7 M681.2,1078.7 V1088.7 M763.5,1078.7 V1084.7 M845.8,1078.7 V1088.7 M928.1,1078.7 V1084.7 M1010.3,1078.7 V1088.7 M1092.6,1078.7 V1084.7 M1174.9,1078.7 V1088.7" stroke="#3a3a3a" stroke-width="2.2" fill="none"/>
<defs><clipPath id="iclip"><rect x="505" y="540" width="680" height="538.7"/></clipPath></defs>
<g clip-path="url(#iclip)"><path d="M621.4,1010.4H635.4M628.4,1003.4V1017.4M621.4,1003.4L635.4,1017.4M621.4,1017.4L635.4,1003.4M627.6,993.3H641.6M634.6,986.3V1000.3M627.6,986.3L641.6,1000.3M627.6,1000.3L641.6,986.3M633.8,975.6H647.8M640.8,968.6V982.6M633.8,968.6L647.8,982.6M633.8,982.6L647.8,968.6M640.0,957.0H654.0M647.0,950.0V964.0M640.0,950.0L654.0,964.0M640.0,964.0L654.0,950.0M646.2,938.8H660.2M653.2,931.8V945.8M646.2,931.8L660.2,945.8M646.2,945.8L660.2,931.8M652.4,911.0H666.4M659.4,904.0V918.0M652.4,904.0L666.4,918.0M652.4,918.0L666.4,904.0M658.5,891.4H672.5M665.5,884.4V898.4M658.5,884.4L672.5,898.4M658.5,898.4L672.5,884.4M664.7,872.1H678.7M671.7,865.1V879.1M664.7,865.1L678.7,879.1M664.7,879.1L678.7,865.1M670.9,854.4H684.9M677.9,847.4V861.4M670.9,847.4L684.9,861.4M670.9,861.4L684.9,847.4M677.1,829.4H691.1M684.1,822.4V836.4M677.1,822.4L691.1,836.4M677.1,836.4L691.1,822.4M683.3,808.0H697.3M690.3,801.0V815.0M683.3,801.0L697.3,815.0M683.3,815.0L697.3,801.0M689.5,784.6H703.5M696.5,777.6V791.6M689.5,777.6L703.5,791.6M689.5,791.6L703.5,777.6M695.7,770.9H709.7M702.7,763.9V777.9M695.7,763.9L709.7,777.9M695.7,777.9L709.7,763.9M701.9,764.0H715.9M708.9,757.0V771.0M701.9,757.0L715.9,771.0M701.9,771.0L715.9,757.0M708.1,746.6H722.1M715.1,739.6V753.6M708.1,739.6L722.1,753.6M708.1,753.6L722.1,739.6M714.2,729.2H728.2M721.2,722.2V736.2M714.2,722.2L728.2,736.2M714.2,736.2L728.2,722.2M720.4,716.2H734.4M727.4,709.2V723.2M720.4,709.2L734.4,723.2M720.4,723.2L734.4,709.2M726.6,699.7H740.6M733.6,692.7V706.7M726.6,692.7L740.6,706.7M726.6,706.7L740.6,692.7M732.8,689.3H746.8M739.8,682.3V696.3M732.8,682.3L746.8,696.3M732.8,696.3L746.8,682.3M739.0,680.6H753.0M746.0,673.6V687.6M739.0,673.6L753.0,687.6M739.0,687.6L753.0,673.6M745.2,663.3H759.2M752.2,656.3V670.3M745.2,656.3L759.2,670.3M745.2,670.3L759.2,656.3M751.4,647.6H765.4M758.4,640.6V654.6M751.4,640.6L765.4,654.6M751.4,654.6L765.4,640.6M757.6,620.7H771.6M764.6,613.7V627.7M757.6,613.7L771.6,627.7M757.6,627.7L771.6,613.7M763.8,606.0H777.8M770.8,599.0V613.0M763.8,599.0L777.8,613.0M763.8,613.0L777.8,599.0M770.0,577.3H784.0M777.0,570.3V584.3M770.0,570.3L784.0,584.3M770.0,584.3L784.0,570.3M776.1,566.9H790.1M783.1,559.9V573.9M776.1,559.9L790.1,573.9M776.1,573.9L790.1,559.9M782.3,553.0H796.3M789.3,546.0V560.0M782.3,546.0L796.3,560.0M782.3,560.0L796.3,546.0M788.5,574.7H802.5M795.5,567.7V581.7M788.5,567.7L802.5,581.7M788.5,581.7L802.5,567.7M794.7,608.6H808.7M801.7,601.6V615.6M794.7,601.6L808.7,615.6M794.7,615.6L808.7,601.6M800.9,648.5H814.9M807.9,641.5V655.5M800.9,641.5L814.9,655.5M800.9,655.5L814.9,641.5M807.1,687.6H821.1M814.1,680.6V694.6M807.1,680.6L821.1,694.6M807.1,694.6L821.1,680.6M813.3,728.4H827.3M820.3,721.4V735.4M813.3,721.4L827.3,735.4M813.3,735.4L827.3,721.4M819.5,771.5H833.5M826.5,764.5V778.5M819.5,764.5L833.5,778.5M819.5,778.5L833.5,764.5M825.7,800.0H839.7M832.7,793.0V807.0M825.7,793.0L839.7,807.0M825.7,807.0L839.7,793.0M831.9,832.0H845.9M838.9,825.0V839.0M831.9,825.0L845.9,839.0M831.9,839.0L845.9,825.0M838.0,857.2H852.0M845.0,850.2V864.2M838.0,850.2L852.0,864.2M838.0,864.2L852.0,850.2M844.2,876.8H858.2M851.2,869.8V883.8M844.2,869.8L858.2,883.8M844.2,883.8L858.2,869.8M850.4,895.6H864.4M857.4,888.6V902.6M850.4,888.6L864.4,902.6M850.4,902.6L864.4,888.6M856.6,914.2H870.6M863.6,907.2V921.2M856.6,907.2L870.6,921.2M856.6,921.2L870.6,907.2M862.8,920.6H876.8M869.8,913.6V927.6M862.8,913.6L876.8,927.6M862.8,927.6L876.8,913.6M869.0,929.2H883.0M876.0,922.2V936.2M869.0,922.2L883.0,936.2M869.0,936.2L883.0,922.2M875.2,939.9H889.2M882.2,932.9V946.9M875.2,932.9L889.2,946.9M875.2,946.9L889.2,932.9M881.4,947.4H895.4M888.4,940.4V954.4M881.4,940.4L895.4,954.4M881.4,954.4L895.4,940.4M887.6,951.6H901.6M894.6,944.6V958.6M887.6,944.6L901.6,958.6M887.6,958.6L901.6,944.6M893.8,957.0H907.8M900.8,950.0V964.0M893.8,950.0L907.8,964.0M893.8,964.0L907.8,950.0M900.0,966.6H914.0M907.0,959.6V973.6M900.0,959.6L914.0,973.6M900.0,973.6L914.0,959.6M906.1,974.6H920.1M913.1,967.6V981.6M906.1,967.6L920.1,981.6M906.1,981.6L920.1,967.6M912.3,984.5H926.3M919.3,977.5V991.5M912.3,977.5L926.3,991.5M912.3,991.5L926.3,977.5M918.5,985.6H932.5M925.5,978.6V992.6M918.5,978.6L932.5,992.6M918.5,992.6L932.5,978.6M924.7,987.7H938.7M931.7,980.7V994.7M924.7,980.7L938.7,994.7M924.7,994.7L938.7,980.7M930.9,994.1H944.9M937.9,987.1V1001.1M930.9,987.1L944.9,1001.1M930.9,1001.1L944.9,987.1M937.1,999.4H951.1M944.1,992.4V1006.4M937.1,992.4L951.1,1006.4M937.1,1006.4L951.1,992.4M943.3,1004.8H957.3M950.3,997.8V1011.8M943.3,997.8L957.3,1011.8M943.3,1011.8L957.3,997.8M949.5,1006.0H963.5M956.5,999.0V1013.0M949.5,999.0L963.5,1013.0M949.5,1013.0L963.5,999.0M955.7,1016.5H969.7M962.7,1009.5V1023.5M955.7,1009.5L969.7,1023.5M955.7,1023.5L969.7,1009.5M961.9,1018.7H975.9M968.9,1011.7V1025.7M961.9,1011.7L975.9,1025.7M961.9,1025.7L975.9,1011.7M968.0,1029.4H982.0M975.0,1022.4V1036.4M968.0,1022.4L982.0,1036.4M968.0,1036.4L982.0,1022.4M974.2,1029.9H988.2M981.2,1022.9V1036.9M974.2,1022.9L988.2,1036.9M974.2,1036.9L988.2,1022.9M980.4,1030.4H994.4M987.4,1023.4V1037.4M980.4,1023.4L994.4,1037.4M980.4,1037.4L994.4,1023.4M986.6,1042.2H1000.6M993.6,1035.2V1049.2M986.6,1035.2L1000.6,1049.2M986.6,1049.2L1000.6,1035.2M992.8,1047.5H1006.8M999.8,1040.5V1054.5M992.8,1040.5L1006.8,1054.5M992.8,1054.5L1006.8,1040.5M999.0,1053.9H1013.0M1006.0,1046.9V1060.9M999.0,1046.9L1013.0,1060.9M999.0,1060.9L1013.0,1046.9M1005.2,1067.8H1019.2M1012.2,1060.8V1074.8M1005.2,1060.8L1019.2,1074.8M1005.2,1074.8L1019.2,1060.8M1011.4,1071.0H1025.4M1018.4,1064.0V1078.0M1011.4,1064.0L1025.4,1078.0M1011.4,1078.0L1025.4,1064.0M615.2,1077.3H629.2M622.2,1070.3V1084.3M615.2,1070.3L629.2,1084.3M615.2,1084.3L629.2,1070.3M609.0,1077.3H623.0M616.0,1070.3V1084.3M609.0,1070.3L623.0,1084.3M609.0,1084.3L623.0,1070.3M602.8,1077.3H616.8M609.8,1070.3V1084.3M602.8,1070.3L616.8,1084.3M602.8,1084.3L616.8,1070.3M596.6,1077.3H610.6M603.6,1070.3V1084.3M596.6,1070.3L610.6,1084.3M596.6,1084.3L610.6,1070.3M590.4,1077.3H604.4M597.4,1070.3V1084.3M590.4,1070.3L604.4,1084.3M590.4,1084.3L604.4,1070.3M584.3,1077.3H598.3M591.3,1070.3V1084.3M584.3,1070.3L598.3,1084.3M584.3,1084.3L598.3,1070.3M578.1,1077.3H592.1M585.1,1070.3V1084.3M578.1,1070.3L592.1,1084.3M578.1,1084.3L592.1,1070.3M571.9,1077.3H585.9M578.9,1070.3V1084.3M571.9,1070.3L585.9,1084.3M571.9,1084.3L585.9,1070.3M565.7,1077.3H579.7M572.7,1070.3V1084.3M565.7,1070.3L579.7,1084.3M565.7,1084.3L579.7,1070.3M559.5,1077.3H573.5M566.5,1070.3V1084.3M559.5,1070.3L573.5,1084.3M559.5,1084.3L573.5,1070.3M553.3,1077.3H567.3M560.3,1070.3V1084.3M553.3,1070.3L567.3,1084.3M553.3,1084.3L567.3,1070.3M547.1,1077.3H561.1M554.1,1070.3V1084.3M547.1,1070.3L561.1,1084.3M547.1,1084.3L561.1,1070.3M540.9,1077.3H554.9M547.9,1070.3V1084.3M540.9,1070.3L554.9,1084.3M540.9,1084.3L554.9,1070.3M534.7,1077.3H548.7M541.7,1070.3V1084.3M534.7,1070.3L548.7,1084.3M534.7,1084.3L548.7,1070.3M528.5,1077.3H542.5M535.5,1070.3V1084.3M528.5,1070.3L542.5,1084.3M528.5,1084.3L542.5,1070.3M522.4,1077.3H536.4M529.4,1070.3V1084.3M522.4,1070.3L536.4,1084.3M522.4,1084.3L536.4,1070.3M516.2,1077.3H530.2M523.2,1070.3V1084.3M516.2,1070.3L530.2,1084.3M516.2,1084.3L530.2,1070.3M510.0,1077.3H524.0M517.0,1070.3V1084.3M510.0,1070.3L524.0,1084.3M510.0,1084.3L524.0,1070.3M1017.6,1077.3H1031.6M1024.6,1070.3V1084.3M1017.6,1070.3L1031.6,1084.3M1017.6,1084.3L1031.6,1070.3M1023.8,1077.3H1037.8M1030.8,1070.3V1084.3M1023.8,1070.3L1037.8,1084.3M1023.8,1084.3L1037.8,1070.3M1029.9,1077.3H1043.9M1036.9,1070.3V1084.3M1029.9,1070.3L1043.9,1084.3M1029.9,1084.3L1043.9,1070.3M1036.1,1077.3H1050.1M1043.1,1070.3V1084.3M1036.1,1070.3L1050.1,1084.3M1036.1,1084.3L1050.1,1070.3M1042.3,1077.3H1056.3M1049.3,1070.3V1084.3M1042.3,1070.3L1056.3,1084.3M1042.3,1084.3L1056.3,1070.3M1048.5,1077.3H1062.5M1055.5,1070.3V1084.3M1048.5,1070.3L1062.5,1084.3M1048.5,1084.3L1062.5,1070.3M1054.7,1077.3H1068.7M1061.7,1070.3V1084.3M1054.7,1070.3L1068.7,1084.3M1054.7,1084.3L1068.7,1070.3M1060.9,1077.3H1074.9M1067.9,1070.3V1084.3M1060.9,1070.3L1074.9,1084.3M1060.9,1084.3L1074.9,1070.3M1067.1,1077.3H1081.1M1074.1,1070.3V1084.3M1067.1,1070.3L1081.1,1084.3M1067.1,1084.3L1081.1,1070.3M1073.3,1077.3H1087.3M1080.3,1070.3V1084.3M1073.3,1070.3L1087.3,1084.3M1073.3,1084.3L1087.3,1070.3M1079.5,1077.3H1093.5M1086.5,1070.3V1084.3M1079.5,1070.3L1093.5,1084.3M1079.5,1084.3L1093.5,1070.3M1085.7,1077.3H1099.7M1092.7,1070.3V1084.3M1085.7,1070.3L1099.7,1084.3M1085.7,1084.3L1099.7,1070.3M1091.8,1077.3H1105.8M1098.8,1070.3V1084.3M1091.8,1070.3L1105.8,1084.3M1091.8,1084.3L1105.8,1070.3M1098.0,1077.3H1112.0M1105.0,1070.3V1084.3M1098.0,1070.3L1112.0,1084.3M1098.0,1084.3L1112.0,1070.3M1104.2,1077.3H1118.2M1111.2,1070.3V1084.3M1104.2,1070.3L1118.2,1084.3M1104.2,1084.3L1118.2,1070.3M1110.4,1077.3H1124.4M1117.4,1070.3V1084.3M1110.4,1070.3L1124.4,1084.3M1110.4,1084.3L1124.4,1070.3M1116.6,1077.3H1130.6M1123.6,1070.3V1084.3M1116.6,1070.3L1130.6,1084.3M1116.6,1084.3L1130.6,1070.3M1122.8,1077.3H1136.8M1129.8,1070.3V1084.3M1122.8,1070.3L1136.8,1084.3M1122.8,1084.3L1136.8,1070.3M1129.0,1077.3H1143.0M1136.0,1070.3V1084.3M1129.0,1070.3L1143.0,1084.3M1129.0,1084.3L1143.0,1070.3M1135.2,1077.3H1149.2M1142.2,1070.3V1084.3M1135.2,1070.3L1149.2,1084.3M1135.2,1084.3L1149.2,1070.3M1141.4,1077.3H1155.4M1148.4,1070.3V1084.3M1141.4,1070.3L1155.4,1084.3M1141.4,1084.3L1155.4,1070.3M1147.5,1077.3H1161.5M1154.5,1070.3V1084.3M1147.5,1070.3L1161.5,1084.3M1147.5,1084.3L1161.5,1070.3M1153.7,1077.3H1167.7M1160.7,1070.3V1084.3M1153.7,1070.3L1167.7,1084.3M1153.7,1084.3L1167.7,1070.3M1159.9,1077.3H1173.9M1166.9,1070.3V1084.3M1159.9,1070.3L1173.9,1084.3M1159.9,1084.3L1173.9,1070.3M1166.1,1077.3H1180.1M1173.1,1070.3V1084.3M1166.1,1070.3L1180.1,1084.3M1166.1,1084.3L1180.1,1070.3M1172.3,1077.3H1186.3M1179.3,1070.3V1084.3M1172.3,1070.3L1186.3,1084.3M1172.3,1084.3L1186.3,1070.3" stroke="#679a67" stroke-width="1.5" fill="none"/><path d="M626.9,1010.4a1.5,1.5 0 1,0 3,0a1.5,1.5 0 1,0 -3,0M633.1,993.3a1.5,1.5 0 1,0 3,0a1.5,1.5 0 1,0 -3,0M639.3,975.6a1.5,1.5 0 1,0 3,0a1.5,1.5 0 1,0 -3,0M645.5,957.0a1.5,1.5 0 1,0 3,0a1.5,1.5 0 1,0 -3,0M651.7,938.8a1.5,1.5 0 1,0 3,0a1.5,1.5 0 1,0 -3,0M657.9,911.0a1.5,1.5 0 1,0 3,0a1.5,1.5 0 1,0 -3,0M664.0,891.4a1.5,1.5 0 1,0 3,0a1.5,1.5 0 1,0 -3,0M670.2,872.1a1.5,1.5 0 1,0 3,0a1.5,1.5 0 1,0 -3,0M676.4,854.4a1.5,1.5 0 1,0 3,0a1.5,1.5 0 1,0 -3,0M682.6,829.4a1.5,1.5 0 1,0 3,0a1.5,1.5 0 1,0 -3,0M688.8,808.0a1.5,1.5 0 1,0 3,0a1.5,1.5 0 1,0 -3,0M695.0,784.6a1.5,1.5 0 1,0 3,0a1.5,1.5 0 1,0 -3,0M701.2,770.9a1.5,1.5 0 1,0 3,0a1.5,1.5 0 1,0 -3,0M707.4,764.0a1.5,1.5 0 1,0 3,0a1.5,1.5 0 1,0 -3,0M713.6,746.6a1.5,1.5 0 1,0 3,0a1.5,1.5 0 1,0 -3,0M719.8,729.2a1.5,1.5 0 1,0 3,0a1.5,1.5 0 1,0 -3,0M725.9,716.2a1.5,1.5 0 1,0 3,0a1.5,1.5 0 1,0 -3,0M732.1,699.7a1.5,1.5 0 1,0 3,0a1.5,1.5 0 1,0 -3,0M738.3,689.3a1.5,1.5 0 1,0 3,0a1.5,1.5 0 1,0 -3,0M744.5,680.6a1.5,1.5 0 1,0 3,0a1.5,1.5 0 1,0 -3,0M750.7,663.3a1.5,1.5 0 1,0 3,0a1.5,1.5 0 1,0 -3,0M756.9,647.6a1.5,1.5 0 1,0 3,0a1.5,1.5 0 1,0 -3,0M763.1,620.7a1.5,1.5 0 1,0 3,0a1.5,1.5 0 1,0 -3,0M769.3,606.0a1.5,1.5 0 1,0 3,0a1.5,1.5 0 1,0 -3,0M775.5,577.3a1.5,1.5 0 1,0 3,0a1.5,1.5 0 1,0 -3,0M781.6,566.9a1.5,1.5 0 1,0 3,0a1.5,1.5 0 1,0 -3,0M787.8,553.0a1.5,1.5 0 1,0 3,0a1.5,1.5 0 1,0 -3,0M794.0,574.7a1.5,1.5 0 1,0 3,0a1.5,1.5 0 1,0 -3,0M800.2,608.6a1.5,1.5 0 1,0 3,0a1.5,1.5 0 1,0 -3,0M806.4,648.5a1.5,1.5 0 1,0 3,0a1.5,1.5 0 1,0 -3,0M812.6,687.6a1.5,1.5 0 1,0 3,0a1.5,1.5 0 1,0 -3,0M818.8,728.4a1.5,1.5 0 1,0 3,0a1.5,1.5 0 1,0 -3,0M825.0,771.5a1.5,1.5 0 1,0 3,0a1.5,1.5 0 1,0 -3,0M831.2,800.0a1.5,1.5 0 1,0 3,0a1.5,1.5 0 1,0 -3,0M837.4,832.0a1.5,1.5 0 1,0 3,0a1.5,1.5 0 1,0 -3,0M843.5,857.2a1.5,1.5 0 1,0 3,0a1.5,1.5 0 1,0 -3,0M849.7,876.8a1.5,1.5 0 1,0 3,0a1.5,1.5 0 1,0 -3,0M855.9,895.6a1.5,1.5 0 1,0 3,0a1.5,1.5 0 1,0 -3,0M862.1,914.2a1.5,1.5 0 1,0 3,0a1.5,1.5 0 1,0 -3,0M868.3,920.6a1.5,1.5 0 1,0 3,0a1.5,1.5 0 1,0 -3,0M874.5,929.2a1.5,1.5 0 1,0 3,0a1.5,1.5 0 1,0 -3,0M880.7,939.9a1.5,1.5 0 1,0 3,0a1.5,1.5 0 1,0 -3,0M886.9,947.4a1.5,1.5 0 1,0 3,0a1.5,1.5 0 1,0 -3,0M893.1,951.6a1.5,1.5 0 1,0 3,0a1.5,1.5 0 1,0 -3,0M899.3,957.0a1.5,1.5 0 1,0 3,0a1.5,1.5 0 1,0 -3,0M905.5,966.6a1.5,1.5 0 1,0 3,0a1.5,1.5 0 1,0 -3,0M911.6,974.6a1.5,1.5 0 1,0 3,0a1.5,1.5 0 1,0 -3,0M917.8,984.5a1.5,1.5 0 1,0 3,0a1.5,1.5 0 1,0 -3,0M924.0,985.6a1.5,1.5 0 1,0 3,0a1.5,1.5 0 1,0 -3,0M930.2,987.7a1.5,1.5 0 1,0 3,0a1.5,1.5 0 1,0 -3,0M936.4,994.1a1.5,1.5 0 1,0 3,0a1.5,1.5 0 1,0 -3,0M942.6,999.4a1.5,1.5 0 1,0 3,0a1.5,1.5 0 1,0 -3,0M948.8,1004.8a1.5,1.5 0 1,0 3,0a1.5,1.5 0 1,0 -3,0M955.0,1006.0a1.5,1.5 0 1,0 3,0a1.5,1.5 0 1,0 -3,0M961.2,1016.5a1.5,1.5 0 1,0 3,0a1.5,1.5 0 1,0 -3,0M967.4,1018.7a1.5,1.5 0 1,0 3,0a1.5,1.5 0 1,0 -3,0M973.5,1029.4a1.5,1.5 0 1,0 3,0a1.5,1.5 0 1,0 -3,0M979.7,1029.9a1.5,1.5 0 1,0 3,0a1.5,1.5 0 1,0 -3,0M985.9,1030.4a1.5,1.5 0 1,0 3,0a1.5,1.5 0 1,0 -3,0M992.1,1042.2a1.5,1.5 0 1,0 3,0a1.5,1.5 0 1,0 -3,0M998.3,1047.5a1.5,1.5 0 1,0 3,0a1.5,1.5 0 1,0 -3,0M1004.5,1053.9a1.5,1.5 0 1,0 3,0a1.5,1.5 0 1,0 -3,0M1010.7,1067.8a1.5,1.5 0 1,0 3,0a1.5,1.5 0 1,0 -3,0M1016.9,1071.0a1.5,1.5 0 1,0 3,0a1.5,1.5 0 1,0 -3,0M620.7,1077.3a1.5,1.5 0 1,0 3,0a1.5,1.5 0 1,0 -3,0M614.5,1077.3a1.5,1.5 0 1,0 3,0a1.5,1.5 0 1,0 -3,0M608.3,1077.3a1.5,1.5 0 1,0 3,0a1.5,1.5 0 1,0 -3,0M602.1,1077.3a1.5,1.5 0 1,0 3,0a1.5,1.5 0 1,0 -3,0M595.9,1077.3a1.5,1.5 0 1,0 3,0a1.5,1.5 0 1,0 -3,0M589.8,1077.3a1.5,1.5 0 1,0 3,0a1.5,1.5 0 1,0 -3,0M583.6,1077.3a1.5,1.5 0 1,0 3,0a1.5,1.5 0 1,0 -3,0M577.4,1077.3a1.5,1.5 0 1,0 3,0a1.5,1.5 0 1,0 -3,0M571.2,1077.3a1.5,1.5 0 1,0 3,0a1.5,1.5 0 1,0 -3,0M565.0,1077.3a1.5,1.5 0 1,0 3,0a1.5,1.5 0 1,0 -3,0M558.8,1077.3a1.5,1.5 0 1,0 3,0a1.5,1.5 0 1,0 -3,0M552.6,1077.3a1.5,1.5 0 1,0 3,0a1.5,1.5 0 1,0 -3,0M546.4,1077.3a1.5,1.5 0 1,0 3,0a1.5,1.5 0 1,0 -3,0M540.2,1077.3a1.5,1.5 0 1,0 3,0a1.5,1.5 0 1,0 -3,0M534.0,1077.3a1.5,1.5 0 1,0 3,0a1.5,1.5 0 1,0 -3,0M527.9,1077.3a1.5,1.5 0 1,0 3,0a1.5,1.5 0 1,0 -3,0M521.7,1077.3a1.5,1.5 0 1,0 3,0a1.5,1.5 0 1,0 -3,0M515.5,1077.3a1.5,1.5 0 1,0 3,0a1.5,1.5 0 1,0 -3,0M1023.1,1077.3a1.5,1.5 0 1,0 3,0a1.5,1.5 0 1,0 -3,0M1029.2,1077.3a1.5,1.5 0 1,0 3,0a1.5,1.5 0 1,0 -3,0M1035.4,1077.3a1.5,1.5 0 1,0 3,0a1.5,1.5 0 1,0 -3,0M1041.6,1077.3a1.5,1.5 0 1,0 3,0a1.5,1.5 0 1,0 -3,0M1047.8,1077.3a1.5,1.5 0 1,0 3,0a1.5,1.5 0 1,0 -3,0M1054.0,1077.3a1.5,1.5 0 1,0 3,0a1.5,1.5 0 1,0 -3,0M1060.2,1077.3a1.5,1.5 0 1,0 3,0a1.5,1.5 0 1,0 -3,0M1066.4,1077.3a1.5,1.5 0 1,0 3,0a1.5,1.5 0 1,0 -3,0M1072.6,1077.3a1.5,1.5 0 1,0 3,0a1.5,1.5 0 1,0 -3,0M1078.8,1077.3a1.5,1.5 0 1,0 3,0a1.5,1.5 0 1,0 -3,0M1085.0,1077.3a1.5,1.5 0 1,0 3,0a1.5,1.5 0 1,0 -3,0M1091.2,1077.3a1.5,1.5 0 1,0 3,0a1.5,1.5 0 1,0 -3,0M1097.3,1077.3a1.5,1.5 0 1,0 3,0a1.5,1.5 0 1,0 -3,0M1103.5,1077.3a1.5,1.5 0 1,0 3,0a1.5,1.5 0 1,0 -3,0M1109.7,1077.3a1.5,1.5 0 1,0 3,0a1.5,1.5 0 1,0 -3,0M1115.9,1077.3a1.5,1.5 0 1,0 3,0a1.5,1.5 0 1,0 -3,0M1122.1,1077.3a1.5,1.5 0 1,0 3,0a1.5,1.5 0 1,0 -3,0M1128.3,1077.3a1.5,1.5 0 1,0 3,0a1.5,1.5 0 1,0 -3,0M1134.5,1077.3a1.5,1.5 0 1,0 3,0a1.5,1.5 0 1,0 -3,0M1140.7,1077.3a1.5,1.5 0 1,0 3,0a1.5,1.5 0 1,0 -3,0M1146.9,1077.3a1.5,1.5 0 1,0 3,0a1.5,1.5 0 1,0 -3,0M1153.0,1077.3a1.5,1.5 0 1,0 3,0a1.5,1.5 0 1,0 -3,0M1159.2,1077.3a1.5,1.5 0 1,0 3,0a1.5,1.5 0 1,0 -3,0M1165.4,1077.3a1.5,1.5 0 1,0 3,0a1.5,1.5 0 1,0 -3,0M1171.6,1077.3a1.5,1.5 0 1,0 3,0a1.5,1.5 0 1,0 -3,0M1177.8,1077.3a1.5,1.5 0 1,0 3,0a1.5,1.5 0 1,0 -3,0" fill="#167016"/></g>
<g clip-path="url(#iclip)" fill="none" stroke-linejoin="round">
<path d="M516.7,1078.4 L518.3,1078.4 L520.0,1078.3 L521.6,1078.3 L523.3,1078.3 L524.9,1078.2 L526.6,1078.2 L528.2,1078.2 L529.9,1078.1 L531.5,1078.1 L533.2,1078.0 L534.8,1078.0 L536.5,1077.9 L538.1,1077.9 L539.8,1077.8 L541.4,1077.8 L543.1,1077.7 L544.7,1077.6 L546.4,1077.5 L548.0,1077.5 L549.7,1077.4 L551.3,1077.3 L553.0,1077.2 L554.6,1077.1 L556.3,1077.0 L557.9,1076.9 L559.6,1076.7 L561.2,1076.6 L562.9,1076.5 L564.5,1076.3 L566.2,1076.2 L567.8,1076.0 L569.5,1075.8 L571.1,1075.7 L572.8,1075.5 L574.4,1075.3 L576.1,1075.0 L577.7,1074.8 L579.4,1074.6 L581.0,1074.3 L582.7,1074.1 L584.3,1073.8 L586.0,1073.5 L587.6,1073.2 L589.3,1072.8 L590.9,1072.5 L592.6,1072.1 L594.2,1071.7 L595.9,1071.3 L597.5,1070.9 L599.2,1070.4 L600.8,1070.0 L602.5,1069.5 L604.1,1069.0 L605.8,1068.4 L607.4,1067.9 L609.1,1067.3 L610.7,1066.6 L612.4,1066.0 L614.0,1065.3 L615.7,1064.6 L617.3,1063.8 L619.0,1063.1 L620.6,1062.2 L622.3,1061.4 L623.9,1060.5 L625.6,1059.6 L627.2,1058.6 L628.9,1057.6 L630.5,1056.5 L632.2,1055.4 L633.8,1054.3 L635.5,1053.1 L637.1,1051.9 L638.8,1050.6 L640.4,1049.2 L642.1,1047.8 L643.7,1046.4 L645.4,1044.9 L647.0,1043.3 L648.7,1041.7 L650.3,1040.1 L652.0,1038.3 L653.6,1036.5 L655.3,1034.7 L656.9,1032.7 L658.6,1030.8 L660.2,1028.7 L661.9,1026.6 L663.5,1024.4 L665.2,1022.1 L666.8,1019.8 L668.5,1017.4 L670.1,1014.9 L671.8,1012.3 L673.4,1009.7 L675.1,1006.9 L676.7,1004.1 L678.4,1001.3 L680.0,998.3 L681.7,995.3 L683.3,992.1 L685.0,988.9 L686.6,985.6 L688.3,982.2 L689.9,978.8 L691.6,975.2 L693.2,971.6 L694.9,967.9 L696.5,964.0 L698.2,960.1 L699.8,956.2 L701.5,952.1 L703.1,947.9 L704.8,943.7 L706.4,939.3 L708.1,934.9 L709.7,930.4 L711.4,925.8 L713.0,921.2 L714.7,916.4 L716.3,911.6 L718.0,906.7 L719.6,901.7 L721.3,896.6 L722.9,891.4 L724.6,886.2 L726.2,880.9 L727.9,875.6 L729.5,870.1 L731.2,864.6 L732.8,859.1 L734.5,853.4 L736.1,847.8 L737.7,842.0 L739.4,836.2 L741.0,830.4 L742.7,824.5 L744.3,818.6 L746.0,812.6 L747.6,806.6 L749.3,800.6 L750.9,794.5 L752.6,788.5 L754.2,782.4 L755.9,776.2 L757.5,770.1 L759.2,764.0 L760.8,757.8 L762.5,751.7 L764.1,745.5 L765.8,739.4 L767.4,733.3 L769.1,727.2 L770.7,721.2 L772.4,715.1 L774.0,709.1 L775.7,703.2 L777.3,697.3 L779.0,691.4 L780.6,685.6 L782.3,679.9 L783.9,674.2 L785.6,668.6 L787.2,663.1 L788.9,657.6 L790.5,652.3 L792.2,647.0 L793.8,641.9 L795.5,636.8 L797.1,631.8 L798.8,627.0 L800.4,622.3 L802.1,617.7 L803.7,613.2 L805.4,608.8 L807.0,604.6 L808.7,600.6 L810.3,596.6 L812.0,592.9 L813.6,589.2 L815.3,585.8 L816.9,582.5 L818.6,579.3 L820.2,576.3 L821.9,573.5 L823.5,570.9 L825.2,568.4 L826.8,566.2 L828.5,564.1 L830.1,562.1 L831.8,560.4 L833.4,558.9 L835.1,557.5 L836.7,556.3 L838.4,555.4 L840.0,554.6 L841.7,554.0 L843.3,553.6 L845.0,553.4 L846.6,553.4 L848.3,553.6 L849.9,554.0 L851.6,554.6 L853.2,555.4 L854.9,556.3 L856.5,557.5 L858.2,558.9 L859.8,560.4 L861.5,562.1 L863.1,564.1 L864.8,566.2 L866.4,568.4 L868.1,570.9 L869.7,573.5 L871.4,576.3 L873.0,579.3 L874.7,582.5 L876.3,585.8 L878.0,589.2 L879.6,592.9 L881.3,596.6 L882.9,600.6 L884.6,604.6 L886.2,608.8 L887.9,613.2 L889.5,617.7 L891.2,622.3 L892.8,627.0 L894.5,631.8 L896.1,636.8 L897.8,641.9 L899.4,647.0 L901.1,652.3 L902.7,657.6 L904.4,663.1 L906.0,668.6 L907.7,674.2 L909.3,679.9 L911.0,685.6 L912.6,691.4 L914.3,697.3 L915.9,703.2 L917.6,709.1 L919.2,715.1 L920.9,721.2 L922.5,727.2 L924.2,733.3 L925.8,739.4 L927.5,745.5 L929.1,751.7 L930.8,757.8 L932.4,764.0 L934.1,770.1 L935.7,776.2 L937.4,782.4 L939.0,788.5 L940.7,794.5 L942.3,800.6 L944.0,806.6 L945.6,812.6 L947.3,818.6 L948.9,824.5 L950.6,830.4 L952.2,836.2 L953.9,842.0 L955.5,847.8 L957.1,853.4 L958.8,859.1 L960.4,864.6 L962.1,870.1 L963.7,875.6 L965.4,880.9 L967.0,886.2 L968.7,891.4 L970.3,896.6 L972.0,901.7 L973.6,906.7 L975.3,911.6 L976.9,916.4 L978.6,921.2 L980.2,925.8 L981.9,930.4 L983.5,934.9 L985.2,939.3 L986.8,943.7 L988.5,947.9 L990.1,952.1 L991.8,956.2 L993.4,960.1 L995.1,964.0 L996.7,967.9 L998.4,971.6 L1000.0,975.2 L1001.7,978.8 L1003.3,982.2 L1005.0,985.6 L1006.6,988.9 L1008.3,992.1 L1009.9,995.3 L1011.6,998.3 L1013.2,1001.3 L1014.9,1004.1 L1016.5,1006.9 L1018.2,1009.7 L1019.8,1012.3 L1021.5,1014.9 L1023.1,1017.4 L1024.8,1019.8 L1026.4,1022.1 L1028.1,1024.4 L1029.7,1026.6 L1031.4,1028.7 L1033.0,1030.8 L1034.7,1032.7 L1036.3,1034.7 L1038.0,1036.5 L1039.6,1038.3 L1041.3,1040.1 L1042.9,1041.7 L1044.6,1043.3 L1046.2,1044.9 L1047.9,1046.4 L1049.5,1047.8 L1051.2,1049.2 L1052.8,1050.6 L1054.5,1051.9 L1056.1,1053.1 L1057.8,1054.3 L1059.4,1055.4 L1061.1,1056.5 L1062.7,1057.6 L1064.4,1058.6 L1066.0,1059.6 L1067.7,1060.5 L1069.3,1061.4 L1071.0,1062.2 L1072.6,1063.1 L1074.3,1063.8 L1075.9,1064.6 L1077.6,1065.3 L1079.2,1066.0 L1080.9,1066.6 L1082.5,1067.3 L1084.2,1067.9 L1085.8,1068.4 L1087.5,1069.0 L1089.1,1069.5 L1090.8,1070.0 L1092.4,1070.4 L1094.1,1070.9 L1095.7,1071.3 L1097.4,1071.7 L1099.0,1072.1 L1100.7,1072.5 L1102.3,1072.8 L1104.0,1073.2 L1105.6,1073.5 L1107.3,1073.8 L1108.9,1074.1 L1110.6,1074.3 L1112.2,1074.6 L1113.9,1074.8 L1115.5,1075.0 L1117.2,1075.3 L1118.8,1075.5 L1120.5,1075.7 L1122.1,1075.8 L1123.8,1076.0 L1125.4,1076.2 L1127.1,1076.3 L1128.7,1076.5 L1130.4,1076.6 L1132.0,1076.7 L1133.7,1076.9 L1135.3,1077.0 L1137.0,1077.1 L1138.6,1077.2 L1140.3,1077.3 L1141.9,1077.4 L1143.6,1077.5 L1145.2,1077.5 L1146.9,1077.6 L1148.5,1077.7 L1150.2,1077.8 L1151.8,1077.8 L1153.5,1077.9 L1155.1,1077.9 L1156.8,1078.0 L1158.4,1078.0 L1160.1,1078.1 L1161.7,1078.1 L1163.4,1078.2 L1165.0,1078.2 L1166.7,1078.2 L1168.3,1078.3 L1170.0,1078.3 L1171.6,1078.3 L1173.3,1078.4 L1174.9,1078.4" stroke="#000" stroke-width="2.6"/>
<path d="M661.5,1078.7 H695.0 L700.3,553.4 H991.0 L997.3,1078.7 H1016.9" stroke="#e0101a" stroke-width="2.6"/>
<path d="M628.6,1078.7 L660.8,1078.7 L668.1,565.5 L668.1,565.5 L669.8,571.1 L671.5,576.6 L673.2,582.0 L674.8,587.4 L676.5,592.8 L678.2,598.0 L679.9,603.3 L681.6,608.4 L683.3,613.5 L685.0,618.6 L686.7,623.6 L688.4,628.5 L690.0,633.4 L691.7,638.3 L693.4,643.0 L695.1,647.8 L696.8,652.5 L698.5,657.1 L700.2,661.7 L701.9,666.2 L703.6,670.7 L705.3,675.1 L706.9,679.5 L708.6,683.8 L710.3,688.1 L712.0,692.4 L713.7,696.6 L715.4,700.7 L717.1,704.8 L718.8,708.9 L720.5,712.9 L722.2,716.9 L723.8,720.8 L725.5,724.7 L727.2,728.5 L728.9,732.3 L730.6,736.1 L732.3,739.8 L734.0,743.5 L735.7,747.1 L737.4,750.8 L739.0,754.3 L740.7,757.8 L742.4,761.3 L744.1,764.8 L745.8,768.2 L747.5,771.6 L749.2,774.9 L750.9,778.2 L752.6,781.5 L754.3,784.7 L755.9,787.9 L757.6,791.0 L759.3,794.2 L761.0,797.3 L762.7,800.3 L764.4,803.3 L766.1,806.3 L767.8,809.3 L769.5,812.2 L771.1,815.1 L772.8,818.0 L774.5,820.8 L776.2,823.6 L777.9,826.4 L779.6,829.1 L781.3,831.8 L783.0,834.5 L784.7,837.2 L786.4,839.8 L788.0,842.4 L789.7,845.0 L791.4,847.5 L793.1,850.0 L794.8,852.5 L796.5,854.9 L798.2,857.4 L799.9,859.8 L801.6,862.2 L803.2,864.5 L804.9,866.8 L806.6,869.1 L808.3,871.4 L810.0,873.7 L811.7,875.9 L813.4,878.1 L815.1,880.3 L816.8,882.4 L818.5,884.6 L820.1,886.7 L821.8,888.8 L823.5,890.8 L825.2,892.9 L826.9,894.9 L828.6,896.9 L830.3,898.9 L832.0,900.8 L833.7,902.7 L835.3,904.7 L837.0,906.5 L838.7,908.4 L840.4,910.3 L842.1,912.1 L843.8,913.9 L845.5,915.7 L847.2,917.5 L848.9,919.2 L850.6,920.9 L852.2,922.7 L853.9,924.4 L855.6,926.0 L857.3,927.7 L859.0,929.3 L860.7,931.0 L862.4,932.6 L864.1,934.1 L865.8,935.7 L867.5,937.3 L869.1,938.8 L870.8,940.3 L872.5,941.8 L874.2,943.3 L875.9,944.8 L877.6,946.2 L879.3,947.7 L881.0,949.1 L882.7,950.5 L884.3,951.9 L886.0,953.3 L887.7,954.6 L889.4,956.0 L891.1,957.3 L892.8,958.6 L894.5,959.9 L896.2,961.2 L897.9,962.5 L899.6,963.8 L901.2,965.0 L902.9,966.3 L904.6,967.5 L906.3,968.7 L908.0,969.9 L909.7,971.1 L911.4,972.2 L913.1,973.4 L914.8,974.5 L916.4,975.7 L918.1,976.8 L919.8,977.9 L921.5,979.0 L923.2,980.1 L924.9,981.1 L926.6,982.2 L928.3,983.3 L930.0,984.3 L931.7,985.3 L933.3,986.3 L935.0,987.3 L936.7,988.3 L938.4,989.3 L940.1,990.3 L941.8,991.2 L943.5,992.2 L945.2,993.1 L946.9,994.1 L948.5,995.0 L950.2,995.9 L951.9,996.8 L953.6,997.7 L955.3,998.6 L957.0,999.4 L958.7,1000.3 L960.4,1001.1 L962.1,1002.0 L963.8,1002.8 L965.4,1003.6 L967.1,1004.5 L968.8,1005.3 L970.5,1006.1 L972.2,1006.9 L973.9,1007.6 L975.6,1008.4 L977.3,1009.2 L979.0,1009.9 L980.6,1010.7 L982.3,1011.4 L984.0,1012.1 L985.7,1012.9 L987.4,1013.6 L989.1,1014.3 L990.8,1015.0 L992.5,1015.7 L994.2,1016.4 L995.9,1017.0 L997.5,1017.7 L999.2,1018.4 L1000.9,1019.0 L1002.6,1019.7 L1004.3,1020.3 L1006.0,1021.0 L1007.7,1021.6 L1009.4,1022.2 L1011.1,1022.8 L1012.7,1023.4 L1014.4,1024.0 L1016.1,1024.6 L1017.8,1025.2 L1019.5,1025.8 L1021.2,1026.4 L1022.9,1026.9 L1024.6,1027.5 L1026.3,1028.0 L1028.0,1028.6 L1029.6,1029.1 L1031.3,1029.7 L1033.0,1030.2 L1034.7,1030.7 L1036.4,1031.3 L1038.1,1031.8 L1039.8,1032.3 L1041.5,1032.8 L1043.2,1033.3 L1044.9,1033.8 L1046.5,1034.3 L1048.2,1034.8 L1049.9,1035.2 L1051.6,1035.7 L1053.3,1036.2 L1055.0,1036.6 L1056.7,1037.1 L1058.4,1037.5 L1060.1,1038.0 L1061.7,1038.4 L1063.4,1038.9 L1065.1,1039.3 L1066.8,1039.7 L1068.5,1040.1 L1070.2,1040.6 L1071.9,1041.0 L1073.6,1041.4 L1075.3,1041.8 L1077.0,1042.2 L1078.6,1042.6 L1080.3,1043.0 L1082.0,1043.4 L1083.7,1043.8 L1085.4,1044.1 L1087.1,1044.5 L1088.8,1044.9 L1090.5,1045.3 L1092.2,1045.6 L1093.8,1046.0 L1095.5,1046.3 L1097.2,1046.7 L1098.9,1047.0 L1100.6,1047.4 L1102.3,1047.7 L1104.0,1048.1 L1105.7,1048.4 L1107.4,1048.7 L1109.1,1049.0 L1110.7,1049.4 L1112.4,1049.7 L1114.1,1050.0 L1115.8,1050.3 L1117.5,1050.6 L1119.2,1050.9 L1120.9,1051.2 L1122.6,1051.5 L1124.3,1051.8 L1125.9,1052.1 L1127.6,1052.4 L1129.3,1052.7 L1131.0,1053.0 L1132.7,1053.2 L1134.4,1053.5 L1136.1,1053.8 L1137.8,1054.1 L1139.5,1054.3 L1141.2,1054.6 L1142.8,1054.9 L1144.5,1055.1 L1146.2,1055.4 L1147.9,1055.6 L1149.6,1055.9 L1151.3,1056.1 L1153.0,1056.4 L1154.7,1056.6 L1156.4,1056.9 L1158.0,1057.1 L1159.7,1057.3 L1161.4,1057.6 L1163.1,1057.8 L1164.8,1058.0 L1166.5,1058.2 L1168.2,1058.5 L1169.9,1058.7 L1171.6,1058.9 L1173.3,1059.1 L1174.9,1078.7" stroke="#0000e8" stroke-width="2.6"/>
</g>
<circle cx="997.5" cy="555.5" r="1.3" fill="#3030f0"/>
</g></svg></body></html>
